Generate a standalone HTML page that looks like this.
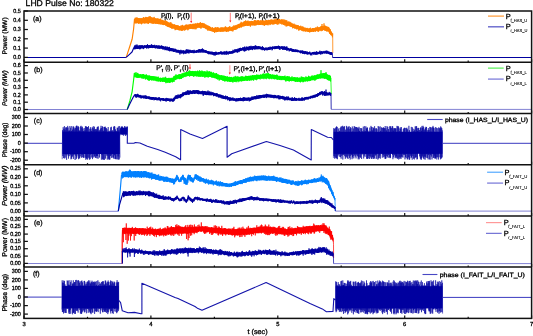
<!DOCTYPE html><html><head><meta charset="utf-8"><style>html,body{margin:0;padding:0;background:#fff;width:533px;height:336px;overflow:hidden}svg{display:block;will-change:transform}text{font-family:"Liberation Sans", sans-serif;stroke:#000;stroke-width:0.3px;paint-order:stroke;text-rendering:geometricPrecision}.s{stroke-width:0.1px}</style></head><body>
<svg width="533" height="336" viewBox="0 0 533 336">
<rect width="533" height="336" fill="#fff"/>
<path d="M24,57.5 126.2,57.5" fill="none" stroke="#0000a0" stroke-width="1.0" />
<path d="M134.5,17.6 134.7,17.8 135.1,17.9 135.3,18.4 135.6,18.6 135.9,17.8 136.2,17.8 136.6,18.2 137,17.9 137.2,18.1 137.6,18 138,18.3 138.5,18.1 138.7,18.6 139,18.5 139.4,18.2 139.8,18.4 140.3,18.6 140.7,19.1 141,18.5 141.3,18 141.7,18 142.2,18.1 142.6,18.6 143,18.5 143.2,17.8 143.6,17.7 143.9,17.9 144.3,17.9 144.5,18.1 145,17.6 145.3,17.4 145.6,17.4 145.8,17.5 146.3,17.3 146.6,17.2 147.1,17.4 147.3,17.2 147.6,18 147.8,17 148.3,17.4 148.6,17.5 149.1,16.9 149.6,17.4 150,17 150.2,16.8 150.6,17 151.1,17.1 151.4,17 151.8,17.3 152.3,17.6 152.7,17.5 153.1,18 153.4,18.3 153.7,17.5 154.1,18.2 154.5,17.9 154.7,18.1 155.2,18.6 155.5,17.9 155.8,18.1 156.3,18.2 156.8,19 157.1,18.2 157.4,18.9 157.7,18.6 158.1,19 158.5,18.6 158.8,19.1 159.1,18.9 159.6,19 160,19.6 160.3,19.8 160.6,19.2 160.8,19.5 161.3,19.7 161.5,20.2 162,19.7 162.5,19.8 162.8,19.8 163,19.9 163.3,20.1 163.8,21 164.1,20.7 164.3,21 164.6,21.1 165,20.4 165.3,21.4 165.8,21.5 166.2,21.1 166.7,21.2 167,21.3 167.2,21.5 167.5,21.6 167.7,21.7 168.1,22 168.3,22.1 168.8,22.4 169.3,23.1 169.6,22.7 169.9,23.2 170.1,23.5 170.5,22.9 170.9,23.2 171.4,23.5 171.8,23.5 172.2,23.7 172.5,23.6 172.8,23.7 173.1,24 173.5,24.7 173.8,24 174.2,24.8 174.6,24.9 174.9,25.1 175.4,25.3 175.8,24.7 176.1,25.5 176.5,25.4 176.7,25.5 177.1,25.1 177.3,25.3 177.6,26.2 177.9,25.9 178.3,25.5 178.6,25.7 178.8,25.8 179.2,25.9 179.5,26 179.8,26.9 180.1,27 180.4,26.9 180.8,26.2 181,26.1 181.5,26.6 181.7,26 182,25.8 182.4,26.1 182.7,26 182.9,25.6 183.3,25.6 183.5,26 184,25.3 184.3,26.1 184.7,25.9 185.1,25 185.4,25.3 185.6,24.9 185.9,25.3 186.2,24.8 186.5,24.7 187,24.6 187.5,24.4 187.7,24.4 188,25.1 188.3,24.5 188.7,24.2 188.9,24.5 189.2,24.1 189.5,24.6 189.7,24.4 190.1,23.8 190.5,24.5 190.8,23.8 191.2,24.3 191.6,24.1 192.1,24.6 192.4,23.9 192.8,23.8 193.1,23.8 193.3,24 193.7,24 194,24.3 194.2,24.3 194.5,24.7 194.7,24 195,24.3 195.3,23.8 195.5,24.3 196,23.6 196.3,24.4 196.7,24.4 196.9,23.5 197.4,24.3 197.7,24.1 197.9,23.3 198.2,23.1 198.5,23 198.8,23.6 199.1,23.1 199.5,22.9 199.8,23.4 200,22.7 200.3,23.5 200.6,23.1 201,22.8 201.4,23.1 201.6,22.9 202.1,22.8 202.4,22.7 202.8,23.3 203.1,22.9 203.4,23.5 203.6,23.3 204.1,24.3 204.3,23.7 204.7,23.8 205.1,24.6 205.3,24.1 205.6,24.2 205.9,25.1 206.2,25.5 206.5,25.1 206.7,25.4 207.2,25.1 207.4,25.5 207.8,25.6 208.2,25.6 208.6,25.9 208.8,26.3 209.1,26.2 209.4,26.3 209.7,26.5 210.1,26.6 210.5,26.8 211,27.2 211.3,27.9 211.6,27 212,27.8 212.5,27.2 212.8,28.1 213.2,27.6 213.5,28.3 213.9,28.5 214.1,28.5 214.3,27.8 214.7,27.8 215,28.5 215.3,27.9 215.6,27.8 216,28.1 216.3,27.7 216.6,27.8 217,28.1 217.3,28 217.6,28.3 217.9,27.6 218.2,27.8 218.4,27.6 218.8,27.6 219.2,27.6 219.6,28.2 220.1,28.4 220.4,28.3 220.7,27.5 221,27.5 221.5,27.5 221.8,27.4 222.2,28.2 222.7,27.6 223,27.6 223.4,28.3 223.7,27.3 224.1,27.8 224.4,27.2 224.7,28.2 225,27.2 225.3,27.4 225.8,27.2 226,27.2 226.3,27.4 226.6,27.3 227,27 227.4,27.6 227.7,27.4 228,27.1 228.4,27.7 228.8,26.9 229.2,27.1 229.5,27.2 229.9,26.8 230.1,27.6 230.6,27.4 230.9,26.9 231.1,26.7 231.6,27.4 231.8,26.8 232.2,26.9 232.5,26.4 232.7,27.2 233,26.2 233.5,26.4 234,26.4 234.4,26 234.7,25.8 235.2,25.2 235.7,25 235.9,25.2 236.3,25 236.8,25.3 237.2,25.2 237.5,24.1 237.9,24.6 238.2,23.8 238.5,23.9 238.7,24.1 239,23.7 239.4,23.4 239.9,23.6 240.1,23 240.4,22.9 240.9,22.9 241.3,22.7 241.7,23.2 242,22.4 242.4,22.7 242.8,22 243.2,21.7 243.4,21.7 243.7,22.3 244.1,21.9 244.5,21.3 244.9,21.6 245.2,21.3 245.6,21.1 245.9,21.7 246.1,21.1 246.4,21 246.8,21.9 247.1,21.6 247.4,21.4 247.7,21 248.1,21.3 248.5,21.4 248.9,21.2 249.3,21.1 249.8,21.5 250.2,21.2 250.6,21.1 251,21 251.3,21 251.8,21.2 252.1,21.7 252.5,21.3 252.8,21 253.2,21.1 253.6,21.5 254,21.1 254.5,20.5 254.8,20.6 255.2,20.5 255.6,20.7 256,20.4 256.5,20.7 256.8,21.2 257.2,20.9 257.5,20.2 257.8,20.2 258.1,20.1 258.5,20.1 258.9,20.4 259.2,20.7 259.6,20.6 260.1,19.9 260.5,20 260.8,20.6 261,20.6 261.5,20.7 262,20.8 262.4,20.7 262.8,20.3 263.1,20.2 263.3,20.5 263.8,21 264.1,21 264.5,20.4 264.9,20.8 265.3,21.3 265.7,20.3 266.1,21 266.4,20.8 266.7,20.4 267,20.2 267.3,21 267.7,20.1 268.1,20.5 268.5,20.1 268.8,19.8 269.2,20.4 269.6,20.1 270,19.7 270.3,19.6 270.5,20.4 270.8,20.1 271.1,19.6 271.4,20.3 271.8,19.3 272.2,19.5 272.5,20.1 272.8,19.3 273.1,19.2 273.5,20.1 274,19.2 274.3,19.2 274.7,19.9 274.9,19.6 275.4,20 275.6,19.5 275.8,19.6 276.3,19 276.6,19.5 277.1,19.4 277.4,19.6 277.8,19 278.3,19.6 278.7,19.6 279,19.7 279.4,19.6 279.7,18.9 280.1,19.6 280.5,19.7 280.8,19.7 281.3,19.2 281.7,19.9 282,19.9 282.2,20.1 282.6,20.3 282.8,20.5 283.2,20.2 283.5,20.4 283.8,20.3 284.1,20.2 284.4,20.2 284.8,20.3 285.2,20.7 285.5,20.8 285.9,21.7 286.2,20.9 286.4,21.7 286.9,21.1 287.2,22.1 287.6,22.2 287.9,21.5 288.4,21.6 288.7,22.5 288.9,22.3 289.4,22 289.9,22.2 290.3,22.4 290.5,22.4 290.8,22.5 291,23.5 291.5,23.6 291.8,23.8 292.2,23.2 292.6,23.3 292.8,23.6 293.3,23.7 293.5,23.7 293.9,24.6 294.4,24.7 294.6,24.1 294.9,25.1 295.4,24.4 295.6,24.5 295.8,24.6 296,24.9 296.4,24.8 296.6,25.4 296.9,25 297.2,25.1 297.6,25.6 297.9,25.5 298.1,25.5 298.5,25.6 298.9,25.8 299.3,26 299.7,26.3 300.1,26.7 300.5,26.8 300.9,27.2 301.3,26.8 301.5,26.6 301.7,27.3 302,26.7 302.3,27 302.6,27.3 302.8,27.1 303.1,26.9 303.5,27.3 303.8,27.9 304.1,27.4 304.6,27.4 304.9,28.3 305.3,28.1 305.7,28.4 306,27.7 306.3,27.9 306.5,28.3 306.9,28.6 307.1,27.9 307.4,28.8 307.7,28.2 308,28.5 308.4,28.4 308.7,28.2 308.9,28.4 309.2,28.6 309.6,28.8 310,28.8 310.3,28.5 310.7,28.7 311,28.4 311.4,29.2 311.8,28.2 312.1,28.3 312.5,28.1 312.9,28.1 313.3,28.6 313.7,28.4 314,28.3 314.3,27.7 314.7,28.6 315,28.4 315.3,27.8 315.6,27.8 315.9,28.2 316.2,27.5 316.6,27.4 316.9,28 317.2,28.1 317.4,27.5 317.8,28.1 318.2,27.2 318.6,27.9 318.9,27 319.3,27.5 319.6,27.1 319.9,27.3 320.2,27.2 320.5,26.9 321,26.5 321.3,26.5 321.5,26.5 322,26 322.4,26.4 322.7,26.2 323,26.1 323.4,26.7 323.7,25.6 323.9,25.5 324.4,26.3 324.6,25.8 324.9,25.8 325.4,26 325.7,26.8 326.2,26.5 326.4,26.9 326.9,26.4 327.3,27.4 327.7,26.6 328.1,27.5 328.4,27.2 328.7,27.6 329,28.1 329.4,28.7 329.7,29.1 330,30 330.3,29.9 330.7,30.6 331.2,32 331.6,31.8 331.9,32.2 332.3,32.8 332.5,33.2 332.7,33.8 332.7,36.7 332.5,36.6 332.3,36.3 331.9,35.5 331.6,35.9 331.2,35.5 330.7,34.9 330.3,34.3 330,34.2 329.7,33.4 329.4,33.4 329,32.9 328.7,32.3 328.4,31.3 328.1,31.9 327.7,31.6 327.3,31.5 326.9,31 326.4,31.1 326.2,31.1 325.7,30.7 325.4,30.7 324.9,30.7 324.6,30.1 324.4,30.5 323.9,30.1 323.7,29.9 323.4,30.2 323,30.5 322.7,30.2 322.4,30.7 322,30.6 321.5,30.7 321.3,30.8 321,30.9 320.5,30.3 320.2,30.8 319.9,31 319.6,30.1 319.3,30.3 318.9,31.1 318.6,30.8 318.2,31.2 317.8,31.2 317.4,30.6 317.2,31.5 316.9,30.6 316.6,30.7 316.2,31.6 315.9,31.4 315.6,31.5 315.3,31.2 315,31.4 314.7,31.4 314.3,31.2 314,31 313.7,31.3 313.3,31.2 312.9,31.8 312.5,31.1 312.1,31.9 311.8,31.3 311.4,32.1 311,31.9 310.7,32.2 310.3,32.2 310,31.9 309.6,32.2 309.2,31.4 308.9,32 308.7,32 308.4,31.9 308,31.9 307.7,31 307.4,31.4 307.1,31.3 306.9,30.9 306.5,30.8 306.3,31.6 306,31.3 305.7,31.4 305.3,31.4 304.9,30.7 304.6,31.2 304.1,31 303.8,31 303.5,30.5 303.1,30.6 302.8,30.9 302.6,30.9 302.3,30.4 302,30.8 301.7,30.7 301.5,30.6 301.3,30.4 300.9,29.7 300.5,30.4 300.1,29.7 299.7,30.1 299.3,30 298.9,30 298.5,29 298.1,29 297.9,29.1 297.6,29.5 297.2,29 296.9,28.9 296.6,28.6 296.4,28.7 296,28.9 295.8,28.8 295.6,27.8 295.4,27.9 294.9,27.5 294.6,28.4 294.4,27.9 293.9,28.1 293.5,28 293.3,27.9 292.8,27.7 292.6,27.6 292.2,26.8 291.8,26.7 291.5,27.2 291,27 290.8,26.5 290.5,26.8 290.3,26.7 289.9,26.3 289.4,26 288.9,26 288.7,25.7 288.4,26.2 287.9,25.3 287.6,25.7 287.2,26 286.9,25.6 286.4,25.6 286.2,25.8 285.9,25.7 285.5,24.7 285.2,25.2 284.8,25.4 284.4,25 284.1,25.2 283.8,25.1 283.5,24.8 283.2,24.9 282.8,24 282.6,24.1 282.2,23.9 282,24.3 281.7,23.5 281.3,23.9 280.8,23.6 280.5,23.6 280.1,23.8 279.7,23.6 279.4,23.2 279,23.7 278.7,23.5 278.3,23.8 277.8,24 277.4,23.1 277.1,23.6 276.6,24 276.3,23.9 275.8,24.1 275.6,23.5 275.4,23.6 274.9,24 274.7,23.7 274.3,24.2 274,23.7 273.5,24.3 273.1,24.3 272.8,23.9 272.5,23.4 272.2,24.4 271.8,23.8 271.4,24.5 271.1,24.4 270.8,24.3 270.5,24.2 270.3,24.6 270,24.3 269.6,24.3 269.2,24 268.8,24.1 268.5,24.9 268.1,25 267.7,25 267.3,24.7 267,24.9 266.7,24.5 266.4,25.2 266.1,25.2 265.7,24.9 265.3,25.2 264.9,25 264.5,25 264.1,25.3 263.8,25.2 263.3,25 263.1,25.1 262.8,25.2 262.4,25 262,25.2 261.5,24.7 261,25.1 260.8,25 260.5,25 260.1,25 259.6,25 259.2,25.1 258.9,24.7 258.5,25.1 258.1,25.2 257.8,25.1 257.5,24.6 257.2,25.1 256.8,25.2 256.5,25.2 256,25.4 255.6,25.4 255.2,25.5 254.8,25.4 254.5,25.5 254,25.6 253.6,25.7 253.2,25.1 252.8,25.5 252.5,24.9 252.1,25.9 251.8,25.3 251.3,25.5 251,25.8 250.6,25.4 250.2,26 249.8,25.4 249.3,25.6 248.9,25.8 248.5,25.9 248.1,25.7 247.7,25.9 247.4,26.1 247.1,25.6 246.8,26.1 246.4,25.1 246.1,25.8 245.9,26.1 245.6,26.1 245.2,26.1 244.9,26.1 244.5,26.3 244.1,25.9 243.7,26.5 243.4,25.9 243.2,26 242.8,26.8 242.4,26.6 242,27.2 241.7,27.3 241.3,27.4 240.9,27.4 240.4,27.3 240.1,27.3 239.9,27.8 239.4,28 239,27.6 238.7,28.3 238.5,28.6 238.2,28.1 237.9,28.4 237.5,28.3 237.2,29.1 236.8,29.3 236.3,29.3 235.9,29.1 235.7,29.7 235.2,29.8 234.7,30 234.4,29.8 234,29.8 233.5,30.1 233,30.6 232.7,30.3 232.5,30.9 232.2,30.1 231.8,30.5 231.6,30.6 231.1,31.1 230.9,31.1 230.6,30.7 230.1,30.6 229.9,31.2 229.5,31.1 229.2,30.5 228.8,31.4 228.4,31.4 228,30.6 227.7,31.2 227.4,31.3 227,31.5 226.6,31.5 226.3,31.2 226,31.6 225.8,31.2 225.3,31.4 225,31.7 224.7,31.4 224.4,31.1 224.1,31.6 223.7,30.8 223.4,31.4 223,31.5 222.7,31.4 222.2,31.8 221.8,31.9 221.5,31.7 221,31.7 220.7,31.2 220.4,32 220.1,31.2 219.6,32 219.2,31.3 218.8,31.8 218.4,31.6 218.2,31.8 217.9,32.1 217.6,31.9 217.3,31.9 217,32 216.6,32 216.3,31.9 216,31.7 215.6,31.7 215.3,32 215,31.6 214.7,31.6 214.3,31.3 214.1,31.9 213.9,32 213.5,31.9 213.2,31.9 212.8,31.8 212.5,31.7 212,31.4 211.6,31.5 211.3,31.3 211,31.2 210.5,31.1 210.1,31.1 209.7,30.8 209.4,30.2 209.1,30.2 208.8,30.1 208.6,30.4 208.2,29.9 207.8,30 207.4,29 207.2,29.8 206.7,28.8 206.5,28.5 206.2,29.1 205.9,28.8 205.6,29 205.3,28.6 205.1,28.3 204.7,28.2 204.3,27.9 204.1,28.2 203.6,28 203.4,27.9 203.1,27.3 202.8,27.4 202.4,27.2 202.1,27.6 201.6,26.9 201.4,26.9 201,27.8 200.6,27.7 200.3,27.7 200,27 199.8,27.3 199.5,27.1 199.1,27.9 198.8,27.4 198.5,27.2 198.2,28.1 197.9,28.1 197.7,27.8 197.4,27.5 196.9,27.7 196.7,28.5 196.3,28.6 196,28.6 195.5,28.7 195.3,28.2 195,28.6 194.7,28.4 194.5,28.9 194.2,28.8 194,28.9 193.7,28.9 193.3,28.1 193.1,28.7 192.8,28.8 192.4,28.7 192.1,28.7 191.6,29.1 191.2,28.7 190.8,28.9 190.5,28.2 190.1,29 189.7,28.5 189.5,28.5 189.2,29.2 188.9,28.7 188.7,28.6 188.3,29.4 188,29.1 187.7,29.6 187.5,29.7 187,29 186.5,29.9 186.2,29.7 185.9,29.1 185.6,29.9 185.4,30.1 185.1,29.7 184.7,29.5 184.3,29.6 184,30.2 183.5,30.5 183.3,30.5 182.9,29.6 182.7,29.9 182.4,30 182,30.7 181.7,30.6 181.5,30.6 181,30.1 180.8,30.1 180.4,31 180.1,30.9 179.8,31 179.5,30.2 179.2,30.6 178.8,30.3 178.6,30.3 178.3,30.5 177.9,29.8 177.6,30.1 177.3,29.7 177.1,29.6 176.7,29.8 176.5,29.7 176.1,29.5 175.8,29.7 175.4,29.2 174.9,28.8 174.6,29.3 174.2,28.4 173.8,28.6 173.5,28.8 173.1,28.3 172.8,28.7 172.5,28.6 172.2,28.5 171.8,28.4 171.4,28.2 170.9,28 170.5,27.9 170.1,27.1 169.9,27.7 169.6,27.6 169.3,27 168.8,26.8 168.3,26.8 168.1,26 167.7,26.2 167.5,26.5 167.2,25.9 167,26.4 166.7,26 166.2,25.7 165.8,25.8 165.3,25.2 165,25 164.6,25.1 164.3,24.7 164.1,25.2 163.8,25.2 163.3,25.1 163,25.1 162.8,24.5 162.5,24.7 162,23.9 161.5,24.7 161.3,24.2 160.8,24 160.6,24.5 160.3,23.8 160,23.5 159.6,24.1 159.1,24 158.8,23.4 158.5,23.6 158.1,24.2 157.7,24 157.4,24.1 157.1,23.9 156.8,23.8 156.3,23.7 155.8,23.9 155.5,23.8 155.2,23.2 154.7,23.5 154.5,23.8 154.1,22.8 153.7,22.9 153.4,23.2 153.1,22.7 152.7,23.6 152.3,22.7 151.8,23.1 151.4,23.1 151.1,23.4 150.6,22.5 150.2,23.3 150,23.2 149.6,22.7 149.1,22.7 148.6,23.1 148.3,23.3 147.8,23.1 147.6,23.1 147.3,22.7 147.1,23.4 146.6,22.7 146.3,23.4 145.8,23.5 145.6,23.5 145.3,23.5 145,23.5 144.5,22.8 144.3,23.1 143.9,22.7 143.6,23.6 143.2,23.6 143,22.7 142.6,23.6 142.2,23.4 141.7,23.6 141.3,23.7 141,23.8 140.7,23.1 140.3,23.8 139.8,23.1 139.4,23.3 139,23.1 138.7,23.7 138.5,22.7 138,23.3 137.6,23 137.2,23.4 137,23.5 136.6,23.1 136.2,23.4 135.9,22.7 135.6,23.1 135.3,23.4 135.1,23.3 134.7,23.3 134.5,22.9Z" fill="#ff8000"/>
<path d="M126.2,57.4 129.2,48.3 132.1,39.3 133.6,29 134.5,19" fill="none" stroke="#ff8000" stroke-width="1.15" stroke-linejoin="round"/>
<path d="M134.5,19 134.5,22.9 134.8,19 135,23.5 135.4,18.2 135.6,22.3 135.9,17.5 136.2,23.3 136.4,18.5 136.8,21.4 137,17.3 137.4,23 137.7,19.4 138.1,23.1 138.3,18.1 138.6,23.7 138.9,18.3 139.2,23.7 139.5,18.3 139.8,22.3 140.1,19.6 140.3,21.9 140.6,18.1 140.9,23.7 141.1,19.8 141.5,24.3 141.8,19.6 142,23.6 142.3,20.2 142.6,21.7 142.9,17.8 143.2,22.7 143.5,17.1 143.8,23.2 144.2,18.9 144.5,23.5 144.7,17.7 145,21.9 145.2,17.7 145.5,21 145.8,16.9 146,21.4 146.4,17.4 146.7,22.6 147.1,17.2 147.3,23.7 147.6,18.7 147.8,22.9 148.1,17 148.5,23.9 148.9,16.5 149.2,23.1 149.4,19.4 149.7,20.6 150,16.7 149.8,20 150,16 150.2,20 150.3,21.1 150.5,18.3 150.9,23.2 151.3,18.8 151.5,21.3 151.8,18.3 152.2,24 152.5,19.3 152.9,21 153.2,17.5 153.5,23.6 153.7,18.3 153.9,23.7 154.2,16.9 154.5,21.9 154.8,19.2 155.1,23.3 155.4,19.9 155.7,23.5 156,18.5 156.2,23.5 156.6,20.4 157,21.6 157.3,18.3 157.6,23.7 158,19.3 158.3,23.7 158.5,18.7 158.8,24.2 159.1,19.7 159.4,23.2 159.6,18.9 159.9,24.3 160.2,18.9 160.4,23.6 160.7,18.6 161,24.6 161.2,19.9 161.5,23.3 161.8,21.8 162,23 162.2,21.8 162.6,24.8 162.8,20 163,24 163.3,21.3 163.6,24 164,22.1 164.2,23.8 164.5,21.6 164.8,24.9 165.2,20 165.4,24.7 165.6,22.7 165.9,25.7 166.2,20.9 166.5,24.5 166.8,21.6 167,26.3 167.4,22.8 167.7,26.8 168,22.6 168.3,27 168.7,23.4 169,27.2 169.3,24.2 169.5,27.1 169.9,22.5 170.1,27.1 170.4,22.4 170.7,28 171.1,22.5 171.3,27.9 171.6,24.2 172,28.9 172.3,25.4 172.6,27.5 172.9,25.3 173.3,27.6 173.6,25.4 174,28.7 174.2,24.2 174.5,27.1 174.8,24.6 175.1,30.2 175.3,25.2 175.6,29.9 175.9,26.1 176.3,29.4 176.6,25 176.9,27.9 177.2,25.8 177.5,29.5 177.7,25.2 178,29.1 178.3,25.7 178.6,29.5 179,27.9 179.2,29.2 179.5,26 179.8,29.2 180.1,26.3 180.5,29.8 180.8,25.6 181,29.8 181.3,26.9 181.6,30.8 181.9,25.2 182.3,30.9 182.5,24.9 182.8,29.7 183.1,26.7 183.4,29.1 183.7,26.8 184,28.9 184.3,25.5 184.7,30.7 185,26.6 185.4,30 185.6,24.8 185.9,29.1 186.3,24.6 186.6,27.8 186.8,26.2 187.2,29 187.5,26.1 187.8,30.3 188,25.5 188.3,29.5 188.6,26.3 189,29.2 189.2,24.7 189.5,27.7 189.7,26.3 190,29 190.4,24.1 190.8,28.8 191.1,25.8 191.4,28 191.7,25.8 192.1,28.6 192.4,24 192.8,29.1 193.2,23.8 193.4,29.1 193.8,23.9 194.2,27.5 194.5,23.8 194.9,29.3 195.1,23.8 195.5,28.4 195.8,23.3 196,29.3 196.3,23.6 196.6,26.5 196.9,25.6 197.2,28.1 197.5,22.9 197.7,27.3 198,24.5 198.3,27.2 198.6,24.9 198.9,27.6 199.3,23.4 199.6,27.8 199.8,23.8 200.1,26.7 200.3,22 200.7,28.4 200.9,23.9 201.2,28.4 201.6,23.5 202,27.5 202.3,23.2 202.6,26.9 202.9,23.1 203.2,27.7 203.5,24.9 203.8,27.3 204.1,23.4 204.4,27.6 204.7,23.9 205.1,28.1 205.4,25.9 205.7,28.5 206,24.5 206.3,29.3 206.6,25.5 206.9,29.1 207.2,25.7 207.5,30.5 207.8,26.2 208.1,29.8 208.3,25.8 208.5,30.3 208.8,26.3 209.2,30.6 209.5,26.5 209.9,30.1 210.1,27.2 210.4,30.9 210.8,28.3 211,30.5 211.3,28.8 211.6,30.4 211.8,28.4 212.1,30.9 212.4,27.2 212.7,31.1 213,28 213.3,31.2 213.7,28.6 213.9,32 214.2,29 214.5,32.8 214.7,27.8 215,32.3 215.4,27.2 215.6,31.4 216,27.5 216.3,32.2 216.6,28 216.8,30.6 217.1,27.4 217.5,30.7 217.7,27.2 218,31.5 218.3,28 218.6,30.3 218.8,27.9 219.1,31.2 219.3,29 219.7,30.6 220,29.3 220.3,32 220.7,27.5 220.9,31 221.3,28.3 221.6,30.8 221.8,27.6 222.1,30.1 222.3,27.4 222.7,31.3 222.9,29.1 223.2,31.8 223.4,28.8 223.6,30.9 223.9,27.4 224.2,30.2 224.6,29.2 224.8,31.2 225,26.8 225.4,31.1 225.6,26.4 226,29.8 226.3,27.5 226.6,32 226.9,28 227.1,31.4 227.5,28.6 227.9,31.4 228.3,27.3 228.6,31.4 228.9,27.1 229.1,29.9 229.4,26.4 229.7,30.4 229.9,26.3 230.2,30.4 230.4,27.8 230.7,29.4 231,28.3 231.3,31.1 231.5,27.3 231.7,30.5 232,27.3 232.3,30.5 232.5,26.6 232.8,31.5 233.1,27.5 233.5,30.3 233.7,25.5 234,30 234.2,26.5 234.5,28.7 234.8,25.6 235.2,29.9 235.5,26.6 235.8,28.9 236.1,26.7 236.3,29.4 236.7,25.7 237,29.1 237.2,24.7 237.6,27.4 237.9,25.5 238.2,27.6 238.6,25.4 238.8,27.1 239,25.5 239.4,28.1 239.7,25 240.1,26.3 240.4,24.5 240.8,27.3 241.1,21.8 241.4,27.2 241.7,22.5 241.9,26.5 242.3,23.5 242.6,25.4 243,23.5 243.2,25.6 243.5,22.7 243.8,26.5 244,21.5 244.3,25.3 244.6,21.4 245,25 245.2,21.3 245.5,24.9 245.7,20.3 246,25.8 246.2,21.2 246.6,24.2 246.9,23.1 247.2,25.9 247.5,20.9 247.9,25.4 248.1,20.6 248.5,25.3 248.9,22.9 249.1,25 249.5,21.5 249.8,25.6 250.1,23 250.4,26.7 250.7,21.9 251.1,24.1 251.4,20.9 251.7,23.8 251.9,21.8 252.1,25.3 252.4,21.1 252.7,24.9 253.1,21.9 253.4,25.2 253.8,21.9 254,24.7 254.3,20.1 254.7,25.4 255,20.2 255.2,23.3 255.5,20.8 255.7,25.1 255.9,20.7 256.2,23.2 256.5,22.3 256.8,24.2 257.1,20.4 257.4,24.3 257.7,20.5 258.1,24.3 258.4,20.4 258.7,23.4 258.9,22.1 259.2,25 259.5,21.2 259.9,24.9 260.2,22.1 260.5,23.5 260.9,21.5 261.2,23.5 261.5,21.9 261.8,23.9 262,19.8 262.3,23.4 262.6,20.7 262.9,23.5 263.2,20.4 263.6,24.5 263.9,21.8 264.3,26 264.6,21.5 264.8,24.4 265.1,20.6 265.3,24.2 265.7,20.8 265.9,23.6 266.1,20 266.3,24.6 266.7,20.2 266.9,25 267.2,20.5 267.4,23.5 267.8,21.6 268,25.4 268.3,19.9 268.6,23.9 268.9,20.8 269.3,22.5 269.7,20.1 269.9,25.1 270.2,20.9 270.5,24.4 270.8,19.7 271.1,23.9 271.4,19.6 271.7,23.1 272.1,21.4 272.4,24.5 272.6,21.1 272.9,24 273.2,20.4 273.4,24.3 273.7,21.1 274,24.4 274.4,19.9 274.7,22.6 275.1,18.7 275.4,23.9 275.6,21 276,21.9 276.3,19.6 276.7,24.2 277,18.3 277.4,24.7 277.7,19 278,22.1 278.3,19.1 278.7,24.4 278.9,19.1 279.2,22.7 279.5,18.9 279.7,23.1 280.1,20.2 280.4,22.6 280.6,21 280.9,23.8 281.1,19.7 281.5,23.2 281.7,19.4 282,24.7 282.4,19.8 282.8,23.6 283,19.2 283.3,22.7 283.5,21.6 283.8,25 284.2,19.5 284.5,23.6 284.8,21.4 285.1,25.5 285.3,19.9 285.5,23.9 285.8,20.8 286.1,26.5 286.4,20.3 286.7,26.2 287,20.6 287.4,26.1 287.6,22.6 287.9,25.5 288.2,22.7 288.6,24.9 288.9,21.3 289.3,26 289.6,23.9 289.9,26.4 290.2,21.9 290.5,25.8 290.9,24.1 291.2,26.9 291.5,22.8 291.9,25.6 292.2,24.5 292.6,28.3 292.9,24.3 293.2,26 293.5,24.6 293.9,27.6 294.2,23.7 294.4,28.6 294.8,26 295.1,27.5 295.4,25.6 295.7,28.8 295.9,24.8 296.3,28.1 296.6,25.9 296.8,29.5 297,25.1 297.4,28.3 297.8,25.1 298,28.6 298.4,25.6 298.7,30.6 298.9,27.3 299.2,30.3 299.6,26.2 299.9,29.4 300.2,26.3 300.4,29.5 300.7,25.7 300.9,28.8 301.3,26.6 301.5,30.3 301.7,26.8 302,30.3 302.3,26.9 302.5,30.5 302.8,26.3 303.2,31.4 303.4,27.6 303.7,31 303.9,27.3 304.1,31.2 304.4,28.9 304.6,31.1 305,28.8 305.3,31.3 305.6,27.7 306,31.7 306.4,28.2 306.6,31.1 306.8,28.7 307.1,30 307.3,27.9 307.6,31.8 308,28.7 308.3,31.1 308.5,29.4 308.8,30.7 309.2,28.5 309.5,32.4 309.7,28.3 310.1,31.5 310.4,27.7 310.6,31.7 311,28.9 311.3,32 311.6,30 311.8,30.4 312.1,28.5 312.3,31.6 312.7,28 312.9,31.4 313.3,28 313.5,32 313.8,28.6 314,31.6 314.3,28.3 314.7,30.8 315.1,27.9 315.4,31.7 315.6,27.5 315.9,29.9 316.2,28.1 316.5,30.6 316.7,27.5 317.1,30.1 317.4,26.5 317.8,31.3 318,27.3 318.3,31.9 318.6,27.6 319,31.2 319.3,27.9 319.6,29.3 319.8,27.2 320.1,30.5 320.4,26.7 320.7,29.8 320.9,26.5 321.2,31.2 321.5,26.2 321.9,29.8 321.9,28.4 322,24 322.1,28.4 322.2,26.6 322.5,30.6 322.7,26.3 323.1,28.9 323.4,26.9 323.7,29 323.9,27.2 323.9,27.9 324,23.4 324.1,27.9 324.3,28.7 324.5,25.7 324.9,30.7 325.1,25.6 325.4,29.5 325.6,26.1 326,31 326.3,26.6 326.6,31.4 326.8,26.4 327.1,31.2 327.5,27 327.7,29.7 327.9,26.8 328.2,30.7 328.6,27 328.8,31.4 329.2,27.8 329.5,33.4 329.8,29.3 330,33.9 330.4,29.4 330.6,34.5 330.9,31.8 331.2,35.2 331.4,31.6 331.8,34.8 332.2,33.9 332.4,37.3 332.7,33.5 332.8,53" fill="none" stroke="#ff8000" stroke-width="0.8" stroke-linejoin="round"/>
<path d="M134.5,46.1 134.8,45.6 135.1,45.6 135.3,45.4 135.6,45.3 135.9,45.9 136.3,46.2 136.5,45.7 136.7,46.1 137.1,45.4 137.5,45.5 137.8,46.2 138.1,45.3 138.3,45.6 138.6,45.9 138.9,45.4 139.1,45.8 139.6,46.2 139.9,45.8 140.1,46.2 140.6,45.3 140.9,45.3 141.2,45.8 141.5,45.9 141.9,45.8 142.3,45.3 142.8,45.3 143.1,45.2 143.5,45.5 144,45.9 144.4,45.6 144.7,45.2 145,45.2 145.3,45.8 145.5,45.6 145.9,45.8 146.3,45.6 146.7,45.1 146.9,45 147.2,44.9 147.5,45.1 148,45.3 148.3,45.4 148.8,44.9 149.2,45.1 149.7,44.9 150,45.3 150.4,45.2 150.8,44.9 151.3,45 151.7,44.9 152.2,45.1 152.7,45 153.1,45.3 153.5,45.9 153.8,45 154.2,45.8 154.7,45 155.1,46 155.6,45.1 156,45.5 156.3,45.4 156.6,45.2 157,45.2 157.2,46 157.6,45.7 158,45.9 158.3,45.4 158.5,45.7 158.8,46.2 159.2,45.3 159.6,45.4 159.8,45.3 160.2,45.6 160.7,46.3 160.9,45.5 161.2,46.5 161.5,45.7 161.8,46.4 162,46.3 162.4,46 162.7,46.3 163.2,46.1 163.6,46.5 164.1,46.4 164.3,46.9 164.6,46.6 165.1,46.7 165.5,46.6 165.8,46.7 166.2,47.5 166.5,47.4 166.9,46.9 167.3,47 167.6,47.5 168,48 168.5,47.3 169,47.4 169.4,48.4 169.6,47.5 170,47.6 170.4,48.6 170.9,47.9 171.1,48.8 171.4,47.9 171.8,48.3 172,48.7 172.4,48.5 172.7,48.9 173.1,48.3 173.5,49 173.8,49.1 174.2,49.1 174.7,49.5 175,48.8 175.4,49.5 175.8,49.6 176.2,49.8 176.5,49.2 176.9,49.9 177.4,49.7 177.6,49.6 177.9,49.9 178.1,50.2 178.5,49.9 178.8,50.8 179.3,50.5 179.7,51 180.2,50.4 180.4,50.4 180.8,50.4 181.1,51 181.4,51.1 181.7,50.6 182.1,51.2 182.3,50.3 182.7,50.3 183,50.3 183.3,50.6 183.7,50.5 184,51.1 184.4,50.3 184.9,51.1 185.3,50.3 185.5,50.4 185.8,50.7 186.1,50.2 186.6,50.4 186.9,50.1 187.2,50.1 187.5,50.5 188,50.3 188.4,50.3 188.9,50.8 189.1,49.9 189.3,50.3 189.8,50.3 190,50 190.3,49.8 190.8,50.6 191.1,50.6 191.5,50.8 191.8,50.2 192.1,51 192.5,50.1 192.9,51.1 193.3,50.2 193.6,51 193.9,50.3 194.3,50.6 194.7,50.7 194.9,50.4 195.2,50.4 195.5,50.4 195.8,50.9 196.1,50.5 196.4,50.2 196.8,50.1 197.2,49.9 197.5,50.4 197.8,49.8 198.2,50.1 198.5,49.7 198.9,49.6 199.3,49.5 199.5,49.6 199.7,50.4 200,49.4 200.4,49.3 200.8,50 201.1,49.1 201.5,49.1 201.9,48.9 202.2,49.4 202.6,49.6 202.9,49.2 203.3,49.8 203.7,50.4 203.9,50 204.3,50.4 204.5,50.2 204.8,50.6 205.1,50.5 205.4,50.4 205.8,50.4 206.1,50.5 206.4,50.6 206.7,50.5 207,51 207.4,51.5 207.7,50.9 208.1,51.4 208.4,51.1 208.9,51.2 209.3,51.7 209.7,51.4 209.9,51.7 210.4,51.6 210.6,52.1 211,51.9 211.4,52.4 211.7,52.7 212,52.6 212.3,52.6 212.6,51.9 213,52 213.3,52 213.5,52.5 213.9,52 214.3,52.1 214.8,52.1 215.1,52.1 215.5,52.3 215.8,52.2 216.3,53 216.7,52.3 216.9,52.6 217.4,52.9 217.7,52.3 218.1,52.1 218.4,52.5 218.8,52.1 219.1,51.9 219.4,51.9 219.7,51.8 220.1,52.5 220.5,51.9 220.9,51.8 221.2,52.2 221.5,52.4 221.9,51.8 222.1,52.1 222.4,52.3 222.9,52.2 223.2,52.1 223.5,51.6 223.9,51.6 224.1,51.6 224.4,51.6 224.8,51.6 225.2,52.1 225.5,52.2 225.9,51.6 226.3,51.4 226.5,52.3 226.8,51.4 227.2,52.1 227.6,51.6 227.9,51.4 228.2,51.3 228.4,51.3 228.9,52 229.2,51.3 229.7,51.2 230.1,51.5 230.4,51.3 230.7,52 231.1,51.1 231.5,51.1 231.8,51.3 232.2,51.7 232.5,51.3 232.8,50.7 233.1,51.2 233.5,51 233.8,50.5 234.2,50.3 234.6,50.6 235,49.8 235.3,50.3 235.8,50 236,49.6 236.3,50 236.5,49.5 236.9,49.2 237.3,49.7 237.5,49.1 237.8,48.8 238.1,49 238.4,48.8 238.7,48.9 239.1,48.2 239.3,48.1 239.6,48.2 240.1,47.8 240.3,47.8 240.7,47.8 241.1,48.6 241.4,48.6 241.8,48.3 242.1,47.8 242.4,47.9 242.8,47.9 243,48.3 243.2,48 243.6,47.6 244,47.9 244.4,47.6 244.8,47.4 245.1,47.4 245.5,47.8 246,47.7 246.2,47.3 246.5,47.1 246.8,47 247.1,47.6 247.5,46.9 247.8,46.8 248.3,46.7 248.6,47.5 249,46.6 249.4,46.8 249.7,46.5 250.1,46.5 250.4,46.4 250.6,46.4 250.9,46.5 251.2,46.3 251.4,46.5 251.9,46.3 252.2,46.3 252.5,46.3 252.8,46.6 253.2,46.3 253.6,46.7 253.9,46.2 254.4,47 254.8,46.1 255.2,46.4 255.6,46.1 255.9,46.5 256.3,46.2 256.7,46 257,46.1 257.4,46.1 257.8,46.8 258.2,46.2 258.5,46.5 258.9,46.2 259.3,46.3 259.7,46.7 260,46.4 260.2,46.9 260.7,47.2 261,46.5 261.3,47.3 261.5,46.7 261.7,47.2 262,46.8 262.4,47.6 262.8,47.4 263.2,47.7 263.6,47.2 264,47.8 264.4,47.9 264.7,47.5 265,48.2 265.4,48.1 265.7,47.6 266.1,47.6 266.5,47.5 266.8,48.5 267.3,47.4 267.5,47.6 267.9,48.2 268.3,47.6 268.6,47.3 269,47.5 269.2,47.1 269.5,47.8 270,47.3 270.2,47 270.4,47 270.7,47.4 271.1,47.2 271.6,46.7 272,47.5 272.4,46.9 272.7,46.9 273.1,46.8 273.5,46.4 273.8,47.3 274.2,46.6 274.6,46.3 274.9,46.2 275.3,46.3 275.7,46.4 276.1,46.6 276.4,46.1 276.8,46.2 277.3,45.9 277.7,46.4 278.1,45.7 278.4,45.8 278.7,46.4 279,46.5 279.5,45.9 279.9,45.9 280.3,46.6 280.6,46.8 281,46.7 281.3,46.3 281.8,46.1 282.2,46.7 282.5,46.2 282.8,46.2 283.1,46.2 283.5,46.7 283.8,47 284.2,46.4 284.6,47 285,46.5 285.3,46.5 285.6,47 285.9,47.6 286.3,46.9 286.5,47.5 286.8,47.3 287.3,47.4 287.7,48.2 288,47.5 288.3,48.4 288.6,47.7 289,48 289.2,48.6 289.7,48.7 290,48.8 290.2,48.3 290.6,49.1 291,48.4 291.3,48.7 291.6,48.7 292.1,48.9 292.4,48.9 292.9,48.8 293.1,49.4 293.4,49.1 293.8,49 294.2,49.9 294.5,49.4 294.7,49.4 295.2,49.3 295.4,49.3 295.8,49.5 296.1,49.6 296.4,49.9 296.8,49.7 297.2,49.8 297.7,49.8 298.1,50.3 298.5,50.6 298.8,50 299,50.2 299.3,50.7 299.8,50.2 300,50.2 300.4,50.7 300.8,50.4 301.2,50.5 301.5,50.6 301.9,51.1 302.3,50.6 302.7,51.5 303,51.2 303.2,51.7 303.5,50.9 304,51.7 304.2,51.1 304.5,51.1 304.7,51.3 305.1,51.7 305.6,51.6 305.9,52.1 306.1,52.1 306.5,51.7 306.8,51.9 307.2,52.5 307.6,51.7 307.9,51.7 308.1,52.5 308.4,52 308.7,52.8 309.2,52 309.6,52.8 310.1,52.1 310.3,52.6 310.7,52.6 311.2,52.7 311.6,52.3 311.9,52.7 312.3,52.9 312.5,52.5 312.7,52.1 313.2,51.9 313.4,51.9 313.9,51.9 314.3,51.9 314.7,52 315.2,52.7 315.6,52.2 316,52 316.2,51.9 316.5,52.1 317,51.9 317.2,51.8 317.5,51.6 317.8,52.1 318.3,52.1 318.6,52.1 318.9,52.1 319.2,51.5 319.6,52 320,51.8 320.3,51.9 320.6,51.5 320.9,51.4 321.3,51.2 321.7,51.4 322,51.2 322.5,51.3 322.7,51.8 323,51.7 323.3,51.6 323.7,51.3 324.1,50.9 324.6,51.5 324.9,51.7 325.1,51 325.6,50.8 325.9,50.8 326.4,51.3 326.8,51 327.1,51.4 327.4,51.1 327.6,51.5 328,51.6 328.4,51.4 328.9,51.5 329.1,51.7 329.5,51.8 329.9,52.7 330.4,52.4 330.7,52.8 331.1,52.4 331.4,52.5 331.6,52.2 331.9,52.7 332.2,52.1 332.5,52.6 332.5,52.3 332.5,54.7 332.5,54.5 332.2,54.9 331.9,54.7 331.6,54.9 331.4,54.6 331.1,54.9 330.7,54.7 330.4,54.6 329.9,54.5 329.5,53.9 329.1,53.8 328.9,54.3 328.4,54 328,54 327.6,53.1 327.4,53.6 327.1,53.4 326.8,53.4 326.4,53.5 325.9,53.3 325.6,53.5 325.1,53.5 324.9,53.2 324.6,53.2 324.1,53.7 323.7,52.8 323.3,53.1 323,53.6 322.7,53.8 322.5,53.8 322,53.2 321.7,53.6 321.3,54 320.9,53.9 320.6,53.9 320.3,53.8 320,53.7 319.6,54 319.2,53.7 318.9,53.3 318.6,54.3 318.3,54.3 317.8,53.9 317.5,53.6 317.2,54.3 317,53.5 316.5,54.2 316.2,54.4 316,53.9 315.6,54.3 315.2,53.9 314.7,54.6 314.3,54.5 313.9,53.9 313.4,53.7 313.2,53.8 312.7,54.4 312.5,54.4 312.3,53.8 311.9,54.3 311.6,54.8 311.2,54.6 310.7,54.9 310.3,54.8 310.1,54 309.6,54.2 309.2,54.4 308.7,54.5 308.4,53.7 308.1,54.5 307.9,53.9 307.6,54.4 307.2,54.3 306.8,54.3 306.5,53.5 306.1,54.2 305.9,53.7 305.6,53.8 305.1,53.9 304.7,53.8 304.5,53.8 304.2,53.8 304,53.7 303.5,53.5 303.2,53.6 303,53.2 302.7,52.6 302.3,53.4 301.9,53.3 301.5,52.8 301.2,53.1 300.8,52.9 300.4,52.9 300,52.9 299.8,52.4 299.3,52.6 299,52.2 298.8,52 298.5,51.7 298.1,52.5 297.7,52.5 297.2,51.7 296.8,52.3 296.4,52 296.1,52 295.8,51.5 295.4,51.5 295.2,51.9 294.7,52 294.5,51.5 294.2,51.2 293.8,51.4 293.4,51.5 293.1,50.9 292.9,51.6 292.4,51.4 292.1,51.3 291.6,51.4 291.3,50.4 291,51.3 290.6,50.3 290.2,51 290,50.6 289.7,50.8 289.2,50.8 289,49.9 288.6,49.9 288.3,49.8 288,50.4 287.7,50.1 287.3,50.4 286.8,50.1 286.5,50.2 286.3,50.1 285.9,49.8 285.6,49.7 285.3,49.8 285,49.7 284.6,49.5 284.2,49.6 283.8,49.4 283.5,49.6 283.1,49.5 282.8,49.4 282.5,48.8 282.2,48.8 281.8,48.8 281.3,49.2 281,48.9 280.6,49 280.3,48.1 279.9,48.4 279.5,48.9 279,48.8 278.7,48.6 278.4,48.3 278.1,48.6 277.7,48.6 277.3,48.6 276.8,48.3 276.4,48.8 276.1,48.1 275.7,48.9 275.3,49 274.9,48.7 274.6,48.4 274.2,48.7 273.8,48.9 273.5,49.1 273.1,48.6 272.7,49.3 272.4,49.3 272,48.9 271.6,48.8 271.1,48.9 270.7,49.1 270.4,49.5 270.2,49.4 270,49.5 269.5,49.4 269.2,49.9 269,49 268.6,49.6 268.3,50 267.9,50 267.5,50.2 267.3,49.3 266.8,50.1 266.5,50.1 266.1,49.9 265.7,50.3 265.4,50.1 265,49.8 264.7,50.2 264.4,49.9 264,49.7 263.6,50 263.2,50 262.8,49.3 262.4,49.9 262,48.9 261.7,49.5 261.5,49.7 261.3,49.6 261,49.5 260.7,49.6 260.2,49.6 260,49.5 259.7,49.5 259.3,48.8 258.9,48.8 258.5,48.5 258.2,48.6 257.8,48.4 257.4,49 257,48.9 256.7,48.5 256.3,49 255.9,49.4 255.6,49.1 255.2,49.5 254.8,48.5 254.4,49.5 253.9,48.6 253.6,49.4 253.2,49.6 252.8,49.6 252.5,49.3 252.2,49.4 251.9,49.2 251.4,49.4 251.2,49.2 250.9,49.7 250.6,49.5 250.4,49.7 250.1,49.8 249.7,49.8 249.4,49.4 249,49.8 248.6,50 248.3,49.9 247.8,50 247.5,50.3 247.1,50.2 246.8,49.5 246.5,49.6 246.2,50.4 246,50.5 245.5,50.7 245.1,50.5 244.8,50.4 244.4,50.8 244,50.6 243.6,50.5 243.2,50.3 243,50.1 242.8,50.3 242.4,50.9 242.1,50.3 241.8,50.4 241.4,50.9 241.1,51 240.7,51.2 240.3,50.7 240.1,51.1 239.6,51.2 239.3,51.2 239.1,51.4 238.7,51.6 238.4,51.2 238.1,51.7 237.8,51.4 237.5,51.7 237.3,52 236.9,52 236.5,52.3 236.3,52.3 236,52.2 235.8,51.7 235.3,52.3 235,52.2 234.6,52.6 234.2,53.1 233.8,53.1 233.5,53.3 233.1,53.4 232.8,52.7 232.5,53.2 232.2,53.6 231.8,53.8 231.5,52.9 231.1,53.4 230.7,53.8 230.4,53.3 230.1,53.2 229.7,54 229.2,53.1 228.9,53 228.4,54 228.2,53.7 227.9,54.1 227.6,53.4 227.2,54 226.8,53.5 226.5,53.7 226.3,53.8 225.9,53.3 225.5,53.9 225.2,54 224.8,53.9 224.4,54.1 224.1,54.1 223.9,54 223.5,54.4 223.2,54 222.9,54.4 222.4,54.2 222.1,54.3 221.9,54.3 221.5,54.4 221.2,54.2 220.9,53.6 220.5,54.2 220.1,54.6 219.7,54.4 219.4,54.1 219.1,54.5 218.8,54.6 218.4,54.5 218.1,54.1 217.7,54.1 217.4,54.8 216.9,54.7 216.7,54.7 216.3,54.8 215.8,54.7 215.5,54.9 215.1,54.8 214.8,54.5 214.3,54.8 213.9,54.8 213.5,54.6 213.3,54.6 213,54.3 212.6,54.6 212.3,54.4 212,53.8 211.7,54.5 211.4,54.3 211,53.9 210.6,54.1 210.4,54.2 209.9,53.8 209.7,54.1 209.3,53.7 208.9,53.9 208.4,53.7 208.1,53.7 207.7,53.2 207.4,53.3 207,52.9 206.7,53.1 206.4,53.1 206.1,52.9 205.8,52.9 205.4,52.1 205.1,52.2 204.8,51.9 204.5,52.8 204.3,52.2 203.9,51.9 203.7,52.4 203.3,52.3 202.9,52 202.6,51.6 202.2,51.8 201.9,51.9 201.5,51.3 201.1,51.8 200.8,52.3 200.4,52.3 200,52.3 199.7,52.3 199.5,52.5 199.3,51.7 198.9,52.1 198.5,52.1 198.2,52.7 197.8,52 197.5,52.6 197.2,52.8 196.8,52.7 196.4,53 196.1,53 195.8,52.9 195.5,52.5 195.2,53.2 194.9,52.6 194.7,53.2 194.3,52.8 193.9,52.8 193.6,53.1 193.3,52.6 192.9,52.1 192.5,52.9 192.1,53 191.8,52.5 191.5,52.7 191.1,53 190.8,52.9 190.3,52.7 190,52 189.8,52.4 189.3,52.5 189.1,52.7 188.9,53 188.4,53 188,52.4 187.5,53.1 187.2,52.8 186.9,53.3 186.6,52.4 186.1,52.4 185.8,53.1 185.5,53.4 185.3,53.4 184.9,53.5 184.4,53.3 184,52.9 183.7,52.8 183.3,52.7 183,52.8 182.7,52.8 182.3,53.6 182.1,53.6 181.7,53.2 181.4,52.9 181.1,53.7 180.8,53.3 180.4,52.8 180.2,53.2 179.7,53.5 179.3,52.9 178.8,52.5 178.5,52.9 178.1,53.2 177.9,52.5 177.6,52.9 177.4,52 176.9,52.4 176.5,51.7 176.2,52.3 175.8,52.3 175.4,51.3 175,51.3 174.7,51.7 174.2,51.8 173.8,51.7 173.5,51.1 173.1,51.5 172.7,50.8 172.4,51.4 172,51.1 171.8,50.9 171.4,51.2 171.1,50.8 170.9,51.1 170.4,51 170,51 169.6,50.4 169.4,50.9 169,50 168.5,50.1 168,50.5 167.6,49.6 167.3,50.3 166.9,50.2 166.5,50.1 166.2,49.8 165.8,49.9 165.5,49.8 165.1,49 164.6,49.6 164.3,49.6 164.1,49.6 163.6,49.4 163.2,48.7 162.7,48.8 162.4,49 162,49 161.8,48.8 161.5,48.5 161.2,48.8 160.9,48.9 160.7,48.6 160.2,48.5 159.8,48.6 159.6,48.6 159.2,48.6 158.8,48.5 158.5,48.6 158.3,48.6 158,47.7 157.6,48 157.2,48.5 157,48.3 156.6,48 156.3,48.3 156,48.4 155.6,48 155.1,48.1 154.7,48.1 154.2,48.2 153.8,47.5 153.5,47.3 153.1,48 152.7,48.2 152.2,47.7 151.7,47.4 151.3,48.1 150.8,47.9 150.4,47.9 150,48.1 149.7,48 149.2,48 148.8,47.8 148.3,48.1 148,47.4 147.5,47.6 147.2,47.7 146.9,47.6 146.7,48.2 146.3,47.7 145.9,48 145.5,47.9 145.3,47.6 145,47.7 144.7,47.7 144.4,47.8 144,47.8 143.5,47.7 143.1,48.5 142.8,48.4 142.3,47.8 141.9,48.2 141.5,47.9 141.2,48.5 140.9,47.9 140.6,48.6 140.1,48.7 139.9,48.2 139.6,48.4 139.1,48 138.9,47.9 138.6,48.7 138.3,48.2 138.1,48.9 137.8,48.9 137.5,49 137.1,49 136.7,49 136.5,49 136.3,48.7 135.9,49 135.6,49.1 135.3,49 135.1,48.6 134.8,49 134.5,49.1Z" fill="#0000a0"/>
<path d="M126.2,57.4 129.5,54.3 132,52 133.5,48.5 134.5,46.5" fill="none" stroke="#0000a0" stroke-width="1.15" stroke-linejoin="round"/>
<path d="M134.5,46.5 134.5,49.3 134.7,45.5 135.1,48.4 135.4,47 135.6,49.2 135.9,44.8 136.2,47.7 136.4,45.5 136.8,48.2 137,44.5 137.2,48.2 137.5,45.8 137.7,48.8 138.1,45.9 138.4,48.8 138.7,45.9 139,47.8 139.3,45.3 139.5,49.2 139.9,45.4 140.2,49.2 140.6,45.7 140.9,48.8 141.2,45.3 141.5,48 141.9,45.2 142.2,47.3 142.6,45.8 142.9,48.5 143.1,46.4 143.4,49.1 143.8,46.2 144,48.4 144.4,45.4 144.6,47.3 145,45.4 145.3,47.4 145.5,45.9 145.9,47.4 146.2,45.2 146.5,48.5 146.9,45 147.2,47.6 147.5,44.2 147.7,48.2 148,46 148.4,48.4 148.8,45 149.1,48.1 149.5,45.8 149.8,47.9 150.1,45.6 150.5,47.6 150.8,46.1 151.1,47.5 151.4,44.2 151.7,47.7 151.9,45.2 152.3,47.9 152.6,44.9 152.9,48 153.2,45 153.6,47.7 153.8,45.7 154.2,46.9 154.6,44.8 154.8,48 155.2,46.5 155.4,48.4 155.7,45.7 156,47.8 156.2,46.1 156.6,48 156.8,45.2 157.2,48.4 157.5,46.4 157.8,48.5 158.2,45.2 158.5,48.3 158.7,46.4 159.1,48.4 159.3,46.7 159.7,48.7 160,46.8 160.2,48.4 160.5,46.8 160.7,47.5 161.1,45.9 161.4,47.6 161.7,45.3 162.1,49 162.4,46 162.7,49.3 162.9,46.8 163.2,49.4 163.5,46.6 163.9,48.2 164.2,46.8 164.5,48.9 164.8,47 165,50.2 165.4,46.6 165.6,49.8 166,46.6 166.3,50 166.7,48 166.9,50.3 167.2,46.6 167.5,49.7 167.7,47.1 167.9,50.3 168.3,47.5 168.6,50.6 169,47.6 169.2,50.8 169.5,46.9 169.8,51.4 170.2,48.1 170.5,50.4 170.8,48.2 171.1,49.7 171.4,48.1 171.7,51.2 172.1,48.4 172.4,50.7 172.7,48.5 172.9,51.4 173.2,49.1 173.6,51.8 173.8,48.5 174.2,51.8 174.5,50 174.8,51.4 175.1,48.7 175.4,51 175.6,49.2 176,52.4 176.2,49.7 176.5,51.1 176.9,50.3 177.1,52.8 177.5,50.3 177.7,51.7 177.9,50 178.2,51.7 178.5,49.9 178.8,52.4 179.1,50.1 179.3,52.4 179.6,50.5 179.9,54.5 180.2,51.4 180.5,52.3 180.8,49.8 181.1,53.5 181.5,50.4 181.7,52.2 182.1,50.9 182.3,53.3 182.7,51.6 183,52.7 183.3,50.2 183.6,54.2 183.9,51 184.3,52.4 184.5,50.9 184.8,53.4 185.1,51.5 185.3,53.7 185.7,50.6 186,52.6 186.3,49.3 186.7,53.5 187,49.6 187.2,53 187.5,50 187.7,52.9 188,49.3 188.3,53.3 188.7,50.3 189.1,53.4 189.4,49.9 189.7,52.2 190,49.8 190.4,51.8 190.6,50.8 190.9,52.8 191.2,51 191.6,52.8 191.9,50.2 192.2,52.1 192.4,50.3 192.7,52.6 193.1,50.3 193.3,53.2 193.6,51.3 193.8,53 194.1,49.8 194.4,53.1 194.7,50.9 195,52 195.2,50.9 195.6,52.2 196,50.8 196.4,52.1 196.7,50.4 197,52.7 197.3,50.3 197.7,51.5 198,49.9 198.3,51.5 198.6,49.6 198.9,53 199.1,49.6 199.4,52 199.7,49 200,52.2 200.3,50.2 200.7,52.5 200.9,49.5 201.3,51.8 201.7,49.7 202.1,52.9 202.4,48.4 202.7,51.5 203,49.6 203.4,52.3 203.7,49.3 204.1,52.6 204.4,50.5 204.6,51.7 205,50.3 205.3,52.8 205.6,50.1 206,52.6 206.2,50.7 206.4,53.1 206.8,50.9 207.1,52.3 207.3,51.7 207.6,53.6 207.9,51.2 208.1,53 208.4,52 208.8,54.3 209.1,51.4 209.5,54.1 209.8,52.5 210.1,53.9 210.4,51.7 210.8,54.4 211,52.4 211.4,54.3 211.7,51.6 211.9,53.3 212.3,51.8 212.6,54.6 212.9,52.1 213.2,54.7 213.5,52.6 213.9,55.4 214.2,52.4 214.5,54.8 214.8,52.7 215.1,55.7 215.4,52.2 215.6,54 215.9,51.6 216.2,54 216.5,52.1 216.7,54.8 217,52.5 217.4,54.2 217.7,52.9 218,54.2 218.4,52 218.6,54.3 218.8,52.3 219.2,53.7 219.5,52 219.8,54.1 220.1,52.2 220.4,53.6 220.8,51.2 221,53.5 221.2,52.1 221.5,54.2 221.8,51.5 222.1,54.5 222.4,52.8 222.8,54 223,52 223.3,54.4 223.6,52.2 223.9,53.2 224.1,51.6 224.4,53.7 224.6,51.9 224.9,55 225.2,51.6 225.6,53.2 226,51.5 226.3,54.9 226.7,50.9 227.1,53.5 227.3,51.9 227.5,54 227.8,52 228.1,54.8 228.4,52.4 228.7,53.3 229.1,51.7 229.4,53.8 229.7,51.6 230,53.2 230.2,51.6 230.4,53.7 230.7,51.9 230.9,53.4 231.3,51.1 231.6,53.4 231.9,51.1 232.1,53.5 232.4,51.3 232.7,53.3 233,49.8 233.3,52.7 233.7,50.5 234,52.5 234.3,51.1 234.6,51.9 234.9,49.1 235.2,52.3 235.6,49.6 235.9,52 236.2,49.5 236.5,51.1 236.9,49.3 237.1,52.5 237.5,49.8 237.7,52.6 238.1,48.6 238.4,51.4 238.7,48.9 239.1,52.1 239.4,48 239.8,50.9 240.2,47.9 240.4,50.5 240.7,48.8 241,50.1 241.4,48.3 241.7,50.3 242,48 242.3,50 242.7,47.3 242.9,49.6 243.2,48.8 243.5,50.6 243.9,47.7 243.8,49.2 244,47 244.2,49.2 244.2,51.4 244.6,46.6 244.8,51.4 245,47.5 245.4,50.3 245.7,47.8 246,51 246.3,46.5 246.6,49.1 246.9,47.2 247.1,49.5 247.5,47.1 247.8,49.3 248.1,46.6 248.3,50 248.6,48 248.8,50.6 249.2,46.7 249.5,49.5 249.8,46.1 250.2,49.4 250.4,47.4 250.7,49.4 251,45.8 251.3,48.3 251.6,47.7 251.8,49.6 252.2,47 252.5,50.1 252.8,46.3 253.1,48.4 253.4,46.4 253.6,48.8 253.9,46.2 254.2,48.4 254.4,46.4 254.7,49.6 255,45.7 255.4,49.1 255.7,45.3 256,49.1 256.3,47.4 256.5,48.7 256.8,46 257,49.4 257.3,46.8 257.7,48.5 257.9,47.3 258.2,49.3 258.5,46.2 258.7,48.7 259.1,46.2 259.4,48.6 259.7,47.1 260,48.5 260.4,46.6 260.7,48.3 261.1,47.4 261.5,49.3 261.8,47.5 262.2,50.2 262.4,46.1 262.7,49.9 263,47.3 263.3,48.8 263.6,47.5 263.9,50.1 264.3,48.1 264.6,50.6 265,48.4 265.3,49.4 265.7,47.6 266,49.6 266.2,48.6 266.5,50.2 266.9,47.7 267.2,50.2 267.4,47.9 267.7,50.1 267.9,48.3 268.1,49.9 268.4,47.4 268.6,49.9 268.9,47.6 269.1,49.4 269.4,47.7 269.8,49.8 270.1,46.6 270.4,49.4 270.7,47.7 270.9,49.1 271.2,47.3 271.5,48.6 271.7,47.7 272,50.3 272.3,46.6 272.5,49.6 272.8,46.6 273,48.6 273.4,47.4 273.8,48.2 274.1,46.4 274.4,49.1 274.6,47.1 275,49.1 275.3,46.8 275.6,48.7 275.9,46.1 276.3,48.9 276.6,46.7 276.9,48.4 277.1,46.3 277.4,48.6 277.7,46.9 278,47.9 278.4,45.7 278.7,48.8 279,46.6 279.4,49.6 279.7,46.1 280.1,49.7 280.3,46.9 280.6,47.9 281,47.3 281.4,48.4 281.7,46.6 281.9,48.2 282.3,47 282.6,49.8 283,46.3 283.2,49.3 283.4,47.3 283.8,49.4 284,46.8 284.3,49.7 284.6,46.4 284.9,48.3 285.1,47.4 285.4,49.9 285.8,47.3 286,50 286.4,46.7 286.7,50.6 286.9,46.5 287.3,50.1 287.6,48 288,50.4 288.3,48 288.6,49.6 288.9,49.1 289.2,51.4 289.5,48.9 289.7,50.6 290.1,48.5 290.4,50.6 290.6,48.5 290.9,50.2 291.1,48.7 291.5,50.1 291.7,48.6 292,51.5 292.3,49.4 292.5,51.7 292.8,49.7 293,50.7 293.3,49.1 293.5,51.8 293.8,50.1 294,51.8 294.3,49.7 294.5,51.5 294.9,49.8 295.2,52.1 295.5,49.8 295.8,51.4 296.1,49.9 296.3,51.8 296.7,49.7 297,51.9 297.3,50.4 297.6,51.7 297.8,49.9 298.1,52.2 298.5,50.7 298.8,51.6 299.1,51.2 299.5,52 299.7,51.1 300,52.6 300.4,51.4 300.6,53.3 300.9,50.5 301.1,52.5 301.4,51.2 301.6,52.3 302,50.8 302.3,53.4 302.6,50.5 302.9,54 303.1,52 303.5,52.8 303.7,50.9 304,53.7 304.3,51.9 304.7,54.2 305.1,51.2 305.4,53.1 305.6,51.3 305.9,53.3 306.2,51.5 306.5,54.2 306.7,51.9 307.1,53.6 307.3,51.6 307.6,54.5 308,52 308.3,53.5 308.7,52.7 308.9,54.2 309.1,52.2 309.4,54 309.7,51.6 310,54 310.3,53.3 310.6,55.3 310.9,53.1 311.2,54.3 311.5,53.3 311.8,55.4 312.1,52.7 312.4,53.9 312.8,52 313,54.1 313.2,52.2 313.6,54.6 314,51.9 314.3,54.4 314.6,51.9 314.9,53.5 315.3,52.1 315.5,54.7 315.9,51.8 316.2,54.6 316.5,51.3 316.8,54.6 317,52.2 317.3,54.4 317.6,52.8 317.9,54.2 318.2,51.9 318.5,54 318.7,52 319.1,53.5 319.4,51.6 319.7,54.1 319.9,50.7 320.2,53 320.5,52.3 320.8,54.7 321.1,51.2 321.4,53.4 321.6,51.7 321.9,53 322.2,51.5 322.5,54.1 322.8,52.1 323.1,53.3 323.5,51.7 323.8,53.2 324.1,50.9 324.4,53.3 324.8,52.1 325.2,52.4 325.5,50.9 325.8,52.7 326.1,51.5 326.3,53.7 326.7,50.5 326.9,53.2 327.2,51.7 327.4,53.1 327.7,50.9 328,53.8 328.3,52.3 328.6,53.8 329,51.6 329.2,54 329.6,52.8 329.9,54.5 330.2,52 330.4,54.6 330.8,52.1 331.1,54.7 331.3,52.2 331.7,54.9 332.1,53.3 332.3,54.5 332.7,57.5" fill="none" stroke="#0000a0" stroke-width="0.8" stroke-linejoin="round"/>
<path d="M332.5,57.5 531.6,57.5" fill="none" stroke="#0000a0" stroke-width="1.0" />
<path d="M24,109.5 127.2,109.5" fill="none" stroke="#8282d4" stroke-width="1.0" />
<path d="M331.2,109.4 531.6,109.4" fill="none" stroke="#8282d4" stroke-width="1.0" />
<path d="M134.4,72.7 134.6,72.3 135.1,73.3 135.3,72.5 135.7,73.2 136,73.6 136.4,73.4 136.8,73.8 137.2,73.7 137.4,73.1 137.9,74.2 138.3,73.4 138.7,73.5 139,74.4 139.4,73.9 139.8,74.4 140.1,74 140.5,74.1 140.9,74.6 141.1,74.3 141.4,74.4 141.7,74.7 142,74.2 142.2,74.5 142.6,74.3 143,74.8 143.4,74.9 143.8,74.6 144.1,75.2 144.5,74.9 144.7,75 145,75.3 145.4,75 145.8,75 146.1,75 146.4,75.2 146.8,75.1 147.1,75.1 147.4,75.2 147.7,75.7 148.1,75.3 148.5,76.2 148.9,75.8 149.4,75.7 149.7,76 149.9,76.5 150.2,75.8 150.7,75.8 151,76.2 151.3,75.8 151.5,76 152,76.1 152.2,76.8 152.5,76.8 152.9,76.5 153.3,76.3 153.7,76.6 154,77.2 154.3,76.5 154.6,77.3 155.1,76.6 155.5,77 156,76.9 156.2,76.8 156.7,77.6 157,77.2 157.4,77.5 157.7,77.6 158.1,77.5 158.4,77.2 158.7,78 159,77.3 159.2,78 159.7,78.2 160.1,77.5 160.5,77.8 160.9,77.5 161.2,77.8 161.7,78 162.1,78 162.5,78 162.8,77.5 163.3,77.9 163.8,78.5 164.2,77.6 164.5,77.7 164.7,78.2 165.1,78.1 165.4,77.6 165.9,77.8 166.1,77.7 166.4,77.7 166.8,78.2 167.1,78.4 167.5,78 167.7,78.1 168.2,78.1 168.6,78.1 168.8,77.8 169,77.8 169.5,77.9 169.9,78.2 170.1,78.3 170.3,77.7 170.7,77.8 171,78.4 171.4,77.9 171.8,77.7 172.1,77.9 172.4,77.6 172.7,77.4 173,77.9 173.3,77.5 173.6,76.9 174.1,77.1 174.4,76.4 174.6,76.1 174.9,75.8 175.3,76.1 175.6,75.7 176.1,75.2 176.3,75.6 176.5,75.1 176.8,75.6 177.2,75 177.6,74.8 178,74.7 178.3,75.4 178.7,75 179,74.6 179.2,74.5 179.6,74.7 179.9,74.4 180.2,74.3 180.5,75 180.7,74.1 181.1,74.7 181.5,74.6 181.8,74.3 182.1,73.5 182.6,73.4 183,73.1 183.3,73.2 183.6,73.7 184,72.8 184.3,72.9 184.8,72.9 185.2,72.7 185.5,72.1 185.7,72.2 186.1,71.9 186.5,72.6 186.7,72.2 187.2,71.9 187.4,71.9 187.7,71.4 187.9,71.5 188.2,71.7 188.7,71.5 188.9,71.3 189.3,70.9 189.8,70.8 190.3,70.9 190.7,70.6 191,71 191.5,71 191.9,71.3 192.3,70.8 192.6,70.9 192.9,71.2 193.4,71.1 193.7,71 193.9,71.4 194.2,71.5 194.6,71 194.8,71 195.1,70.8 195.6,70.9 195.9,71.4 196.3,71.2 196.6,70.9 196.8,71.9 197.2,70.9 197.5,71.6 197.7,71.8 198,72 198.4,71.3 198.7,71.1 199.1,71.1 199.5,71.6 199.8,71.7 200.2,72 200.7,71.7 201.1,71.8 201.5,71.4 201.8,71.2 202.2,71.8 202.6,71.3 202.8,71.3 203.1,72 203.6,71.4 204,71.4 204.5,72.1 204.9,71.5 205.3,71.9 205.5,72.3 205.9,71.4 206.3,71.4 206.6,72 206.9,71.9 207.2,71.5 207.6,71.5 208,71.6 208.3,72.3 208.8,71.8 209.1,72.3 209.3,72.3 209.7,71.7 210.1,71.6 210.5,71.9 210.7,71.9 211,71.9 211.4,72.1 211.9,72.6 212.2,72.2 212.6,72.9 213,72.5 213.3,72.4 213.5,72.7 213.8,72.9 214.3,72.7 214.6,73.5 215,72.9 215.3,73.5 215.5,73.7 215.9,73.2 216.3,73.5 216.5,73.6 216.9,74.5 217.3,74.1 217.8,74.5 218.2,75 218.6,74.5 219.1,75.3 219.5,75.5 219.9,75.5 220.2,75.6 220.6,75.3 221.1,75.4 221.3,75.9 221.7,75.3 221.9,75.5 222.4,75.4 222.8,75.7 223.1,76.3 223.4,75.9 223.8,76.6 224.1,75.8 224.3,75.8 224.7,75.8 225.2,76.2 225.6,76.1 226,76.5 226.3,76.2 226.6,76.6 226.9,76.7 227.3,76.8 227.8,77.1 228.2,76.9 228.5,76.6 228.9,77.3 229.4,76.6 229.6,76.7 230.1,76.7 230.4,77.2 230.9,77.1 231.3,76.7 231.6,77 232.1,76.7 232.5,77.7 232.8,76.9 233.2,77.6 233.5,76.8 233.8,76.9 234.2,77.6 234.5,77.2 234.9,77.2 235.3,76.8 235.6,77 235.9,76.8 236.4,76.8 236.7,77.6 237,76.7 237.4,76.9 237.7,76.7 238,76.6 238.4,77.1 238.6,76.6 239,77.3 239.3,77.1 239.7,77.1 240.1,76.8 240.6,76.8 240.8,77.3 241.3,76.9 241.7,76.4 242,76.4 242.4,76.3 242.8,76.8 243.1,76.2 243.5,76.6 244,77 244.3,76.5 244.7,76.5 245.2,76.2 245.6,76 246,76 246.2,76.1 246.5,76 246.9,76 247.3,75.9 247.7,76.5 248,75.8 248.3,76.3 248.7,75.7 249,76.3 249.3,75.7 249.6,75.8 249.9,75.8 250.3,75.6 250.7,75.5 251.1,75.6 251.4,76.2 251.8,76.2 252.1,75.4 252.4,75.6 252.6,75.3 253.1,75.2 253.4,75.7 253.7,75.7 254,75.2 254.4,75.4 254.6,75.2 254.9,75.4 255.3,75 255.8,75.6 256.1,75.1 256.6,75.1 256.9,75 257.3,74.7 257.6,75 257.9,74.7 258.1,75 258.5,74.6 258.9,74.7 259.3,75 259.6,74.5 259.9,74.9 260.1,74.5 260.5,74.3 261,74.3 261.4,75.1 261.9,74.5 262.3,74.2 262.8,74.6 263,74.5 263.5,74.1 263.8,73.9 264.2,73.8 264.5,74.6 264.8,73.8 265.2,74 265.5,73.6 265.8,73.5 266.1,73.4 266.4,73.4 266.7,73.4 267.2,74.2 267.5,73.6 267.8,73.6 268.3,73.5 268.7,73.9 269.2,74.1 269.7,73.9 270.1,74.3 270.5,74 270.9,74.1 271.2,75 271.5,74.4 271.9,74.3 272.2,74.3 272.5,74.3 272.8,74.5 273.2,74.7 273.6,74.5 274.1,74.6 274.4,74.8 274.8,74.8 275.1,74.8 275.5,74.9 275.9,74.9 276.2,74.9 276.6,75.1 277,75.5 277.3,75.3 277.6,75.6 278,75.6 278.3,76.2 278.7,75.4 279,75.5 279.4,75.9 279.6,75.5 280,75.9 280.2,75.9 280.6,75.8 281,75.9 281.3,76.4 281.8,75.8 282.2,75.9 282.6,75.9 282.9,76 283.4,76.8 283.8,76.2 284.1,76.1 284.5,76.4 284.8,76.3 285.2,76.4 285.5,77.2 286,76.6 286.4,77.3 286.7,77 287,76.5 287.5,76.8 287.9,76.9 288.2,76.8 288.5,77.5 288.9,76.8 289.4,76.9 289.8,76.9 290.2,77.2 290.5,77.5 290.8,77.6 291.2,77 291.6,77.5 291.9,77.6 292.3,77.7 292.5,77.1 292.9,77.5 293.3,77.4 293.6,77.8 294.1,77.4 294.5,78.1 294.8,77.2 295.2,77.2 295.6,77.8 296,77.3 296.4,77.5 296.8,77.4 297.1,78.1 297.5,77.6 298,77.5 298.2,77.9 298.5,77.6 298.8,78.4 299.1,77.5 299.5,77.5 299.7,77.6 300.2,77.6 300.4,78.1 300.9,77.5 301.3,77.5 301.7,77.6 302,77.3 302.4,77.5 302.7,77.2 303.1,77.3 303.4,77.7 303.7,77.3 304.1,78 304.6,77 304.8,77 305,77.6 305.4,77.5 305.8,77 306.1,76.8 306.5,77 306.9,77.6 307.4,77.3 307.6,77.1 308.1,77.2 308.4,76.5 308.6,76.7 309,76.5 309.4,76.4 309.9,76.4 310.3,76.4 310.6,76.3 310.8,76.8 311,76.1 311.4,76 311.7,75.9 311.9,75.9 312.2,75.9 312.6,76.6 313,75.7 313.5,76 313.8,75.9 314.1,75.3 314.6,75.4 314.8,75.2 315.1,75.4 315.5,75.6 315.9,75.1 316.1,74.9 316.4,75.7 316.8,75 317.1,74.7 317.4,74.6 317.8,74.6 318.3,74.8 318.7,75 318.9,75 319.2,74.4 319.6,73.9 320,74 320.3,74 320.6,73.9 321.1,73.9 321.3,73.7 321.8,74.2 322,73.5 322.3,73.6 322.5,73.9 323,74.1 323.4,74 323.8,73.3 324.2,73.4 324.6,73.2 324.9,73.7 325.3,73.2 325.5,73.1 325.8,73 326.1,73.1 326.4,73.3 326.8,73.7 327.2,74.1 327.4,74.1 327.7,74.8 328.1,74.5 328.4,74.9 328.8,74.9 329.2,75.4 329.4,75.9 329.8,75.7 330.2,76.2 330.5,76 330.9,76 331,76.3 331,81.7 330.9,81.5 330.5,81 330.2,81.6 329.8,80.5 329.4,80.8 329.2,80.9 328.8,80.7 328.4,80.5 328.1,80 327.7,80.1 327.4,79.9 327.2,79.8 326.8,78.9 326.4,79.2 326.1,78.9 325.8,78.3 325.5,79 325.3,78 324.9,78 324.6,78.7 324.2,78.8 323.8,78.6 323.4,78.5 323,78.5 322.5,78.2 322.3,78.2 322,77.4 321.8,77.9 321.3,77.3 321.1,78.2 320.6,77.4 320.3,77.5 320,78 319.6,77.9 319.2,78.7 318.9,78.2 318.7,78.2 318.3,79 317.8,79 317.4,79.2 317.1,79 316.8,78.6 316.4,79.1 316.1,79.2 315.9,79.3 315.5,79.2 315.1,79.8 314.8,78.9 314.6,79.5 314.1,80 313.8,79.8 313.5,80.1 313,80 312.6,80.2 312.2,80.1 311.9,80.2 311.7,80.2 311.4,80.4 311,80.7 310.8,80.8 310.6,80.5 310.3,80.5 309.9,80.8 309.4,81 309,81.1 308.6,81.1 308.4,80.5 308.1,80.3 307.6,81 307.4,80.9 306.9,80.5 306.5,80.7 306.1,81.4 305.8,81.4 305.4,81.5 305,81.3 304.8,81.1 304.6,80.9 304.1,80.8 303.7,81.7 303.4,81 303.1,81.6 302.7,81.8 302.4,81.4 302,81.6 301.7,81.9 301.3,81.4 300.9,81.7 300.4,82 300.2,82.1 299.7,81.6 299.5,81.8 299.1,82 298.8,81.5 298.5,81 298.2,81.9 298,81.8 297.5,81.9 297.1,81.7 296.8,81.5 296.4,81.7 296,81.4 295.6,81.2 295.2,81.5 294.8,81.1 294.5,81.2 294.1,81.5 293.6,81 293.3,81.3 292.9,80.6 292.5,80.9 292.3,81.1 291.9,81.4 291.6,81.5 291.2,80.6 290.8,81 290.5,80.8 290.2,81.1 289.8,80.8 289.4,81.1 288.9,81 288.5,80.6 288.2,80.7 287.9,81.1 287.5,80.5 287,80.2 286.7,80.9 286.4,80.3 286,80.4 285.5,79.9 285.2,80.5 284.8,79.9 284.5,79.9 284.1,79.9 283.8,80.3 283.4,79.8 282.9,80.2 282.6,79.6 282.2,80.3 281.8,80.3 281.3,80.1 281,80.2 280.6,80.2 280.2,79.3 280,79.7 279.6,79.8 279.4,79.5 279,79.7 278.7,79.8 278.3,79.2 278,78.8 277.6,79.6 277.3,78.9 277,79.5 276.6,79.5 276.2,79.3 275.9,79.6 275.5,78.7 275.1,79.1 274.8,79.4 274.4,78.9 274.1,78.5 273.6,79.3 273.2,79.1 272.8,78.5 272.5,78.5 272.2,79.1 271.9,79 271.5,78.3 271.2,78.7 270.9,78.8 270.5,78.8 270.1,78.7 269.7,78.3 269.2,77.8 268.7,78.3 268.3,78.4 267.8,78.2 267.5,77.9 267.2,77.5 266.7,77.7 266.4,78.2 266.1,78.2 265.8,77.7 265.5,78.5 265.2,78.5 264.8,78.5 264.5,77.7 264.2,78.6 263.8,77.9 263.5,78.7 263,78.4 262.8,77.9 262.3,77.9 261.9,77.9 261.4,78.9 261,78.7 260.5,78.3 260.1,78.7 259.9,78.9 259.6,79 259.3,78.8 258.9,79 258.5,79.2 258.1,78.8 257.9,78.4 257.6,79.4 257.3,78.9 256.9,79.2 256.6,78.7 256.1,79.1 255.8,79.4 255.3,79 254.9,79 254.6,79.8 254.4,79.6 254,79.7 253.7,79.2 253.4,79.7 253.1,79.8 252.6,79.6 252.4,80.2 252.1,80.2 251.8,80.3 251.4,80.3 251.1,80.2 250.7,79.6 250.3,80.5 249.9,80.6 249.6,80.6 249.3,80.2 249,80.5 248.7,80.1 248.3,80.7 248,80.4 247.7,80 247.3,80.7 246.9,80 246.5,80.9 246.2,80.4 246,80.4 245.6,80.9 245.2,80.2 244.7,81 244.3,81 244,80.7 243.5,81.2 243.1,80.8 242.8,80.7 242.4,81.2 242,81 241.7,80.6 241.3,81.3 240.8,81.4 240.6,81.1 240.1,81.3 239.7,81.3 239.3,81.3 239,81.4 238.6,80.8 238.4,81.6 238,81 237.7,81.6 237.4,81.1 237,81.3 236.7,81.6 236.4,80.9 235.9,81.7 235.6,81 235.3,81.2 234.9,81.7 234.5,81.5 234.2,81.8 233.8,81.8 233.5,81.4 233.2,81.9 232.8,81.8 232.5,81.8 232.1,81.1 231.6,81.8 231.3,81.5 230.9,81.4 230.4,81.8 230.1,82.1 229.6,81.5 229.4,81.6 228.9,81.8 228.5,81.6 228.2,81.2 227.8,81.6 227.3,81.5 226.9,81.5 226.6,81.1 226.3,80.8 226,80.6 225.6,81 225.2,81 224.7,80.7 224.3,80.4 224.1,80.9 223.8,80.8 223.4,80.7 223.1,80.7 222.8,80.7 222.4,80.6 221.9,80.1 221.7,80.3 221.3,80 221.1,80.1 220.6,79.3 220.2,79.7 219.9,79.8 219.5,79.5 219.1,79.5 218.6,79.3 218.2,79.3 217.8,79.3 217.3,79.1 216.9,78.6 216.5,78.6 216.3,78.1 215.9,78.3 215.5,78.4 215.3,78.3 215,78.3 214.6,78.3 214.3,78.2 213.8,78.1 213.5,78 213.3,77.7 213,77.7 212.6,77.6 212.2,77.2 211.9,77.5 211.4,77.6 211,77 210.7,77 210.5,76.8 210.1,77.2 209.7,76.8 209.3,76.9 209.1,77.1 208.8,76.9 208.3,77.2 208,76.9 207.6,77 207.2,76.9 206.9,77 206.6,77 206.3,77.1 205.9,77.1 205.5,77 205.3,76.2 204.9,76.8 204.5,76.5 204,76.7 203.6,75.9 203.1,76.2 202.8,76.5 202.6,76.9 202.2,76.5 201.8,76.5 201.5,76.8 201.1,76.6 200.7,76.6 200.2,76.4 199.8,76.6 199.5,75.8 199.1,76.1 198.7,76 198.4,75.9 198,76.6 197.7,76.5 197.5,76 197.2,76.4 196.8,76.3 196.6,75.7 196.3,76.4 195.9,76.2 195.6,76.4 195.1,75.7 194.8,76.3 194.6,76.3 194.2,76.3 193.9,75.9 193.7,75.9 193.4,75.8 192.9,76.2 192.6,76.2 192.3,75.7 191.9,75.3 191.5,75.1 191,76 190.7,75.6 190.3,76 189.8,75.8 189.3,75.5 188.9,76.3 188.7,76 188.2,76.1 187.9,75.7 187.7,75.7 187.4,76.7 187.2,76.1 186.7,76.4 186.5,76.8 186.1,76.8 185.7,76.1 185.5,76.9 185.2,76.7 184.8,76.8 184.3,76.6 184,76.9 183.6,77.8 183.3,76.9 183,77.8 182.6,77.2 182.1,78.3 181.8,78.2 181.5,77.8 181.1,78.6 180.7,78.3 180.5,78.7 180.2,78.7 179.9,79 179.6,79.1 179.2,79.1 179,78.7 178.7,78.3 178.3,78.9 178,78.6 177.6,79 177.2,78.7 176.8,79.3 176.5,78.8 176.3,79.5 176.1,79.4 175.6,79.9 175.3,79.6 174.9,80 174.6,80 174.4,80.1 174.1,81.1 173.6,81.6 173.3,81.5 173,82.3 172.7,82.1 172.4,82.4 172.1,81.6 171.8,81.8 171.4,82.4 171,81.9 170.7,82.7 170.3,82 170.1,82.9 169.9,82.9 169.5,82.7 169,82.5 168.8,82.7 168.6,82.1 168.2,82.7 167.7,82.5 167.5,81.8 167.1,82.3 166.8,82 166.4,82.4 166.1,82.1 165.9,82 165.4,82.3 165.1,81.6 164.7,82 164.5,81.6 164.2,82.1 163.8,82.1 163.3,81.5 162.8,82.1 162.5,81.8 162.1,81.9 161.7,81.8 161.2,81 160.9,81.7 160.5,81.8 160.1,81.8 159.7,81.2 159.2,81.7 159,81.3 158.7,81 158.4,81.1 158.1,80.9 157.7,81.2 157.4,80.8 157,80.8 156.7,81.2 156.2,81.2 156,81 155.5,80.4 155.1,80.3 154.6,80.7 154.3,80.6 154,80.7 153.7,80.6 153.3,80.7 152.9,80.6 152.5,80 152.2,79.7 152,80 151.5,79.8 151.3,80.2 151,79.5 150.7,80.2 150.2,79.2 149.9,80 149.7,79.7 149.4,79.7 148.9,79.9 148.5,79.7 148.1,79.4 147.7,79.4 147.4,79.4 147.1,79.6 146.8,78.6 146.4,79.5 146.1,78.5 145.8,79.3 145.4,79 145,79.1 144.7,78.7 144.5,78.6 144.1,78.2 143.8,78.4 143.4,78.1 143,78.7 142.6,77.9 142.2,78.7 142,78.7 141.7,78.2 141.4,78.6 141.1,78.5 140.9,77.8 140.5,77.5 140.1,78.4 139.8,77.6 139.4,78.1 139,77.8 138.7,77.8 138.3,78.1 137.9,77.6 137.4,77 137.2,77.7 136.8,77.4 136.4,77.5 136,77.6 135.7,77.3 135.3,77.1 135.1,76.5 134.6,76.5 134.4,77Z" fill="#00ff00"/>
<path d="M127.2,109.6 129.9,100.7 132.1,91.8 133.6,80 134.4,73" fill="none" stroke="#00ff00" stroke-width="1.15" stroke-linejoin="round"/>
<path d="M134.4,73 134.4,76.5 134.7,73.5 135,77.4 135.3,74.4 135.7,75.7 136,72.1 136.4,77.2 136.6,74.6 136.9,77.6 137.2,73.3 137.5,77.7 137.7,72.9 138,78 138.4,75.1 138.8,76.4 139.1,74.5 139.5,77.3 139.7,75.5 140,76.8 140.3,74.8 140.5,76.9 140.9,74.4 141.3,76.9 141.6,75.2 141.9,78 142.3,74.3 142.5,77.3 142.9,74.6 143.2,78.9 143.5,74 143.8,77.1 144.1,74.6 144.4,77.4 144.6,76 144.9,77.5 145.1,74.8 145.4,79.5 145.7,75.2 146,78 146.3,74.3 146.7,78.8 146.9,75.3 147.2,79.3 147.4,76.6 147.6,79.7 148,76.6 148.4,80.6 148.7,75.5 149,80.1 149.4,75.5 149.6,80.7 149.9,77 150.3,80 150.6,76.1 150.9,79.3 151.3,76.1 151.6,80.5 151.8,77.3 152.2,79 152.5,76 152.8,80.3 153,76.7 153.3,79.6 153.5,76.3 153.9,79.6 154.2,77.7 154.5,80.1 154.8,76.1 155,80.1 155.3,78.2 155.5,80.1 155.8,76.8 156,81.1 156.3,76.7 156.7,80.8 157,77.6 157.3,81.3 157.6,76.9 158,81.2 158.3,76.7 158.6,81.5 159,78 159.3,80.3 159.6,77.9 160,80.8 160.3,79 160.5,81.7 160.7,79.3 161.1,81.3 161.3,79.1 161.6,80.7 162,78.1 162.4,81.5 162.7,77.8 163,81.7 163.3,77.5 163.6,80.9 163.9,78.2 164.2,81.3 164.5,77.6 164.7,82 165,78.8 165.4,82.1 165.6,76.8 165.9,83.2 166.2,79.1 166.4,82.4 166.7,78.6 167,82.5 167.2,78.3 167.5,82.5 167.8,79 168.1,82.5 168.4,78.4 168.7,80.6 169,77.9 169.3,82.6 169.6,79 169.9,82.8 170.2,79.4 170.5,80.9 170.8,78.5 171.2,81.2 171.5,77.9 171.8,80.6 172.1,79.5 172.4,82.3 172.7,77.9 172.9,81.9 173.1,78 173.4,79.9 173.7,76.3 174.1,81.9 174.4,75.8 174.7,79.4 174.9,77.4 175.2,79.8 175.5,75.4 175.7,80.1 176,74.3 176.3,77.5 176.7,76.1 176.9,79.3 177.3,75.1 177.6,77.5 178,75.5 178.2,78 178.5,74.5 178.7,78.6 179,74.8 179.3,79.2 179.5,74.1 179.9,78 180.2,74.9 180.4,79 180.7,74.2 180.9,77.9 181.2,75.2 181.5,79 181.8,73.5 182.2,77.6 182.5,73.6 182.9,77.8 183.3,73.7 183.7,76 184,72.7 184.4,76.6 184.8,72.7 185,77.1 185.4,74.2 185.7,75.4 186.1,72.4 186.4,74.9 186.7,71.9 187.1,75.7 187.5,72.1 187.8,75.9 188.2,73.1 188.4,75.1 188.8,71.2 189.1,74.5 189.3,70.3 189.6,76.6 189.9,71.2 190.2,75.7 190.5,72 190.7,75.7 191.1,72.7 191.4,76 191.6,72.1 192,76 192.2,71 192.5,76 192.9,71.9 193.1,75.8 193.3,72 193.7,76.9 193.9,71.4 194.2,75.9 194.6,71.6 195,74.3 195.3,72.5 195.6,75 195.8,71.3 196.1,76 196.5,72.5 196.8,76.5 197.1,71.2 197.4,74.5 197.7,70.6 198,74.2 198.3,71.7 198.5,76.6 198.7,72.6 199.1,76.6 199.5,70.3 199.8,76.6 200.2,71.3 200.4,76.7 200.7,70.9 200.9,75.7 201.2,73.6 201.5,75.6 201.9,70.5 202.1,76.6 202.5,71.4 202.8,76.6 203.2,71.3 203.4,76.7 203.8,72.1 204.1,74.9 204.4,71.5 204.7,77.6 205,71.1 205.3,75.7 205.5,72.5 205.8,77.3 206.2,73.2 206.4,76.4 206.7,74 207,76.1 206.8,74.3 207,70.5 207.2,74.3 207.2,72.2 207.6,75 207.9,71.8 208.1,77.6 208.4,71.5 208.7,76.4 209,72 209.2,76.1 209.5,71.2 209.8,75.1 210.2,73 210.5,75.7 210.9,71.8 211.2,76.5 211.4,71.9 211.8,77.4 212,74.4 212.4,77.5 212.7,73.4 213,76.8 213.4,72.4 213.7,75.7 213.9,74.9 214.2,76.9 214.6,74.9 215,77.9 215.2,74.2 215.6,77.3 216,73.3 216.3,78.8 216.6,73 216.9,78.9 217.2,74.9 217.4,79.4 217.7,74.6 217.9,79.2 218.3,74.7 218.5,79.1 218.9,74.8 219.2,80.6 219.6,75.2 219.9,79.8 220.2,76.4 220.6,78.1 220.9,75.3 221.3,79.8 221.6,75.3 221.8,79.7 222.1,75.7 222.4,79.7 222.6,76.2 222.9,80.5 223.2,75.7 223.5,78.7 223.8,75.7 224.1,80.8 224.4,76.2 224.7,81.5 225,76.8 225.3,79.7 225.6,76.2 225.9,81.3 226.3,78.4 226.6,80.7 226.9,76.8 227.2,80.4 227.5,76.4 227.8,81.6 228.2,77.6 228.5,80.2 228.9,77.6 229.2,80.6 229.6,77.8 229.8,82 230.1,79 230.5,81.6 230.8,77.1 231.1,82 231.3,77.5 231.6,80.7 232,78 232.3,81.9 232.5,78.9 232.9,82.6 233.1,78.1 233.4,79.9 233.7,77 233.9,80.9 234.2,76.5 234.5,81.7 234.7,78.6 235.1,79.8 235.4,75.9 235.7,81.8 236,78.7 236.2,82.2 236.5,76.7 236.8,79.4 237.2,76.7 237.5,80.7 237.8,76.4 238.1,82.2 238.5,77.9 238.7,79.8 239.1,76.8 239.4,81.3 239.7,78.1 240,81 240.4,77.5 240.7,79.3 241,76.4 241.3,81.4 241.5,76.7 241.9,81.2 242.2,76.3 242.5,80.7 242.7,77.3 242.9,80.3 243.3,77.3 243.7,80.5 243.9,77.1 244.2,80.1 244.5,77.3 244.8,80.5 245.1,77.9 245.5,80.1 245.8,75.7 246.1,79.8 246.4,77.1 246.8,80.8 247.1,76.6 247.4,80.9 247.7,76 248.1,79.9 248.4,76 248.6,78.6 248.9,75.8 249.2,80.6 249.5,77.8 249.8,80.6 250.1,77.4 250.5,80.1 250.8,77.5 251.1,80.1 251.3,75.8 251.7,80.3 252,75.5 252.2,78.8 252.6,75.2 252.8,80 253.2,75.7 253.6,80.7 253.8,75.3 254.2,77.8 254.5,75.7 254.8,79.4 255.1,75 255.5,79.7 255.8,76 256,78 256.2,76.4 256.5,80.2 256.8,74.4 257.2,79.4 257.4,75.2 257.6,78.6 258,76.4 258.3,78.2 258.6,75.4 258.9,77.5 259.2,76.1 259.5,78.9 259.8,75.7 260.2,79.4 260.4,76 260.7,77.5 261,74.9 261.4,78 261.6,75.6 261.9,78.7 262.3,74.2 262.6,78.6 262.9,73.7 263.3,77 263.6,73.5 263.9,79.2 264.2,75.9 264.5,77.5 264.8,74.3 265.1,78.5 265.5,74.4 265.8,78.4 266.1,73.5 266.3,79.2 266.5,75.1 266.8,77 267.2,73.5 267.5,78.3 267.9,73.5 268.2,76.7 268.4,73 268.7,78.6 269.1,73.8 269.3,79.2 269.6,74.8 269.9,76.6 270.2,74.1 270.6,78.1 270.9,74.9 271.3,77.5 271.5,75.8 271.8,79.2 272.1,75.7 272.4,77.1 272.6,74.9 273,77.5 273.3,75.4 273.6,78.4 273.9,76.1 274.1,79.1 274.5,75.7 274.8,79.2 275.1,75.2 275.3,78.2 275.5,75.6 275.9,77.9 276.3,75 276.5,78.3 276.8,74.5 277.1,79.5 277.4,75.3 277.6,79.8 278,77.2 278.4,79 278.7,77.2 279,79.8 279.2,77 279.6,80 279.8,76.4 280.1,79.5 280.5,77.3 280.7,79.1 281,76.2 281.2,79.2 281.5,77.1 281.8,80 282.1,76.9 282.4,79 282.6,76 283,78.6 283.4,77 283.6,79 283.9,76 284.2,79.2 284.4,76.3 284.6,79.3 285,75.6 285.3,80.8 285.6,77 285.9,81.6 286.2,76.5 286.5,80.4 286.8,76.6 287.2,80 287.5,76 287.7,81 288.1,76.7 288.4,81.2 288.7,76.6 288.9,80.7 289.2,76.3 289.4,81.5 289.8,77.1 290.1,79.4 290.3,78 290.7,81 290.9,77.8 291.3,80.1 291.5,77.9 291.8,79.5 292,76.3 292.2,80.7 292.6,78 292.9,80.1 293.2,77.6 293.5,80.7 293.9,77.1 294.2,80.8 294.5,77.3 294.8,81.2 295.2,77.9 295.4,81.9 295.6,77.7 296,81.5 296.2,77.7 296.6,80.1 296.9,77.9 297.2,81.8 297.5,77.4 297.8,80.8 298.2,78 298.4,81.4 298.7,77.8 299.1,81.4 299.4,79.1 299.8,81.7 300.1,77.9 300.4,82.4 300.6,79.1 300.9,81.3 301.2,76.6 301.6,81.1 301.9,76.7 302.3,81.2 302.6,77.4 303,82.3 303.3,77.1 303.5,82 303.8,78.4 304.2,81.5 304.5,77.8 304.8,81.3 305.2,78.1 305.6,81.2 305.9,76.4 306.3,81.2 306.7,77.3 307,79.7 307.3,77.9 307.7,81.6 307.9,76.9 308.3,81 308.5,75.8 308.8,80.3 309.1,76.5 309.5,81.1 309.7,78 309.9,79.2 310.2,77.6 310.5,80.9 310.8,77.9 311.1,79.7 311.4,77.8 311.8,79.1 312.1,75.3 312.4,78.4 312.6,76.9 313,80.3 313.2,76.8 313.5,78.8 313.8,75.7 314.1,79.4 314.4,75.6 314.7,80.6 314.9,76.5 315.3,80.3 315.6,76.5 315.8,78.5 316.1,75 316.4,79.5 316.7,74.8 317,79 317.3,74.6 317.7,78.2 318,74.6 318.2,78.9 318.5,75.8 318.7,77.5 319,74.1 319.2,78.5 319.6,75.9 320,76.9 320.2,73.7 320.4,78.6 320.8,73.8 320.9,75.8 321,70.2 321.1,75.8 321.1,78.2 321.4,73.5 321.8,78.3 322.1,74.5 322.3,77.1 322.6,73.4 322.8,78.1 323.1,73.4 323.5,77.6 323.8,73 324,78 324.3,73 324.6,78.8 324.9,74.7 325.2,77.2 325.4,73.8 325.7,78.8 325.9,76 326,72.1 326.1,76 326.1,75 326.4,77.8 326.7,74 327,79.3 327.3,76.4 327.6,79.5 327.9,75.7 328.2,80.2 328.5,76.3 328.8,79.3 329.1,74.9 329.5,79.4 329.8,75.2 330,79.3 330.3,76.7 330.6,81.3 330.8,77.8 331.3,94" fill="none" stroke="#00ff00" stroke-width="0.8" stroke-linejoin="round"/>
<path d="M134.8,94.1 135.1,94 135.4,94.8 135.7,94.1 136.1,94.2 136.5,94.4 137,94.3 137.3,94.3 137.5,95.1 137.8,94.5 138.1,94.7 138.5,94.8 138.9,94.7 139.2,95 139.4,95 139.9,95.4 140.3,95 140.7,95.4 141,95.3 141.3,95.8 141.7,95.1 142.1,95.6 142.4,95.6 142.8,95.3 143.2,95.9 143.5,95.7 144,95.6 144.5,96.4 144.9,96.1 145.2,95.8 145.6,96.4 146,96 146.3,96.2 146.8,96.3 147.1,96.2 147.6,96.3 148.1,96.5 148.5,97.1 148.9,96.6 149.3,96.8 149.5,96.9 149.8,96.7 150.1,97.5 150.4,96.7 150.8,97.7 151.1,96.8 151.5,97 152,96.9 152.4,97 152.7,97.1 153.1,97.1 153.5,97.1 153.8,97.2 154.2,97.7 154.7,97.6 155.1,97.5 155.3,97.5 155.8,97.6 156.1,97.9 156.3,98.2 156.6,97.4 157,97.7 157.4,98 157.7,98.1 158.2,97.6 158.4,97.8 158.8,98.3 159.2,97.7 159.6,97.8 159.9,98.1 160.4,98.4 160.9,98.2 161.2,98.5 161.6,97.9 162,98.2 162.2,98.2 162.5,98.7 163,98.5 163.2,98.1 163.5,98.1 163.9,98.9 164.2,98.9 164.6,99.1 164.9,98.4 165.1,98.3 165.4,98.6 165.9,98.4 166.3,98.5 166.6,99.2 166.9,98.3 167.2,98.6 167.5,99.1 168,98.4 168.3,98.9 168.6,99.3 169.1,98.3 169.4,98.6 169.6,98.4 170.1,98.5 170.5,98.4 170.9,99.3 171.4,98.8 171.6,98.6 171.9,99.2 172.2,98.5 172.4,98.7 172.7,98.6 173,98.7 173.3,98.5 173.5,98.4 173.8,98 174.2,97.4 174.6,97 174.9,96.9 175.1,96.5 175.5,96.8 176,96.4 176.3,95.9 176.5,95.7 176.8,95.7 177.3,95.3 177.5,95.2 177.9,95.3 178.3,95.5 178.6,95.5 179,94.7 179.2,95.3 179.6,95.1 179.8,95.4 180.1,95.2 180.5,94.2 180.8,94.9 181.1,94.1 181.6,93.5 181.9,93.9 182.2,93.1 182.6,93 183,92.7 183.3,93.1 183.5,92.5 183.9,92.8 184.2,92.4 184.5,92 184.9,92.3 185.2,92.1 185.6,91.5 186,92 186.3,91.4 186.6,91.2 187,91.2 187.5,91 187.7,91.1 187.9,91.8 188.3,90.9 188.8,90.9 189.1,91.4 189.5,90.8 189.9,90.5 190.3,90.5 190.8,91.2 191,91 191.4,90.9 191.7,90.8 192.1,90.5 192.4,90.2 192.7,90.4 193.2,90.1 193.6,90.6 194,90 194.4,90.2 194.7,90.4 195,89.9 195.2,89.9 195.5,90.2 195.8,91 196,90.2 196.3,90.1 196.8,90.3 197.1,90.1 197.5,90.3 197.9,90.4 198.2,90.8 198.7,90.5 199.1,90.6 199.4,90.8 199.8,90.8 200.1,91.4 200.4,90.9 200.7,91.5 201,91 201.3,90.9 201.5,91.2 201.7,91.3 202.1,91.3 202.4,90.8 202.7,90.9 203,90.9 203.5,90.9 203.7,91.7 204.1,91.1 204.3,91.2 204.7,91.8 205.1,91.4 205.4,91.4 205.8,91.6 206.1,91.5 206.5,92 207,91.4 207.3,91.6 207.7,91.5 207.9,91.5 208.3,91.9 208.7,92.3 208.9,92.5 209.3,92 209.7,91.8 210.2,91.9 210.5,92 211,92.5 211.3,92.6 211.5,92.5 211.8,92.1 212.1,92.1 212.4,92.2 212.8,92.4 213.1,92.8 213.3,92.3 213.6,92.5 214,92.6 214.4,93.1 214.9,93 215.2,93.2 215.6,93.8 216,93.4 216.3,94 216.8,93.5 217.3,93.6 217.7,93.7 218.1,94.6 218.5,94 218.9,94.5 219.3,94.3 219.7,94.5 220,94.4 220.2,95.3 220.7,94.9 221,94.9 221.4,95.5 221.6,95.4 221.9,95 222.2,95.6 222.6,95.6 223,96.3 223.3,95.4 223.8,96 224.1,96.2 224.4,96.3 224.9,96.2 225.1,96.4 225.4,96.2 225.9,96.6 226.1,96.2 226.4,96.3 226.6,96.7 226.9,96.5 227.2,96.6 227.5,97.5 227.7,96.9 228,96.7 228.3,97 228.7,97.8 229.2,97.7 229.4,97.1 229.6,97.4 230,98.1 230.4,98 230.8,97.6 231,98 231.3,98 231.7,98.1 232.1,97.8 232.4,98.5 232.7,98 233.1,98.3 233.4,98.1 233.6,98.5 234.1,98.2 234.4,98.4 234.7,98.3 235.1,99 235.6,98.9 236.1,98.8 236.5,98.4 236.8,98.5 237.1,98.2 237.5,98.8 237.8,99.1 238.1,98 238.5,98.7 239,98.2 239.3,97.9 239.8,97.9 240.1,98.4 240.6,97.8 240.9,98.1 241.4,98.2 241.8,98 242.1,97.8 242.4,98 242.9,98.2 243.1,98.4 243.4,98.5 243.9,98 244.2,97.6 244.5,97.7 244.8,97.6 245.1,98 245.5,97.6 245.9,98.3 246.3,97.7 246.5,97.7 247,97.5 247.2,97.4 247.5,97.9 248,98 248.4,97.7 248.7,97.4 248.9,97.4 249.4,98.2 249.7,97.7 250,97.4 250.3,98.1 250.5,97.3 251,97.3 251.3,97.2 251.5,97.3 251.8,96.9 252.3,97.7 252.7,97.1 253,96.8 253.2,96.6 253.5,96.5 253.7,96.8 254.1,96.4 254.5,96.4 254.9,96.7 255.3,96.1 255.6,96 255.9,96 256.1,96.5 256.4,96.6 256.7,96.2 257.1,95.7 257.4,95.6 257.8,95.9 258.1,95.5 258.6,95.8 259,95.2 259.5,95.1 259.8,95.1 260,95 260.3,95.4 260.7,95.1 260.9,95.1 261.1,95.5 261.5,95 261.8,95 262.1,95 262.5,94.7 262.8,94.9 263.1,94.8 263.4,94.6 263.9,94.5 264.2,94.6 264.7,94.4 265,95 265.3,95 265.7,94.4 266.1,94.2 266.6,94.2 266.9,95 267.4,94 267.7,94.3 268,93.9 268.3,94.6 268.6,94.6 268.9,94.8 269.2,94.5 269.4,94.6 269.7,94.3 270.1,94.6 270.4,94.5 270.7,94.4 271.2,95 271.5,94.9 271.7,95.2 272.2,95.2 272.6,95.4 273.1,95.5 273.3,95 273.6,94.7 274.1,95.2 274.5,94.9 274.9,95.4 275.3,95.1 275.7,95.6 276,95.8 276.4,96 276.9,95.4 277.2,95.2 277.5,95.8 277.9,95.6 278.2,95.5 278.5,95.8 278.9,95.5 279.3,95.7 279.8,96.2 280.1,96.5 280.4,96.1 280.8,95.8 281,95.9 281.3,95.9 281.7,96.6 282.1,96.5 282.5,96.2 282.9,96.3 283.2,96.4 283.6,96.6 284,96.5 284.3,97.2 284.6,97.1 284.8,97.3 285.1,96.7 285.4,96.8 285.8,97.1 286.2,97.4 286.5,97.2 287,97.2 287.4,97.1 287.7,97.1 288.1,98 288.5,97.3 288.7,97.8 289.1,98.2 289.5,98.4 290,97.9 290.4,97.6 290.6,98 290.9,98.2 291.4,98.4 291.7,97.7 291.9,98 292.4,98 292.7,98 293.2,98.6 293.6,97.9 294,98.5 294.3,98.7 294.5,98.8 294.7,98.3 295,98 295.5,98 295.7,98.1 296,98.4 296.2,98.1 296.5,98.5 296.7,98.1 297.2,99 297.4,98.8 297.7,98.3 298,98.6 298.2,98.6 298.5,98.6 299,98.4 299.5,99 299.8,98.4 300.2,98.3 300.5,98.2 300.8,98.8 301.1,98.4 301.6,98.1 302,98.4 302.4,98 302.7,98.4 303.1,98 303.3,97.7 303.6,97.7 303.8,98.3 304.1,97.5 304.6,97.6 305,97.3 305.3,97.4 305.7,97.2 306,97.8 306.3,97.9 306.6,96.9 307,97 307.5,97.1 307.8,96.7 308.2,96.7 308.4,97.3 308.9,96.6 309.1,96.4 309.5,96.7 309.9,96.6 310.2,96.2 310.6,96.3 310.9,95.9 311.1,96.1 311.5,95.7 311.9,95.7 312.3,95.4 312.6,95.3 312.8,95.3 313.1,95.3 313.6,94.9 313.9,95.4 314.2,95.3 314.6,95.1 314.9,95.3 315.4,94.8 315.7,94.7 316,94.8 316.2,94 316.5,94.2 316.8,94.5 317,94.4 317.5,94.4 318,93.8 318.3,93.2 318.8,93 319,92.7 319.4,92.6 319.8,92.7 320.1,91.8 320.4,92 320.8,91.2 321.2,92 321.7,91.7 322.1,91.3 322.5,91.4 323,92.3 323.5,91.6 323.9,91.6 324.1,91.6 324.4,91.8 324.7,91.7 325,92.5 325.3,92 325.7,92.1 326,92.1 326.4,92.1 326.8,92.1 327.2,93 327.4,92.4 327.7,92.3 328.2,92.9 328.5,93.1 328.9,92.3 329.1,92.3 329.4,92.7 329.8,92.4 330.2,92.6 330.5,92.5 330.9,92.6 331,92.9 331,95.5 330.9,95.7 330.5,95.1 330.2,95.7 329.8,95.6 329.4,95.1 329.1,95.4 328.9,95.1 328.5,95.5 328.2,95.4 327.7,94.8 327.4,95 327.2,95.2 326.8,95.7 326.4,95.6 326,95.7 325.7,95 325.3,94.8 325,95.4 324.7,95.3 324.4,94.6 324.1,94.9 323.9,94.7 323.5,94.6 323,94.1 322.5,94.1 322.1,94.3 321.7,93.6 321.2,93.8 320.8,93.9 320.4,93.9 320.1,95 319.8,94.5 319.4,95.4 319,95.6 318.8,96 318.3,96.3 318,95.9 317.5,96.8 317,96.3 316.8,96.1 316.5,96.9 316.2,97.1 316,97.3 315.7,97.2 315.4,97.3 314.9,97.4 314.6,97.5 314.2,97.1 313.9,97 313.6,97.4 313.1,98 312.8,97.9 312.6,97.6 312.3,98.3 311.9,97.9 311.5,98.1 311.1,98.6 310.9,98.2 310.6,98.7 310.2,98.6 309.9,98.7 309.5,98.8 309.1,98.5 308.9,98.4 308.4,99.2 308.2,98.9 307.8,99.4 307.5,99.4 307,98.7 306.6,98.7 306.3,99.3 306,99.6 305.7,99.8 305.3,99.9 305,99.9 304.6,99.8 304.1,100.1 303.8,100 303.6,99.4 303.3,100 303.1,99.9 302.7,100.2 302.4,100.3 302,100.1 301.6,100.6 301.1,99.7 300.8,100.6 300.5,100.5 300.2,100.3 299.8,100.6 299.5,100.5 299,100.9 298.5,100.4 298.2,100.9 298,100.8 297.7,100.5 297.4,100.1 297.2,100.8 296.7,100.8 296.5,100.7 296.2,100.2 296,100.7 295.7,100 295.5,100.8 295,100.4 294.7,100.8 294.5,100.5 294.3,100.3 294,100.6 293.6,100.8 293.2,100.8 292.7,100.6 292.4,100.7 291.9,100.8 291.7,100.8 291.4,100.8 290.9,100.7 290.6,100.4 290.4,100 290,100.2 289.5,100.5 289.1,100 288.7,99.7 288.5,100.5 288.1,99.9 287.7,99.6 287.4,99.9 287,99.8 286.5,100 286.2,99.2 285.8,100 285.4,99.3 285.1,99.1 284.8,99.2 284.6,99.3 284.3,99.8 284,99.7 283.6,99.3 283.2,99.5 282.9,99.3 282.5,99.4 282.1,99.2 281.7,98.4 281.3,99.1 281,98.6 280.8,98.7 280.4,98.8 280.1,98.9 279.8,98.7 279.3,98.8 278.9,98.5 278.5,97.8 278.2,98.5 277.9,98.5 277.5,97.7 277.2,98.2 276.9,98.5 276.4,98 276,98.4 275.7,98.2 275.3,97.5 274.9,98.2 274.5,98 274.1,98.2 273.6,97.3 273.3,97.1 273.1,98 272.6,97.1 272.2,97.4 271.7,97.7 271.5,97.4 271.2,96.8 270.7,97 270.4,96.9 270.1,96.8 269.7,97.5 269.4,97.5 269.2,97.3 268.9,97.3 268.6,96.8 268.3,97.1 268,97.3 267.7,97.2 267.4,96.5 266.9,96.7 266.6,97.4 266.1,97.2 265.7,97.6 265.3,97.3 265,97.5 264.7,97.5 264.2,97.3 263.9,97.5 263.4,97.8 263.1,98 262.8,97.4 262.5,97.3 262.1,98 261.8,98.1 261.5,97.9 261.1,97.9 260.9,98.2 260.7,97.4 260.3,98.2 260,98.4 259.8,98.4 259.5,98.5 259,98.2 258.6,98.5 258.1,98.8 257.8,98.9 257.4,98.3 257.1,98.7 256.7,99.1 256.4,98.9 256.1,98.6 255.9,98.6 255.6,99.3 255.3,99.4 254.9,99 254.5,99.3 254.1,99.3 253.7,99.8 253.5,99.1 253.2,99.7 253,99.6 252.7,100 252.3,100 251.8,100.2 251.5,100.2 251.3,100.3 251,100 250.5,100.3 250.3,100.4 250,100.6 249.7,100 249.4,100.1 248.9,100.7 248.7,100.3 248.4,100 248,100.1 247.5,100.2 247.2,100.7 247,100.5 246.5,100 246.3,100.8 245.9,100.4 245.5,100.2 245.1,100.9 244.8,100.9 244.5,100.8 244.2,100.6 243.9,100.4 243.4,100.8 243.1,101 242.9,100.1 242.4,101.1 242.1,101.1 241.8,100.4 241.4,101.1 240.9,101.1 240.6,101.2 240.1,100.6 239.8,100.6 239.3,100.7 239,100.9 238.5,101.2 238.1,101.1 237.8,100.4 237.5,100.3 237.1,100.9 236.8,101.2 236.5,101.2 236.1,101.2 235.6,101 235.1,101.2 234.7,100.9 234.4,100.2 234.1,100.8 233.6,100.7 233.4,100.9 233.1,100.9 232.7,100 232.4,100.9 232.1,100.8 231.7,99.9 231.3,100.7 231,100.7 230.8,100.7 230.4,100.5 230,100.5 229.6,100.5 229.4,100 229.2,99.6 228.7,99.9 228.3,99.2 228,100 227.7,99.8 227.5,99.2 227.2,99.3 226.9,99.7 226.6,99.2 226.4,98.6 226.1,99.3 225.9,99.4 225.4,99.1 225.1,99.2 224.9,98.4 224.4,99 224.1,98.5 223.8,98.8 223.3,98.2 223,98.6 222.6,98.5 222.2,98.2 221.9,98.1 221.6,98 221.4,97.3 221,97.4 220.7,97.7 220.2,97.7 220,97.2 219.7,97.7 219.3,97.5 218.9,97.5 218.5,96.8 218.1,96.9 217.7,96.5 217.3,96.7 216.8,96.8 216.3,96.3 216,95.9 215.6,96.2 215.2,95.8 214.9,95.9 214.4,95.4 214,95.7 213.6,95.8 213.3,95 213.1,95.1 212.8,95.1 212.4,95.5 212.1,94.9 211.8,95.5 211.5,95.5 211.3,94.9 211,95.2 210.5,94.8 210.2,95.4 209.7,95.2 209.3,94.5 208.9,94.5 208.7,95.3 208.3,94.8 207.9,95 207.7,95.2 207.3,95.1 207,94.7 206.5,95 206.1,95.1 205.8,95 205.4,94.9 205.1,94.5 204.7,94.6 204.3,94.9 204.1,94.8 203.7,94.3 203.5,94.7 203,94 202.7,93.9 202.4,94.1 202.1,94.5 201.7,94.4 201.5,94.4 201.3,94 201,93.6 200.7,94.5 200.4,94.5 200.1,93.7 199.8,94.3 199.4,94.1 199.1,94.3 198.7,94.3 198.2,94.2 197.9,93.4 197.5,93.9 197.1,94 196.8,93.6 196.3,93.3 196,93.8 195.8,93.4 195.5,93.9 195.2,93.6 195,93.9 194.7,93 194.4,94 194,93.8 193.6,93.2 193.2,94.1 192.7,93.3 192.4,94.1 192.1,94.2 191.7,94.1 191.4,94.1 191,94.2 190.8,94.3 190.3,93.8 189.9,93.8 189.5,93.7 189.1,94.5 188.8,94.2 188.3,93.8 187.9,94.1 187.7,93.9 187.5,93.9 187,94.7 186.6,94.9 186.3,94.2 186,94.6 185.6,94.9 185.2,95.1 184.9,95.3 184.5,94.7 184.2,94.6 183.9,95.6 183.5,95.1 183.3,95.2 183,96.2 182.6,95.6 182.2,96.6 181.9,96.1 181.6,97 181.1,97.2 180.8,97.2 180.5,97.5 180.1,97.6 179.8,97.8 179.6,96.9 179.2,98 179,97.9 178.6,97.8 178.3,98.2 177.9,98.1 177.5,98.2 177.3,97.9 176.8,98.3 176.5,98.5 176.3,98.7 176,99 175.5,99 175.1,99.4 174.9,99.5 174.6,100.2 174.2,100.7 173.8,100.8 173.5,101.3 173.3,101.5 173,101.1 172.7,101.6 172.4,101.4 172.2,101.3 171.9,101 171.6,101.4 171.4,101 170.9,100.6 170.5,100.8 170.1,101 169.6,101.2 169.4,100.2 169.1,100.9 168.6,100.9 168.3,100.7 168,101.1 167.5,100.8 167.2,101 166.9,100.4 166.6,100.8 166.3,100.8 165.9,100.9 165.4,100.9 165.1,100.8 164.9,100.5 164.6,100.8 164.2,100.7 163.9,100.7 163.5,100.8 163.2,100.5 163,100.4 162.5,100.7 162.2,100.3 162,100 161.6,99.9 161.2,100.2 160.9,100.1 160.4,100.1 159.9,100.5 159.6,100.3 159.2,100.4 158.8,99.8 158.4,99.5 158.2,100.2 157.7,100.3 157.4,99.4 157,100.1 156.6,100.2 156.3,99.3 156.1,99.4 155.8,99.9 155.3,100 155.1,100.1 154.7,99.9 154.2,99.1 153.8,99.2 153.5,99.4 153.1,99.2 152.7,99.3 152.4,99.7 152,99.6 151.5,99.3 151.1,99.6 150.8,99.5 150.4,99.5 150.1,99.5 149.8,99.4 149.5,99.4 149.3,98.8 148.9,99.3 148.5,98.7 148.1,99.2 147.6,98.2 147.1,98.7 146.8,98.8 146.3,98.6 146,98.4 145.6,98.6 145.2,98.7 144.9,98 144.5,97.7 144,97.5 143.5,98.3 143.2,98.3 142.8,97.5 142.4,97.7 142.1,98.1 141.7,98 141.3,97.4 141,97 140.7,97.2 140.3,97.5 139.9,96.8 139.4,96.8 139.2,97.7 138.9,97.7 138.5,97.2 138.1,97.3 137.8,97.3 137.5,96.7 137.3,97.5 137,96.8 136.5,97.4 136.1,97.3 135.7,97.3 135.4,97.4 135.1,97.1 134.8,97.3Z" fill="#0000a0"/>
<path d="M127.2,109.6 129.5,104.5 132,99.6 134,95.8 134.8,95" fill="none" stroke="#0000a0" stroke-width="1.15" stroke-linejoin="round"/>
<path d="M134.8,95 134.8,96.1 135.1,94 135.4,96.5 135.8,94.4 136.1,97.5 136.5,95.6 136.7,97.4 136.9,94.6 137.2,96.4 137.6,93.8 137.9,96.5 138.3,94.5 138.6,97.1 138.9,95 139.2,96.7 139.5,95 139.9,97.8 140.1,94.9 140.4,97.6 140.7,95.6 141.1,98.6 141.5,96 141.8,98 142.2,96.3 142.5,97.4 142.8,96.5 143.2,98.3 143.5,96.6 143.9,98.3 144.1,95.2 144.4,98.2 144.7,96.8 145,98.4 145.2,96.8 145.6,98.1 145.8,95.1 146.1,98.7 146.4,96.1 146.7,98.9 147,96.8 147.3,97.9 147.7,97.1 148,98.7 148.4,96.5 148.7,98.8 149,96.6 149.4,98.6 149.6,96.7 149.9,99.3 150.2,96.9 150.4,98.6 150.6,97.2 150.9,99.3 151.2,97.9 151.5,99.5 151.8,97.5 152.1,99.7 152.4,98.2 152.7,99.7 153,97.2 153.4,99.1 153.7,97.7 154,100.3 154.3,97.7 154.6,100 154.8,97.6 155.1,99.9 155.4,97.4 155.8,99.1 156.1,98.5 156.4,99.9 156.7,97.4 157.1,100.4 157.3,98 157.5,99.8 157.9,98.1 158.1,99.2 158.3,97.6 158.7,100.2 159,97.3 159.3,100.2 159.6,97.6 160,100.1 160.4,99.1 160.6,101.3 160.9,98.1 161.3,99.4 161.6,98.6 161.9,100.3 162.2,98.2 162.5,99.9 162.8,98.1 163,100.5 163.3,98.1 163.6,100.9 163.9,98.4 164.3,100.3 164.6,99 164.9,100.8 165.2,98.4 165.5,100.9 165.8,99 166.1,101.7 166.4,97.9 166.7,100 166.9,99.4 167.2,100.5 167.5,98.3 167.9,100.8 168.2,98.3 168.4,100.8 168.8,98.8 169.1,100.3 169.5,99.5 169.9,101.7 170.1,99.4 170.5,101.1 170.7,98.8 170.9,101.3 171.2,98.7 171.4,100.8 171.8,98.8 172.1,101 172.5,99 172.8,101.7 173,99.9 173.2,101.4 173.5,98.4 173.8,101.1 174,97.6 174.3,100.3 174.7,97.8 175,98.9 175.2,95.9 175.5,99.1 175.9,95.4 176.1,98.8 176.4,95.5 176.6,97.6 177,95.2 177.3,98.8 177.5,96.2 177.8,97.8 178.1,94.4 178.4,98.2 178.8,95.6 179,97.1 179.4,95.1 179.8,97.8 180,94.4 180.3,98.3 180.6,94.3 180.9,97.6 181.3,94 181.6,96.5 181.9,94 182.2,96.5 182.5,92.6 182.9,96.2 183.2,93.2 183.4,95.9 183.8,92.2 184.1,95.1 184.4,92.6 184.7,94.3 184.9,93.1 185.3,94.4 185.5,92.9 185.8,95.1 186.1,91.3 186.4,94.8 186.8,92.5 187.1,94.7 187.4,90.3 187.7,94.1 188,90.9 188.3,95 188.6,90.5 188.9,93 189.3,90.7 189.5,94.5 189.8,91.4 190.2,93.3 190.5,90.5 190.9,92.9 191.1,91.8 191.5,92.7 191.7,91.9 191.9,93.7 192.2,90.9 192.4,93.8 192.8,91 193.2,92.5 193.6,90.2 194,93.8 194.3,91.4 194.6,93.9 195,90.2 195.2,93.3 195.6,91.6 195.9,92.8 196.2,90.3 196.6,93.3 196.9,90.2 197.2,93 197.5,90.5 197.7,94 197.9,91.8 198.2,94.1 198.5,90.4 198.9,92.7 199.3,91.5 199.6,93.9 199.9,92.2 200.3,94 200.7,91.7 201.1,93.8 201.3,92 201.6,93.3 201.9,91.3 202.3,93.7 202.6,90.8 203,95.5 203.2,91.6 203.5,95.5 203.8,91.5 204.1,93.6 204.4,91 204.8,93.6 205.1,91.7 205.3,94.9 205.7,91.5 205.9,94.4 206.2,91.6 206.5,95.1 206.8,92.4 207,94.8 207.4,92.1 207.6,94.9 208,91.9 207.8,93.4 208,90.5 208.2,93.4 208.3,95 208.6,91.9 208.9,95.2 209.3,91.3 209.5,94.2 209.7,93.3 210,95.2 210.3,93.1 210.7,95.1 210.9,91.6 211.2,94.7 211.5,93.5 211.8,95.1 212.1,92.4 212.4,94.5 212.7,93.2 212.9,94.4 213.2,92.8 213.6,96.2 213.9,93 214.1,95.9 214.4,93.2 214.8,94.7 215.1,93.5 215.5,95.4 215.8,93.6 216,96.3 216.4,93.3 216.7,96.4 216.9,93.2 217.2,95.6 217.5,93.9 217.7,95.9 218,94.3 218.4,97.5 218.7,94.8 219,96.6 219.3,95 219.7,96.9 220,94.5 220.2,97.4 220.5,94.8 220.7,96.9 221,95.8 221.3,98.4 221.5,94.9 221.8,97.1 222,95.5 222.4,98.5 222.7,95.7 222.9,97.9 223.2,95.6 223.5,98.8 223.8,96.5 224.1,98.9 224.4,96.7 224.7,98.6 225,96.1 225.3,99.2 225.6,95.6 225.9,99.1 226.2,97.1 226.5,98.3 226.8,96.4 227.1,98.8 227.4,96.1 227.8,100.4 228.1,97.1 228.5,98.7 228.7,97.2 229.1,99.6 229.3,98.2 229.5,101.1 229.8,97.3 230.1,100.2 230.5,97.7 230.8,100.4 231.1,97.7 231.3,100.3 231.7,98 232,99.8 232.3,98 232.6,100.2 232.9,97.4 233.2,99.9 233.5,98.8 233.9,99.9 234.1,99 234.5,100.6 234.7,98.3 235.1,100.1 235.4,98.9 235.6,101.3 235.9,98.5 236.2,100.8 236.6,98.6 236.9,101.4 237.1,98.2 237.4,101.1 237.7,99.3 238,100.6 238.3,98 238.6,100.3 238.8,98 239,101.1 239.4,98.6 239.7,99.9 239.9,98.7 240.3,100.6 240.5,97.7 240.9,100.6 241.2,98 241.5,101 241.8,99 242.2,101.1 242.5,97.8 242.8,100.5 243,98.9 243.3,101.3 243.5,97.2 243.8,99.6 244,97.5 244.4,100.9 244.6,97.7 244.9,99.5 245.2,97.7 245.6,100.3 245.9,98.8 246.2,100.8 246.5,97.9 246.9,100.5 247.3,98.3 247.5,100.5 247.8,97.7 248.1,100.6 248.4,97.6 248.8,100.2 249.1,98.6 249.3,101.4 249.6,97.7 249.9,100.9 250.1,98.4 250.4,100.7 250.8,98 251,100.3 251.3,97.8 251.6,99.6 252,96.4 252.3,98.9 252.5,96.9 252.9,99.9 253.2,97.5 253.5,98.9 253.8,96.6 254.2,99 254.5,96.6 254.7,99.2 255,96 255.2,98.9 255.6,96.9 256,99.3 256.3,96.6 256.6,98.7 256.9,95.1 257.1,98.4 257.5,96.7 257.9,98.9 258.1,96.3 258.4,98.2 258.7,95.3 259,98.5 259.3,96.2 259.6,98.1 259.9,95.2 260.2,97.4 260.5,95 260.8,98.3 261,95.8 261.3,97 261.6,95.6 261.8,98 262.1,95 262.3,97.2 262.7,94.9 263.1,96.8 263.5,95.1 263.8,97.8 264.1,95.5 264.4,97.9 264.6,95.8 264.9,96.6 265.3,94.3 265.7,96.9 265.9,95.3 266.3,98.1 266.6,93.8 266.9,97.8 267.2,94.8 267.5,96.9 267.7,94.2 267.9,97 268.2,94.8 268.6,97.4 268.9,94.8 269.2,96.5 269.6,95.4 269.9,97.4 270.3,95 270.5,97.4 270.8,94.9 271.1,97.9 271.3,95.2 271.5,96.6 271.8,94.7 272.2,98 272.5,95 272.8,97.1 273,95.5 273.3,97.6 273.5,96.2 273.8,98.3 274,95.4 274.4,98 274.7,94.9 275,97 275.2,95.1 275.5,97.9 275.9,95.2 276.2,98.1 276.4,96.3 276.7,97.1 277,96.6 277.4,98.2 277.8,95.5 278.2,97.7 278.5,95.4 278.8,99.3 279.1,96.3 279.4,98.9 279.6,95.7 279.9,99.4 280.1,95.8 280.5,97.6 280.7,96.6 281,98.9 281.3,96.6 281.6,98.2 282,96 282.3,98.9 282.6,95.9 282.9,98.3 283.1,96.5 283.4,98.7 283.8,96.8 284.1,99.8 284.5,96.7 284.9,100.6 285.1,97.4 285.4,99.8 285.7,97.5 286,99.2 286.2,97.3 286.5,99.2 286.8,96.3 287.1,100.3 287.4,98.2 287.7,100.1 288,96.7 288.3,100 288.5,96.7 288.9,99.4 289.2,97.7 289.5,100.1 289.9,98.3 290.2,99.8 290.4,99 290.7,99.9 291,97.9 291.3,100.5 291.5,99 291.9,101 292.2,97.1 292.5,100.7 292.8,98.8 293,100.8 293.3,99.2 293.6,100.3 293.8,98.1 294.2,100.3 294.5,97.2 294.8,100.6 295.2,98.1 295.6,100.6 295.8,97.9 296.2,100.6 296.5,98.1 296.8,100.7 297.1,98.7 297.3,100 297.6,99 298,99.7 298.2,98.4 298.6,99.8 299,97.8 299.4,100.3 299.7,98.6 299.9,100.6 300.3,98.8 300.6,100.2 300.8,99.3 301,100.7 301.4,98.2 301.7,100.5 302,97.2 302.2,100.9 302.5,97.8 302.9,100.3 303.2,98.5 303.5,99.7 303.8,98.4 304.1,100.9 304.4,97.5 304.6,99.3 305,98.3 305.3,98.8 305.6,97.2 305.8,98.7 306.2,97 306.5,99.4 306.8,96.9 307.1,99.3 307.3,97 307.7,98.9 308,97.7 308.2,99.5 308.6,96.9 308.8,98 309.1,96.9 309.5,97.9 309.8,96.9 310.1,98.5 310.3,96.7 310.7,98.4 311,95.8 311.4,97.6 311.6,96.3 311.9,97.9 312.2,96.6 312.6,98.2 312.9,96.5 313.2,96.9 313.4,95.6 313.8,97.9 314.1,94.9 314.4,96.5 314.6,95.7 314.9,97.6 315.2,94.5 315.4,96.1 315.8,95.6 316.1,95.9 316.4,94 316.7,96.5 317,94 317.4,96.8 317.7,93.2 318,95.9 318.4,93.1 318.7,95.5 318.9,93.3 319.2,95 319.5,92.3 319.7,94 320,91.9 320.3,95.1 320.6,92.3 320.8,93.1 321.1,92.5 321.4,94.2 321.7,91.2 322.1,94.5 322.4,91.4 322.6,95.5 322.9,92.3 323.2,93.9 323.5,92.2 323.8,94.7 324,92.2 324.3,95.8 324.6,91 324.9,95.8 325.2,91.9 325.5,95.6 325.8,92 325.9,93.8 326,89.6 326.1,93.8 326.1,94.4 326.3,92.1 326.6,94.9 326.8,92.4 327.1,95.4 327.5,93.7 327.8,95.3 328.2,93.8 328.4,95.1 328.6,93.7 329,94.5 329.2,91.9 329.5,94.7 329.7,93.8 330.1,94.4 330.3,93.3 330.6,95.8 331,93.5 331.2,109.3" fill="none" stroke="#0000a0" stroke-width="0.8" stroke-linejoin="round"/>
<path d="M24,143.3 62.2,143.3" fill="none" stroke="#3a3ac0" stroke-width="1.0" />
<rect x="62.5" y="131.6" width="57.2" height="22.4" fill="#0000a0"/>
<path d="M62.2,159.2 62.6,130.2 62.9,156 63.2,127.2 63.5,158.1 63.9,128.9 64.2,154.3 64.4,126.1 64.7,158.5 65,129.8 65.2,157.6 65.6,127.5 66,155.2 66.4,127.2 66.6,159.8 66.9,127.8 67.3,150.7 67.7,125.9 67.9,155.4 68.1,127.5 68.5,158.6 68.9,130.6 69.2,156.2 69.4,130.6 69.6,151.5 69.9,126 70.3,155.3 70.6,127.7 71,159.3 71.4,131 71.6,158.7 71.8,126 72.1,157 72.5,129.6 72.7,155.8 73.1,127.3 73.4,158.9 73.6,126.3 74,155 74.2,127.6 74.5,153.3 74.8,129.4 75.1,160 75.5,127.8 75.7,155.6 76.1,126.2 76.3,159.1 76.6,125.7 76.8,157.7 77.1,125.8 77.4,149.3 77.8,127.4 78,155.5 78.3,126.2 78.6,159.2 78.8,127.1 79.1,158.4 79.4,130.5 79.7,158.3 80,130.8 80.3,156.4 80.6,126.5 80.9,148.9 81.1,125.8 81.5,157.7 81.7,127.5 82.1,154.8 82.4,126.7 82.7,157.2 82.9,128.7 83.3,157.6 83.5,131.2 83.8,157.9 84.2,128 84.6,152.8 84.9,130.4 85.1,157.5 85.4,126.4 85.8,159.8 86,126 86.3,158.2 86.6,126.9 86.8,158.9 87.2,127 87.4,159.6 87.7,127.3 88.1,157.4 88.5,126.1 88.9,158.3 89.1,132.4 89.4,159.7 89.8,128.8 90.2,159.2 90.4,127.2 90.6,154.5 91,128.8 91.3,157.5 91.6,130.9 91.9,152.9 92.2,127.3 92.5,159.1 92.9,127.8 93.1,157.6 93.3,126.2 93.5,154.2 93.8,129.4 94.1,156.7 94.5,126.7 94.7,156.3 95,129.7 95.3,157.9 95.6,129.1 96,157.8 96.3,128.9 96.5,155.9 96.7,130.4 97,158.4 97.2,127.2 97.4,156 97.7,126.8 98.1,158.7 98.3,126.4 98.8,153.1 99.1,130.6 99.5,157.5 99.9,129.9 100.3,153 100.4,128.5 100.8,153.9 101,125.8 101.4,159.7 101.6,128 102,154.9 102.3,126.1 102.5,159.2 102.8,127.1 103.1,159.8 103.4,130.8 103.7,159.5 104.1,126.9 104.4,159.9 104.6,127 105,154 105.2,126.6 105.5,158.6 105.7,127.7 106.1,151.1 106.4,128.1 106.7,155.6 107,129.3 107.3,159.6 107.6,133.4 107.8,155.7 108.2,127 108.4,158.7 108.8,132.3 109,159.7 109.1,131.2 109.3,159.4 109.6,132.1 109.9,159.5 110.1,130.6 110.5,156.1 110.7,127.4 111.1,155.2 111.4,126.8 111.6,157.9 111.9,131.2 112.2,153.1 112.6,130.2 112.8,157.5 113.2,135.7 113.4,157.7 113.7,126.8 114,159 114.3,126 114.5,155.3 114.8,126.6 115.2,158.6 115.5,129.4 115.7,159.1 116,130.9 116.2,159.3 116.5,131.5 116.9,151.3 117.2,127.6 117.4,159.4 117.7,128 118.1,156.4 118.4,126.4 118.6,159.6 118.9,130.3 119.2,159.4 119.6,126.1 120,157.6" fill="none" stroke="#0000a0" stroke-width="0.55"/>
<rect x="120.3" y="127.6" width="6.9" height="6.6" fill="#0000a0"/>
<path d="M120,135.5 120.3,128.8 120.6,133.8 120.8,128.4 121.1,134.9 121.4,126.6 121.7,134 121.9,126.6 122.3,135.1 122.5,126.6 122.9,134.6 123.2,128.1 123.6,135.7 124,129.1 124.3,134.1 124.6,126 124.9,134.8 125.2,130 125.5,135.9 125.8,126.6 126,131.8 126.2,128 126.4,135.2 126.8,126.8 127.2,131.9" fill="none" stroke="#0000a0" stroke-width="0.55"/>
<path d="M127.4,126.5 127.3,143.3 133.9,143.3 135.4,142.5 139.9,143 147.3,146.2 157.7,149.5 165.2,152.2 175.7,156.7 180.6,159.8 180.7,129.5 190,133.9 202.5,138.5 227.1,126.2 227.1,157.3 231.7,153.7 266.4,141.5 280,145.5 293.4,150 311.2,160 311.3,129.6 327.6,137.3 331.3,137.5 333.4,140" fill="none" stroke="#1414aa" stroke-width="1.1" stroke-linejoin="round"/>
<rect x="333.7" y="131.8" width="108.7" height="22" fill="#0000a0"/>
<path d="M333.4,157.9 333.8,128.1 334,156 334.4,128.9 334.6,158.6 334.9,136.7 335.1,156.7 335.3,128.2 335.7,158.2 336,127.1 336.4,157.9 336.6,126.3 336.8,158.6 337.2,127 337.4,159.2 337.7,132.6 338.1,155.5 338.4,128.5 338.6,154.3 339,132.2 339.3,156.8 339.6,130.8 339.9,154 340.1,128 340.5,157.1 340.9,126.8 341.1,158.7 341.4,126.4 341.8,155.9 342,136.5 342.3,154.8 342.6,125.8 342.8,159.5 343.2,126.7 343.6,154.8 344,127 344.1,154.5 344.3,126 344.7,156.2 345.1,136.4 345.3,158.8 345.6,129.6 346,157.4 346.4,125.9 346.7,156.6 347.1,126.7 347.3,158.1 347.8,128.4 348,159 348.4,126.7 348.8,155.7 349.2,126.3 349.5,157.9 349.9,129.1 350.2,159.5 350.5,127.2 350.7,155.8 351.1,128.1 351.5,154.8 351.7,131.8 352.1,159.2 352.3,126.5 352.5,157.4 352.8,131.5 353.1,156.2 353.4,128.5 353.8,158.4 354.2,126.1 354.6,155.4 354.9,126.7 355.3,156.6 355.6,127.1 356,158.4 356.5,127 356.8,155.3 357.1,127.6 357.6,156.3 357.8,127.6 358.2,159.3 358.4,128.6 358.6,157.6 359,126.8 359.2,159.3 359.5,130.9 359.9,157.2 360.2,128 360.5,157.7 360.7,136.2 360.9,150.7 361.2,128.3 361.6,159 361.8,128.3 362.1,154.6 362.3,131.2 362.5,151.2 362.7,134 363.1,153.5 363.3,126.6 363.7,158.5 364,130.4 364.2,155.6 364.7,126.1 365,156.9 365.3,131 365.6,154.1 365.9,126.4 366.2,154.2 366.4,128.5 366.6,158.7 367,127.7 367.2,158.6 367.5,127.6 367.7,159 367.9,130.5 368.3,158.3 368.5,133.5 368.8,155.7 369.1,131.3 369.5,158.9 369.8,127.6 370.1,156.2 370.5,131.4 370.7,157.5 371,125.9 371.3,158.9 371.6,127 372,158.9 372.3,130.4 372.6,157.3 372.9,127.1 373.1,157.2 373.4,128.1 373.6,159 374,128.5 374.2,157.9 374.6,126.2 374.9,158.8 375,135.8 375.3,155.5 375.7,128.4 376,155.2 376.4,128.2 376.6,158.8 377,129.3 377.3,153.4 377.5,135.6 377.9,159.6 378.2,126 378.6,158.5 379,126.9 379.3,157.9 379.6,136.3 379.8,155.6 380.1,126.3 380.3,158.7 380.6,130.9 381,149.3 381.3,127.4 381.6,153.6 382,127.6 382.3,157.7 382.7,128 383.1,155.1 383.5,127.3 383.7,157.3 383.9,128.1 384.3,156.5 384.6,128.2 385,158.8 385.2,126 385.6,158.9 385.9,128.3 386,158.3 386.4,130.4 386.7,155.8 387,126.1 387.4,156.7 387.8,126.9 388.1,157.9 388.5,129.1 388.7,155 389,134.7 389.4,157.5 389.8,126.3 390.1,158.2 390.3,126.1 390.5,157.7 390.8,127.4 391.3,153 391.6,128.1 391.9,154 392.2,126 392.5,154.8 392.7,126.5 392.9,159.2 393.3,130.6 393.6,157.3 393.8,128.4 394,152.2 394.2,128.1 394.6,155.3 394.9,128.4 395.2,158.2 395.4,128.4 395.8,157.3 396,128.4 396.2,156.1 396.4,135.6 396.7,157.9 397,125.9 397.3,159 397.7,126.4 398,157.9 398.4,126.3 398.7,159.5 399,127.7 399.3,157.3 399.6,131.2 399.9,159 400.2,128.9 400.4,157.6 400.8,127.4 401.1,158.8 401.3,127.1 401.5,156.6 401.8,133 402.2,157.2 402.6,131.9 403,157.6 403.3,129.1 403.7,154.8 404,128 404.4,154.8 404.7,127.7 405,159.4 405.2,128 405.6,157.1 405.8,134 406.2,158.1 406.4,128.3 406.6,153.8 406.9,127.7 407.3,159.5 407.5,129.3 407.8,158.9 408.1,134.7 408.5,157.4 408.9,125.8 409.2,159.8 409.4,130.2 409.7,159.5 410.2,134.2 410.6,155.7 410.8,132.1 411.1,157.8 411.3,126.9 411.5,157.3 411.9,134.8 412.2,159.7 412.4,127.3 412.8,155.9 413.2,128.8 413.5,158.7 413.9,131 414.3,159.5 414.6,129.6 415,158.1 415.2,126.4 415.5,157.3 416,126.3 416.3,157.3 416.6,126.2 417,159.5 417.2,128.2 417.4,159 417.6,131.1 417.9,149 418.2,127.8 418.4,149.7 418.8,128 419.1,151.5 419.4,130 419.7,156.4 420,131.9 420.3,158.5 420.5,127.6 420.9,159.4 421.1,127.5 421.3,159.7 421.6,130.8 421.8,158 422,125.9 422.3,155.7 422.5,127.8 422.8,156.8 423.1,125.8 423.4,158.4 423.7,127.1 424,159.2 424.2,130.2 424.5,156.6 424.9,129.2 425.1,159.7 425.4,127.9 425.6,156.8 425.9,126.8 426.2,157.9 426.5,127 426.8,154.3 427.2,131.7 427.5,157.9 427.9,130 428.1,159.4 428.3,128.1 428.7,155.1 429.1,130 429.4,159.3 429.8,126.9 430.2,159.7 430.5,127.2 430.7,155.1 431,131.6 431.3,156.6 431.7,127.6 432,159.4 432.3,127.2 432.7,154.1 433,125.9 433.3,158 433.5,127.5 433.9,157.7 434.1,128.2 434.3,155.6 434.5,131.8 434.8,158.4 435,135.1 435.3,158.8 435.4,127.1 435.7,158 435.9,135.1 436.2,157.2 436.5,127.7 436.8,159.5 437.2,131.8 437.5,157.3 437.7,128.2 438,154.4 438.3,132.1 438.6,159.5 438.8,127.3 439.1,157.3 439.3,128.2 439.8,149.1 440.1,128.3 440.5,159.3 440.7,126.4 440.9,157.6 441.2,127.4 441.5,158.5 441.8,128.2 442.2,157.4 442.5,130.3" fill="none" stroke="#0000a0" stroke-width="0.55"/>
<path d="M442.7,143.3 531.6,143.3" fill="none" stroke="#3a3ac0" stroke-width="1.0" />
<path d="M24,211.3 118.2,211.3" fill="none" stroke="#8282d4" stroke-width="1.0" />
<path d="M335.2,211.1 531.6,211.1" fill="none" stroke="#8282d4" stroke-width="1.0" />
<path d="M121.8,172.5 122.3,171.7 122.7,171.7 123.1,171.6 123.4,172.1 123.7,171.5 124.2,171.9 124.6,171.4 124.8,171.6 125.1,171.4 125.6,171.3 125.9,172.1 126.3,171.7 126.7,171.3 127,171.8 127.3,171.4 127.6,171.5 128.1,171.1 128.4,171.1 128.7,171.2 129.1,171.8 129.5,171.2 129.8,171.3 130,171.7 130.5,170.8 130.9,170.9 131.3,171.3 131.7,170.9 131.9,171.8 132.4,170.8 132.7,171.4 133.2,171.2 133.6,170.9 134,171.1 134.3,171 134.6,171.7 134.9,171.1 135.2,171.1 135.5,170.9 136,170.9 136.3,171.7 136.6,171.2 136.9,171.5 137.1,170.9 137.5,171.3 137.7,170.9 138.2,171 138.5,170.9 139,170.9 139.2,171 139.6,171.1 139.9,171.7 140.3,171.6 140.7,170.9 141,171 141.5,171 141.8,171 142.2,171.5 142.5,171.8 142.8,171.1 143,171.9 143.4,172 143.8,171.9 144.2,171.1 144.6,171.1 144.9,171.8 145.4,171.9 145.6,171.9 146.1,171.3 146.4,172.2 146.8,172.3 147,171.7 147.2,171.7 147.4,172.1 147.6,172.5 148.1,172.7 148.3,172.1 148.7,172.2 149,172.5 149.4,172.4 149.7,172.6 150.2,173.5 150.5,173.3 150.8,172.7 151.1,173.2 151.3,173.1 151.6,173.1 152,173.1 152.4,173.6 152.7,174.1 152.9,174.4 153.3,173.6 153.5,173.7 154,173.8 154.3,173.9 154.7,174 155,174.2 155.3,174.3 155.8,174.5 156,174.8 156.4,174.8 156.8,174.7 157.3,174.7 157.6,174.9 158.1,175.1 158.6,175.1 158.8,176.1 159.1,176.2 159.5,175.5 159.9,176.4 160.4,175.6 160.6,175.6 161,176.4 161.4,175.8 161.6,176.4 161.9,176.4 162.2,176.9 162.4,176.3 162.8,176.5 163.2,177 163.6,176.3 164,177 164.4,176.4 164.9,177.1 165.1,176.5 165.6,177.2 165.8,176.7 166.3,176.9 166.6,176.9 167,177 167.2,177.1 167.6,177.2 167.9,177.3 168.3,177.4 168.7,178.1 169,178.4 169.4,177.7 169.9,177.9 170.2,178 170.6,178 171,178.2 171.5,178.9 171.9,178.6 172.2,179.4 172.6,178.6 172.8,179 173.1,179.1 173.4,179.5 173.8,179.1 174.1,179.3 174.3,178.8 174.7,178.2 175.1,178.3 175.5,177 175.8,176.6 176.1,176.7 176.5,175.5 176.7,175 177,174.9 177.3,174.9 177.6,175.7 177.8,176.3 178.1,177.2 178.4,177.2 178.6,178.1 178.9,178.5 179.3,179.9 179.7,180.5 180.2,179 180.6,178.3 180.9,178.1 181.3,177.6 181.6,177 182,176.8 182.4,175.4 182.7,175 183,175.1 183.3,175.5 183.7,176.1 183.9,176.4 184.1,177 184.6,177.5 184.9,178.3 185.2,178.2 185.5,178.2 186,178.6 186.3,179.4 186.7,179.6 186.9,179.4 187.3,178.3 187.7,176.9 188.2,174.9 188.5,174.4 188.7,174.1 189.1,174.7 189.6,175.2 189.8,175 190.1,175.8 190.4,175.7 190.7,176.2 191,176.3 191.2,177.1 191.7,177.2 192.1,178.3 192.4,178.9 192.6,178.4 192.9,178.8 193.2,179 193.5,178.8 193.9,177.4 194.3,177.4 194.5,175.9 194.8,175.4 195.2,174.8 195.6,174.6 196,175.2 196.3,174.7 196.6,174.9 197,175.1 197.3,175.7 197.8,175.9 198,175.7 198.3,175.8 198.5,176.1 198.9,176.4 199.2,177.3 199.6,176.6 200,176.9 200.4,177.6 200.8,177.2 201.2,177.4 201.5,177.5 201.9,177.9 202.3,178 202.8,178.2 203,178.1 203.2,178.3 203.7,178.3 204.1,178.4 204.5,178.8 204.9,179.1 205.3,179.3 205.6,179.1 205.9,179.6 206.3,179.3 206.6,179.5 206.9,180.5 207.3,180.1 207.5,179.6 207.8,179.8 208.1,180.3 208.5,180.5 208.9,180.8 209.3,180.5 209.6,180.8 209.9,180.1 210.2,180.1 210.5,180.3 210.8,180.5 211.2,180.6 211.5,180.5 212,181.1 212.2,180.9 212.6,180.7 213,181 213.5,180.7 213.7,181.2 213.9,181 214.2,181.7 214.5,181 214.8,181.7 215.1,181.6 215.3,181.8 215.7,181.5 216.1,181.9 216.3,181.2 216.5,181.3 216.9,181.6 217.3,182.2 217.7,181.6 218.1,181.5 218.5,182.5 218.9,182.4 219.1,181.8 219.6,181.9 219.9,182.5 220.2,182.3 220.6,182.7 221.1,182.2 221.4,182.4 221.7,182.2 222,182.3 222.3,182.3 222.8,182.4 223,182.8 223.5,183 223.8,183 224.1,183.2 224.3,182.7 224.6,183.1 225.1,183.3 225.4,183.4 225.8,183.1 226.2,183 226.6,183.2 226.8,183.3 227.2,184.1 227.4,183.8 227.7,183.6 228.1,183.4 228.4,183.5 228.8,183.7 229.3,183.6 229.7,183.5 230.2,184 230.4,184 230.7,183.5 231.1,183.4 231.5,183.7 231.9,183.3 232.1,182.8 232.3,182.8 232.6,182.9 233,182.5 233.2,182.4 233.7,182.4 234.1,182.3 234.4,182.8 234.8,182.1 235.1,181.8 235.4,182.3 235.6,182 236,181.6 236.5,181.5 236.9,181.8 237.4,181.1 237.7,181 237.9,181.1 238.3,181 238.7,180.6 239.1,180.5 239.4,180.5 239.8,180.4 240.3,180.6 240.7,180.3 241.1,180 241.4,179.9 241.8,180.1 242.2,180.5 242.4,179.4 242.9,179.4 243.2,179.2 243.6,179.4 244,179.2 244.5,179.1 244.7,178.8 245.2,179.5 245.5,178.5 245.8,178.4 246.2,178.9 246.6,178.4 246.9,178.8 247.3,178.1 247.6,177.8 247.9,177.8 248.3,177.6 248.6,177.9 249,178 249.5,177.3 249.7,177.3 250.1,178 250.4,177.8 250.9,177.1 251.3,177.5 251.7,177.1 252.1,176.8 252.5,176.9 253,176.7 253.2,176.6 253.6,177 254,177.1 254.3,176.5 254.7,176.5 255.1,176.3 255.5,176.3 255.8,176.7 256,176.2 256.3,176.2 256.8,176.9 257.1,176.4 257.6,176.2 258,176.1 258.3,175.9 258.6,175.8 259,175.7 259.4,176.1 259.7,176.2 260.1,176.3 260.4,176 260.8,175.7 261.1,175.9 261.6,176 261.9,175.9 262.2,175.9 262.7,175.8 263.1,176.4 263.4,175.7 263.9,175.7 264.2,175.7 264.6,176.2 264.9,175.8 265.3,176.3 265.5,175.8 266,176.5 266.4,176 266.7,176.2 267,175.9 267.3,176 267.8,176.9 268.1,176.3 268.3,176.8 268.7,175.9 269,176 269.3,176.3 269.7,176 270.2,176.8 270.5,176 270.7,176 271.2,176.8 271.4,176.6 271.8,176.1 272.1,176.2 272.5,176.2 272.8,176.9 273.2,176.7 273.6,177.2 274,176.8 274.4,176.8 274.9,177.4 275.3,176.8 275.8,176.9 276.1,176.9 276.4,177.2 276.8,177 277.1,177.4 277.5,177.5 278,177.6 278.2,177.4 278.6,177.7 279.1,178.2 279.4,178.5 279.6,178.2 279.9,178.1 280.3,177.9 280.7,177.9 281.1,178.5 281.5,178.2 281.9,178.4 282.3,178.7 282.7,178.5 283.1,178.9 283.4,179 283.7,178.5 284,178.8 284.5,178.7 284.7,178.9 285.2,178.9 285.6,178.9 286,179.1 286.4,179.1 286.7,179.4 287.1,179.7 287.5,180.2 287.9,180 288.1,179.8 288.4,179.6 288.7,180.3 289.2,180 289.6,180.2 289.9,180.4 290.3,180.8 290.6,180.1 290.9,180.4 291.4,180.9 291.6,180.4 292,181.1 292.3,180.9 292.6,180.8 292.8,180.6 293.3,180.7 293.5,180.7 294,180.8 294.4,181.7 294.8,181.8 295.3,181.1 295.6,181.6 296,181.7 296.2,181.3 296.6,182 297,182 297.2,181.9 297.6,181.4 298,181.2 298.3,181.2 298.8,181.2 299.1,181.3 299.3,181.2 299.7,181 300,181.5 300.3,181.9 300.7,181.7 300.9,181.8 301.2,180.8 301.5,180.7 301.9,181.5 302.2,181.1 302.5,180.6 303,180.7 303.2,180.9 303.6,181.4 303.9,180.4 304.4,181.1 304.7,180.8 305.2,180.4 305.6,180.6 306,180.8 306.4,180.6 306.7,180 306.9,180.6 307.3,180.8 307.8,179.8 308.2,180.6 308.6,180 308.9,180.1 309.3,180.5 309.7,179.7 310,179.5 310.3,179.5 310.7,180.1 311.1,180.1 311.4,179.6 311.6,179.5 311.9,179.2 312.3,179.1 312.6,179.2 313,179.6 313.4,179.1 313.7,179.1 313.9,179 314.4,178.9 314.9,178.8 315.1,178.9 315.6,178.7 315.9,179.4 316.2,178.5 316.6,179.2 317,179.1 317.3,179.2 317.5,179.3 317.8,178.3 318.1,178.4 318.5,178.8 318.8,178.3 319.2,178.7 319.5,178.3 319.8,178 320.2,177.3 320.6,176.6 321,176.1 321.4,176.5 321.9,175.9 322.1,176.1 322.4,176.2 322.9,177.2 323.3,176.4 323.6,176.7 323.9,176.7 324.2,177.2 324.6,176.9 324.8,177.4 325.2,177.4 325.6,178.2 325.8,178.2 326.3,177.9 326.5,178 326.9,178.3 327.4,179.2 327.7,179.5 328,180.4 328.4,180.8 328.7,182.5 329.1,182.5 329.3,183.5 329.8,184.7 330.1,185.1 330.4,185.9 330.7,186.7 331.2,188.4 331.6,189.1 332.1,190.3 332.4,191 332.8,192 333,192.5 333.4,194.3 333.9,195 334.3,196.5 334.7,196.9 335.1,198.2 335.2,198.3 335.2,201.2 335.1,201 334.7,199.7 334.3,199 333.9,198.8 333.4,197.1 333,197 332.8,195.9 332.4,195.4 332.1,194.7 331.6,193.9 331.2,192.6 330.7,191.5 330.4,191.4 330.1,190.6 329.8,190.2 329.3,189.1 329.1,188.1 328.7,187.6 328.4,187 328,185.9 327.7,185.7 327.4,184.8 326.9,184.2 326.5,183.7 326.3,184.2 325.8,184 325.6,183.6 325.2,183.5 324.8,182.6 324.6,183.2 324.2,183 323.9,181.9 323.6,182.5 323.3,182 322.9,181.5 322.4,181.4 322.1,181.5 321.9,181.4 321.4,180.5 321,181 320.6,180.4 320.2,181.4 319.8,180.7 319.5,180.8 319.2,181.7 318.8,181.9 318.5,181.8 318.1,181.5 317.8,182 317.5,181.6 317.3,181.9 317,181.9 316.6,182.1 316.2,182 315.9,181.6 315.6,182.1 315.1,182.4 314.9,182.5 314.4,182.3 313.9,182.3 313.7,182.6 313.4,182.8 313,182.1 312.6,182.8 312.3,183 311.9,182.7 311.6,183.1 311.4,182.7 311.1,182.8 310.7,182.6 310.3,183.2 310,182.7 309.7,183.4 309.3,182.6 308.9,183 308.6,182.7 308.2,183.6 307.8,183.2 307.3,183.3 306.9,183.8 306.7,183.5 306.4,183.5 306,183.9 305.6,184.1 305.2,184 304.7,183.9 304.4,184.2 303.9,184.3 303.6,184.3 303.2,183.9 303,184.5 302.5,184.4 302.2,184.6 301.9,183.8 301.5,184.5 301.2,184.8 300.9,184.6 300.7,183.9 300.3,184.6 300,185 299.7,184.6 299.3,184.7 299.1,184.8 298.8,184.5 298.3,185.3 298,185.2 297.6,185.4 297.2,185.4 297,185.4 296.6,184.9 296.2,185.2 296,185.1 295.6,185.2 295.3,185 294.8,185 294.4,184.8 294,184.2 293.5,184 293.3,184.2 292.8,184.7 292.6,183.9 292.3,184.3 292,184.5 291.6,184.5 291.4,183.5 290.9,184.3 290.6,184.2 290.3,184.2 289.9,184.1 289.6,183.2 289.2,183.8 288.7,183.6 288.4,183.8 288.1,183.7 287.9,183.7 287.5,183.5 287.1,183.5 286.7,182.8 286.4,183.5 286,182.9 285.6,183.3 285.2,182.9 284.7,183.1 284.5,182.9 284,182.4 283.7,182.3 283.4,182.7 283.1,182.5 282.7,182.7 282.3,182.5 281.9,181.8 281.5,182.5 281.1,182.4 280.7,182.2 280.3,181.6 279.9,182.2 279.6,181.7 279.4,182 279.1,181.8 278.6,181.2 278.2,181.7 278,181.7 277.5,181.3 277.1,181.3 276.8,181.6 276.4,181.5 276.1,180.7 275.8,180.9 275.3,181.3 274.9,180.4 274.4,181 274,180.9 273.6,180.4 273.2,180.9 272.8,180.2 272.5,180.6 272.1,180.6 271.8,179.8 271.4,180.7 271.2,180.7 270.7,180.8 270.5,180 270.2,180.7 269.7,180.6 269.3,180.7 269,180.6 268.7,179.8 268.3,180.6 268.1,180.4 267.8,180.5 267.3,180.7 267,180.5 266.7,180.3 266.4,180.3 266,180.5 265.5,180.3 265.3,180.6 264.9,180 264.6,180.6 264.2,179.8 263.9,180.4 263.4,180.3 263.1,180.6 262.7,180.6 262.2,179.9 261.9,179.8 261.6,180.1 261.1,179.6 260.8,180.1 260.4,180.2 260.1,180.5 259.7,180.5 259.4,180.4 259,180.6 258.6,180.4 258.3,180.6 258,180.6 257.6,180.2 257.1,180.8 256.8,180 256.3,180.9 256,180.4 255.8,180.6 255.5,180.8 255.1,180.3 254.7,180.1 254.3,181 254,181.1 253.6,180.6 253.2,181.1 253,180.5 252.5,180.9 252.1,181 251.7,181.2 251.3,181.4 250.9,180.9 250.4,181.4 250.1,181.5 249.7,181 249.5,181.3 249,181.7 248.6,181.8 248.3,181.9 247.9,181.1 247.6,182.1 247.3,181.5 246.9,182.2 246.6,182.4 246.2,182.4 245.8,182.5 245.5,182.5 245.2,182.6 244.7,183 244.5,183 244,182.3 243.6,182.5 243.2,182.7 242.9,183.5 242.4,183.3 242.2,183.4 241.8,183.6 241.4,183.9 241.1,183.2 240.7,184.1 240.3,184.2 239.8,184.1 239.4,183.9 239.1,183.8 238.7,184.1 238.3,184.7 237.9,184.9 237.7,184.9 237.4,185 236.9,185.2 236.5,185.1 236,185 235.6,185.6 235.4,185.6 235.1,185.4 234.8,185.8 234.4,185.3 234.1,185.3 233.7,186.1 233.2,186.2 233,186.3 232.6,186.1 232.3,185.9 232.1,186.5 231.9,186.5 231.5,186.6 231.1,186.7 230.7,186.1 230.4,186.6 230.2,187.1 229.7,186.8 229.3,186.7 228.8,186.6 228.4,186.6 228.1,187.2 227.7,186.6 227.4,187.1 227.2,186.3 226.8,186.8 226.6,186.8 226.2,186.7 225.8,186.3 225.4,186.5 225.1,186.1 224.6,185.6 224.3,186.5 224.1,186.1 223.8,186.4 223.5,185.7 223,186.2 222.8,186 222.3,185.4 222,186.1 221.7,186.1 221.4,185.6 221.1,185.5 220.6,185.3 220.2,185.8 219.9,185.7 219.6,185.2 219.1,185.5 218.9,185.5 218.5,185.2 218.1,185.4 217.7,185.4 217.3,185 216.9,185.2 216.5,185.2 216.3,184.4 216.1,184.9 215.7,184.2 215.3,185 215.1,184.2 214.8,184.7 214.5,184.7 214.2,184.4 213.9,184 213.7,184.4 213.5,184.7 213,183.8 212.6,184.2 212.2,184.5 212,184.2 211.5,184.3 211.2,184.3 210.8,184.3 210.5,184.1 210.2,184.1 209.9,183.7 209.6,183.4 209.3,183.9 208.9,183.3 208.5,183.3 208.1,183.4 207.8,183.6 207.5,183.7 207.3,183.5 206.9,183.2 206.6,183.5 206.3,182.9 205.9,183.2 205.6,183.1 205.3,182.9 204.9,182.8 204.5,182.6 204.1,182.3 203.7,182.4 203.2,181.6 203,182 202.8,181.7 202.3,181.5 201.9,181.7 201.5,181.6 201.2,181 200.8,181.2 200.4,181.2 200,181.1 199.6,180.3 199.2,180.6 198.9,180.5 198.5,179.9 198.3,179.5 198,179.3 197.8,179.6 197.3,178.9 197,178.6 196.6,179.3 196.3,179.2 196,178.5 195.6,178.9 195.2,178.3 194.8,179 194.5,180.3 194.3,180.8 193.9,181.4 193.5,182.2 193.2,182.7 192.9,182 192.6,181.9 192.4,182.2 192.1,181.7 191.7,181.9 191.2,181.4 191,181.4 190.7,181.2 190.4,181.1 190.1,180.9 189.8,180.6 189.6,179.9 189.1,179.5 188.7,179.7 188.5,179.7 188.2,180.8 187.7,182.3 187.3,184.1 186.9,185.2 186.7,184.5 186.3,184.4 186,184.5 185.5,184.3 185.2,183.9 184.9,183.8 184.6,183.6 184.1,183.1 183.9,182.4 183.7,181 183.3,180.7 183,179.8 182.7,179.3 182.4,179.3 182,180.1 181.6,180.6 181.3,180.9 180.9,181.4 180.6,181.6 180.2,181.8 179.7,181.8 179.3,182.6 178.9,181.9 178.6,181.8 178.4,181.5 178.1,180.9 177.8,180.7 177.6,179.8 177.3,179.4 177,180 176.7,179.7 176.5,180.8 176.1,181.3 175.8,181.7 175.5,181.9 175.1,182.5 174.7,183.1 174.3,183.6 174.1,183.3 173.8,183.2 173.4,183.3 173.1,183.6 172.8,182.5 172.6,182.7 172.2,182.9 171.9,182.8 171.5,182.1 171,182.7 170.6,182 170.2,182.1 169.9,181.5 169.4,182.2 169,181.7 168.7,181.5 168.3,181.7 167.9,181.8 167.6,181.2 167.2,181.9 167,181.8 166.6,181.2 166.3,181.4 165.8,181 165.6,181.4 165.1,181.4 164.9,181.4 164.4,180.8 164,180.9 163.6,181.2 163.2,181 162.8,180.8 162.4,180.5 162.2,180.6 161.9,180.5 161.6,180.4 161.4,180.8 161,180.1 160.6,180.2 160.4,180.5 159.9,179.7 159.5,179.5 159.1,180.2 158.8,179.6 158.6,179.3 158.1,179.4 157.6,179.7 157.3,179.9 156.8,179.8 156.4,179.8 156,179.7 155.8,178.7 155.3,178.8 155,179.3 154.7,179.1 154.3,179.3 154,179.1 153.5,178.5 153.3,179.2 152.9,178.5 152.7,178.7 152.4,179 152,178.9 151.6,178 151.3,178.4 151.1,177.8 150.8,178.4 150.5,177.8 150.2,178.1 149.7,178.4 149.4,177.9 149,178.3 148.7,177.4 148.3,177.9 148.1,178.1 147.6,177.8 147.4,178 147.2,177.6 147,177.1 146.8,177.1 146.4,177.7 146.1,177.8 145.6,177.1 145.4,177 144.9,177.4 144.6,177.4 144.2,176.6 143.8,176.7 143.4,177.5 143,177.4 142.8,177.5 142.5,177.5 142.2,177 141.8,176.9 141.5,177.2 141,177.4 140.7,177.5 140.3,177.5 139.9,177.5 139.6,177 139.2,177.5 139,177.2 138.5,176.6 138.2,177.4 137.7,177.2 137.5,176.5 137.1,177.4 136.9,177.4 136.6,176.7 136.3,177.1 136,177.3 135.5,177.2 135.2,177.4 134.9,177.4 134.6,177.3 134.3,177.3 134,176.8 133.6,177.3 133.2,177.2 132.7,177.3 132.4,176.5 131.9,176.7 131.7,177.3 131.3,176.7 130.9,176.7 130.5,177.3 130,176.9 129.8,176.8 129.5,177.3 129.1,177.3 128.7,176.5 128.4,176.7 128.1,177.3 127.6,176.9 127.3,177.4 127,177.1 126.7,177.3 126.3,177.2 125.9,176.9 125.6,177.4 125.1,177.1 124.8,176.7 124.6,177.3 124.2,176.9 123.7,177.3 123.4,177.5 123.1,177.4 122.7,177.5 122.3,177.6 121.8,176.8Z" fill="#0080ff"/>
<path d="M118.3,211.2 119,204 120.6,186 121.5,175" fill="none" stroke="#0080ff" stroke-width="1.15" stroke-linejoin="round"/>
<path d="M121.5,175 121.8,175.3 122,172.6 122.4,178.4 122.8,171.8 123,175.4 123.3,172.8 123.6,177.5 123.9,173.8 124.2,176.2 124.5,172.8 124.7,175.6 125,173.3 125.2,174.7 125.6,172.3 125.8,175.5 126.1,171 126.4,175.8 126.8,172.7 127.2,175.2 127.5,171.8 127.9,174.7 128.1,172 128.4,177.6 128.7,173.5 129,177.1 129.2,170.5 129.5,176.1 129.8,170.8 129.7,174.1 129.8,169.6 130,174.1 130,176.5 130.3,170.1 130.6,176.6 130.9,172.4 131.2,177.9 131.5,171.6 131.9,176.4 132.2,171.9 132.5,175.8 132.8,172.6 133.1,175.8 133.5,173.7 133.8,177.3 134.1,173.5 134.4,176 134.7,171.2 135,175.9 135.4,172.8 135.7,177.5 136,171.5 136.3,174.9 136.7,171.6 137,177.3 137.3,171.5 137.7,175.7 138,172.4 138.3,177.1 138.6,171.8 138.9,176.8 139.3,173.4 139.6,177.5 139.8,173.4 140.1,176.8 140.5,173.6 140.9,176.8 141.2,171.1 141.5,178 141.7,172.7 142,177 142.4,172.6 142.8,176.5 143,171.6 143.4,177.3 143.6,171.2 143.9,177.1 144.1,171 144.4,177.2 144.7,171.1 145,176.5 145.4,171.2 145.7,176 146,171.4 146.3,177.7 146.6,171.8 146.9,176.9 147.2,172.4 147.4,175.6 147.7,173.7 148.1,175.9 148.4,172.2 148.8,177.5 149,173.5 149.2,178.3 149.5,173.1 149.7,178 150,172.6 150.3,178.2 150.5,174.6 150.9,177.3 151.3,173.2 151.6,179.6 151.9,172.4 152.1,177.1 152.4,175.6 152.7,178.9 153,174.4 153.3,177.2 153.6,174.2 153.9,178.9 154.3,174.1 154.6,177.3 154.9,173.9 155.2,177.1 155.4,174.8 155.8,180 156.1,175 156.4,179.3 156.7,175 157,178.7 157.3,175.1 157.5,179.6 157.8,175.4 158,178.9 158.3,174.7 158.5,180.3 158.7,174.6 159,179.1 159.3,177.5 159.5,180.7 159.8,177.1 160.1,180.2 160.4,177.2 160.7,180.6 161,176.9 161.3,179.3 161.5,176.2 161.9,178.7 162.1,176.7 162.4,179 162.7,177.1 162.9,180.2 163.2,176.6 163.5,181.4 163.9,177.3 164.1,181.8 164.4,177.4 164.8,181.6 165.1,178.2 165.3,181.3 165.7,176.9 165.9,180.5 166.2,177.4 166.5,181.7 166.8,176.6 167.1,181.9 167.4,178 167.8,181.9 168,177.7 168.4,180.6 168.8,179 169,180.7 169.4,179.6 169.7,182.2 170,178.3 170.3,182.4 170.6,180 171,181.1 171.2,179.3 171.5,182.5 171.8,178.5 172.2,182.8 172.5,178.7 172.9,183 173.2,178.7 173.5,184.3 173.7,179.1 174,184.3 174.3,179.3 174.6,183.8 175,179.5 175.3,181.5 175.7,178.5 175.9,181.5 176.2,178.2 176.4,180.6 176.8,174.9 177.1,179.9 177.4,176.5 177.6,178.5 177.8,176.6 178.1,179.8 178.4,177.4 178.8,181.5 179,179.6 179.3,181.5 179.5,180.2 179.8,181.4 180.1,178.7 180.5,181.5 180.7,177.4 181,181.9 181.3,177.6 181.7,179.7 182,176 182.2,179.8 182.6,174.9 182.9,178.5 183.2,174.9 183.5,179.4 183.9,177.1 184.2,183.9 184.4,178.3 184.8,181.2 185.1,180.4 185.5,184.3 185.8,177.9 186.1,184.4 186.4,180.1 186.7,182.8 186.9,181.9 187.1,184.7 187.5,176.6 187.9,182.7 188.1,175.1 188.5,178.4 188.9,175 189.1,177.9 189.3,175.4 189.7,179 189.9,176.9 190.2,181.3 190.4,175.1 190.8,179.6 191.1,177 191.4,180.2 191.6,177.4 191.9,180.4 192.2,177.9 192.6,182.4 192.9,177.9 193.2,182.2 193.4,179.2 193.8,180.5 194.1,177.5 194.4,178.7 194.6,177.3 194.9,179.2 195.1,174.5 195.4,178.7 195.8,174.4 196.1,178.5 196.4,174.5 196.7,180 197.1,175.5 197.4,179.1 197.7,175.2 198,180.9 198.3,175.9 198.5,180.6 198.8,177.2 199.1,179.2 199.4,177.9 199.7,181.6 199.9,176.2 200.3,181.2 200.5,177.7 200.9,181.8 201.2,177.4 201.6,180.8 201.8,178 202.1,180.5 202.3,179.5 202.7,180.5 202.9,178.4 203.3,181.5 203.5,178.7 203.7,182.4 204,179.1 204.4,181.6 204.7,179.4 205,183.2 205.3,180.7 205.5,183.6 205.8,180.2 206,182.2 206.3,178.6 206.6,181.9 206.8,179.6 207.1,182.9 207.3,180.2 207.6,182.1 207.8,180 208.1,182.4 208.3,179.4 208.7,184.6 208.9,181.4 209.2,183.6 209.5,180.6 209.7,182.7 210.1,181.6 210.4,184.1 210.8,181.8 211.1,183.7 211.4,179.8 211.7,183.4 211.9,181.1 212.2,184.3 212.4,180.4 212.8,183.8 213.1,180.7 213.4,185.4 213.7,181.1 214.1,183.1 214.4,182.2 214.7,183.2 214.9,182.7 215.3,183.3 215.7,181.2 215.9,184.8 216.3,180.5 216.5,184 216.9,182.2 217.2,186 217.5,181.9 217.7,184.8 218,181.7 218.2,185.3 218.5,181.6 218.7,184.6 219,181.9 219.2,186.4 219.5,183.1 219.9,185.6 220.3,181.2 220.6,184.9 220.8,182.3 221.1,186.2 221.3,182.3 221.5,186.1 221.8,182.5 222.1,186.1 222.5,182.3 222.7,186.3 222.9,182.6 223.1,185.8 223.4,184.2 223.8,186.2 224.2,183.1 224.6,185.2 224.8,183.1 225,186.5 225.4,183.6 225.7,186.5 226,183 226.3,185.7 226.6,183.2 226.9,186.6 227.1,184.5 227.4,186.7 227.7,183.5 227.9,186.4 228.3,184.5 228.6,185.7 228.9,184.2 229.1,187.1 229.4,185.1 229.7,186.7 230,183.5 230.3,186.1 230.7,184.7 230.9,186.5 231.2,183 231.4,186.8 231.7,183.1 232,185.8 232.3,183.2 232.7,186 233,183 233.3,185.7 233.6,183.2 233.8,184.5 234.2,182.4 234.4,185.8 234.7,181.9 234.9,185.5 235.3,181.1 235.6,185.9 235.8,181.8 236.1,185.1 236.5,182.1 236.9,184.4 237.1,181.9 237.4,184.3 237.7,182 238,183.3 238.3,181.9 238.6,184.2 238.9,181 239.2,183.8 239.5,182.1 239.8,183.7 240.1,180.7 240.4,183.9 240.7,180.2 240.9,184 241.3,180.1 241.6,183.1 241.8,180.4 242.1,184.1 242.4,181.3 242.8,182.9 243,181.1 243.3,182.9 243.6,179.3 243.9,183 244.3,180.2 244.6,181.4 244.9,179 245.3,182.9 245.5,178.6 245.8,181.4 246.1,178.3 246.4,182.4 246.7,178.4 247,181.9 247.4,179.3 247.7,181.4 248.1,177.5 248.4,180.3 248.7,179.2 249,181.4 249.4,177.3 249.6,181.5 249.9,177 250.1,180.1 250.4,176.6 250.6,180.1 250.9,178.3 251.1,181.2 251.5,177.1 251.8,179.7 252.1,176.8 252.4,180.5 252.7,177 253.1,181.3 253.4,176.6 253.7,180.4 254.1,178 254.5,179.9 254.7,175.6 255,179.9 255.3,176.5 255.6,179.1 255.9,176.1 256.2,180.8 256.5,176.1 256.9,181.2 257.2,176.1 257.6,179.2 257.9,175.8 258.2,179.3 258.6,176.6 258.8,178.6 259.1,176.2 259.4,180.2 259.7,175.8 260,179.5 260.3,175.8 260.6,179.5 260.9,176.9 261.1,180.5 261.4,177 261.7,179.7 261.9,175.2 262.2,179.8 262.6,176.7 262.9,179.4 263.2,175.8 263.5,179.6 263.8,175.3 264,179.7 264.4,176 264.7,180.4 265,175.8 265.3,179.6 265.6,175.7 265.9,180.5 266.1,176.2 266.4,180.5 266.8,176.1 267.1,180.7 267.3,176.8 267.7,179.4 268.1,178 268.4,180.3 268.7,175.7 269,179.3 269.3,177.9 269.7,180.4 270,177.2 270.4,180.2 270.7,176.7 271,179 271.2,177.9 271.5,179.3 271.8,176.2 272.1,180.9 272.5,176.4 272.7,179.5 273,176.2 273.3,180.6 273.6,175.8 273.8,179.3 274,175.9 274.4,179.7 274.6,178.1 274.9,180.8 275.2,176.8 275.5,180.8 275.8,177.3 276.1,181.2 276.3,177 276.6,182 277,176.9 277.3,180.8 277.6,178.3 278,180.2 278.3,178.6 278.6,180.6 278.9,178.4 279.3,181 279.6,177.5 279.9,181.6 280.3,179.5 280.6,180.9 280.9,177.3 281.1,182.1 281.5,179.1 281.7,182.3 281.9,178.6 282.2,182.6 282.5,178.6 282.7,182.8 283,178.4 283.3,182.8 283.6,179.9 283.9,182.9 284.2,180.4 284.4,182.8 284.7,179.3 284.9,182.5 285.3,178.9 285.6,182.8 285.9,179.2 286.2,183.4 286.6,179.8 286.8,183.2 287.1,179.3 287.4,184 287.7,180.9 288,183.2 288.3,181.3 288.6,182.5 288.9,179.7 289.3,182.9 289.6,179.9 289.9,183.3 290.1,180.9 290.4,183.3 290.7,181.2 291.1,185 291.3,181.7 291.6,185 292,180.4 292.2,184.4 292.4,181.4 292.7,183.7 293,180.5 293.3,183.7 293.5,182 293.9,184.3 294.2,182.1 294.5,183.9 294.9,182.7 295.2,185.1 295.5,181.5 295.9,185.3 296.2,181.3 296.5,185.2 296.9,181.5 297.2,184.7 297.4,182.1 297.7,185.8 298.1,180.7 298.4,185.8 298.7,182.2 298.9,184.8 299.2,181.5 299.5,185.3 299.9,181.6 300.1,183.9 300.3,181.3 300.6,183.3 300.8,181 301,184.7 301.4,180.3 301.7,185.3 302,180.7 302.2,184.9 302.6,181.3 302.8,183.7 303,180.7 303.3,183.1 303.5,180.9 303.8,183.8 304.1,180.9 304.4,182.7 304.7,180.3 304.9,183.1 305.3,179.7 305.5,183.9 305.8,180.2 306,183.7 306.3,180.8 306.6,184.3 306.9,180.6 307.1,183 307.5,180.8 307.8,184.2 308.1,180 308.4,183.9 308.6,179.7 309,182.7 309.4,180.7 309.7,182.2 310,179.9 310.3,182.8 310.6,180.9 310.9,182 311.1,180.1 311.3,183.1 311.7,179.4 312,182 312.2,180.7 312.5,182.9 312.9,180.6 313.2,181.5 313.5,179.4 313.9,182.4 314.1,178.3 314.4,180.9 314.8,178.1 315.1,182.3 315.4,179.6 315.7,181.7 315.9,178.9 316.2,182.5 316.5,179.9 316.8,181.4 317.2,178 317.4,181.4 317.6,178.3 318,181.8 318.3,179.6 318.7,181.6 319,177.5 319.3,180.6 319.6,178.2 320,181.5 320.3,177 320.7,181.2 320.9,177.4 321.1,181.1 321.2,178.3 321.3,174.5 321.4,178.3 321.4,177.7 321.7,180.7 321.9,175.9 322.2,182.3 322.5,178.1 322.8,180.3 323,175.8 323.2,182.2 323.6,178.6 323.8,180.2 324.1,177.8 324.4,181.2 324.8,179.5 325.1,181.2 325.3,178.5 325.7,183.7 325.9,179 326.3,183.7 326.6,178.1 326.9,184.6 327.2,179.6 327.5,182.8 327.7,180.2 328.1,185.5 328.4,180.9 328.6,188.2 328.8,181.6 329.2,188.2 329.5,183.9 329.8,189.7 330.2,185.4 330.4,191.1 330.7,186.9 331.1,191.2 331.4,188.7 331.6,193.7 331.9,189.9 332.3,194.5 332.5,192.7 332.8,196 333.1,191.9 333.5,196.2 333.8,195.8 334,198.1 334.3,196.4 334.7,199.5 334.9,198 335.3,211" fill="none" stroke="#0080ff" stroke-width="0.8" stroke-linejoin="round"/>
<path d="M123,192.1 123.3,191.5 123.5,191.4 123.8,191.9 124.1,191.7 124.4,191.3 124.9,191.5 125.1,191.3 125.5,191.3 125.8,191.8 126.3,191.8 126.6,191.7 127,191.2 127.3,192 127.7,191.9 128.1,191.9 128.5,191.3 129,191.1 129.4,191 129.8,191.1 130.1,191 130.5,191.4 130.7,191.7 131,191.7 131.4,191 131.8,191.1 132.1,191.1 132.4,191.6 132.7,191.1 133.2,191.6 133.5,191.3 133.9,191.4 134.2,191.9 134.5,191.2 134.9,191.2 135.3,191.7 135.6,192 135.9,191.5 136.4,191.6 136.7,191.2 136.9,191.3 137.3,191.2 137.7,191.6 137.9,191.2 138.2,191.7 138.6,191.2 138.8,191.5 139.1,191.7 139.5,192.1 139.9,191.3 140.2,191.7 140.6,191.5 141.1,192 141.4,191.4 141.8,191.3 142.2,191.6 142.5,192 142.8,192.3 143.3,191.4 143.6,191.5 144.1,192.1 144.5,191.5 144.7,191.5 145.1,191.9 145.5,192.2 146,191.4 146.4,191.7 146.7,191.5 147,191.4 147.3,191.5 147.5,191.6 147.9,192 148.3,191.6 148.7,191.5 149,191.8 149.4,191.6 149.7,191.5 150.2,192.2 150.5,191.7 151,192.5 151.4,192.8 151.6,192.2 151.8,192.2 152.1,193.3 152.6,193.1 152.9,193 153.3,193.7 153.5,192.9 153.8,193.9 154,193.7 154.4,193.3 154.9,193.6 155.1,193.6 155.6,194.3 156,193.9 156.5,194.4 156.9,195.1 157.4,195.1 157.8,194.7 158.3,195 158.6,195 159,195.1 159.2,195.3 159.5,195.4 160,195.6 160.4,196.4 160.8,195.9 161,195.7 161.4,195.8 161.8,196.3 162.2,196.3 162.6,196.8 163,196.6 163.4,196.7 163.7,196.6 164.1,197 164.3,197.1 164.7,197.1 164.9,196.3 165.2,196.9 165.6,196.4 166,197.3 166.3,196.6 166.8,197.1 167.2,196.8 167.6,196.8 167.9,197.6 168.1,197.2 168.5,197.5 168.9,197.1 169.4,197.5 169.7,197.5 169.9,197.6 170.2,197.7 170.6,197.6 171,198 171.2,197.7 171.5,198.1 171.8,197.8 172.1,197.9 172.5,198 172.7,198.4 173.1,198.2 173.4,198.5 173.7,198.7 174,198.5 174.5,197.7 174.7,197.6 175,197.7 175.3,198 175.5,196.9 175.9,197.1 176.3,196.4 176.5,196.2 176.9,195.7 177.4,196.2 177.7,197.2 178.1,197.5 178.3,197.3 178.7,197.9 179,198.3 179.4,199.7 179.8,200.1 180.2,199.1 180.5,198.8 181,198.9 181.5,197.7 181.9,197.6 182.4,196.9 182.8,196.9 183.2,197.1 183.5,197.7 183.9,197.5 184.2,198.2 184.6,198.4 184.8,199.2 185.2,198.9 185.4,199.4 185.9,199.3 186.3,200 186.6,199.8 186.9,199.2 187.2,198.5 187.7,197.5 188.1,197.3 188.4,196.2 188.6,196.3 189.1,196.8 189.4,197.4 189.7,197.9 190,197.4 190.3,197.6 190.7,198.3 191,198.8 191.3,198.9 191.5,199.1 191.8,199.2 192.1,199.3 192.4,199.7 192.9,199.6 193.2,199.2 193.5,198.6 193.9,198.5 194.2,198.1 194.4,197.8 194.8,197.5 195.2,196.8 195.6,196.7 196.1,196.8 196.5,197.4 197,197.9 197.4,197.5 197.8,197.4 198.2,197.7 198.4,197.7 198.7,198 199,197.8 199.3,198.7 199.6,198.8 200.1,198.4 200.6,198.3 200.9,199 201.2,198.9 201.5,198.3 202,198.5 202.3,198.4 202.6,198.4 203.1,198.7 203.5,199.1 203.8,199.3 204,199.3 204.3,199 204.5,198.7 204.8,199.5 205.1,199.1 205.4,198.8 205.8,198.8 206,198.8 206.2,198.9 206.5,199.7 206.9,199 207.2,199 207.6,199 208,199 208.3,200 208.7,199.2 209.1,200 209.5,199.5 209.7,199.2 210.2,199.5 210.5,199.4 210.9,199.7 211.3,199.4 211.7,199.5 212,199.7 212.3,199.8 212.6,200.6 213,200.3 213.3,199.8 213.5,199.7 213.9,199.9 214.3,199.9 214.6,200.5 215.1,199.9 215.5,200.3 216,200.2 216.3,200 216.8,200.7 217,200.2 217.4,200.9 217.7,200.2 218.1,200.2 218.5,200.3 218.9,201.3 219.3,200.5 219.5,200.8 219.9,200.4 220.3,200.7 220.8,200.6 221.2,200.6 221.7,200.6 222.1,200.7 222.4,200.8 222.6,200.7 223.1,201 223.5,201 223.7,201.4 224.1,201.7 224.5,201.4 224.8,201.1 225.2,202 225.5,201.9 226,201.9 226.3,201.5 226.6,202.1 226.8,201.4 227.1,201.7 227.5,201.3 227.9,201.4 228.2,202.1 228.7,202.4 229,201.8 229.4,201.5 229.8,201.8 230.2,201.4 230.5,201.8 230.9,201.2 231.2,201.3 231.6,201 231.9,201.2 232.2,201.6 232.5,201.6 232.9,200.9 233.2,201.1 233.5,200.8 233.8,200.5 234.2,201.2 234.4,200.7 234.6,200.5 234.9,200.5 235.2,200.8 235.6,200 236,200.2 236.3,200.7 236.6,199.8 237,200.2 237.4,199.6 237.8,200 238.3,200.3 238.8,199.3 239.1,199.3 239.6,199.1 239.9,199 240.3,199.9 240.6,198.9 241,198.8 241.3,198.7 241.7,198.6 242.1,198.8 242.6,198.7 242.9,199 243.1,198.8 243.6,198.6 244,198.3 244.2,198.3 244.6,198.5 245,197.9 245.3,197.8 245.7,198.2 246,198 246.4,198.2 246.8,197.4 247.2,197.9 247.5,197.7 247.8,197.3 248.2,197.7 248.5,197.7 248.8,197.8 249.3,197.2 249.6,196.8 250,196.6 250.5,197.4 250.8,196.8 251.1,196.7 251.5,196.8 251.9,197.4 252.2,197.3 252.4,197 252.7,196.9 253,197.5 253.5,197.1 253.8,197.3 254.2,197.1 254.6,197.7 254.8,197.1 255.3,197.2 255.7,197.5 256,197.5 256.4,197.4 256.9,197.3 257.2,197.7 257.4,197.4 257.8,198.3 258.2,198 258.6,197.5 258.8,197.7 259.3,197.7 259.8,198.6 260.1,198.4 260.5,197.9 260.9,197.9 261.2,198 261.6,198.2 262.1,198.1 262.3,198.7 262.7,198.9 263.1,198.9 263.5,199 263.8,198.4 264.2,198.7 264.6,198.7 264.9,198.2 265.3,199 265.8,198.4 266.1,199.2 266.4,198.3 266.8,199.2 267.2,198.9 267.5,199.1 267.7,199.2 268,199 268.3,198.5 268.8,198.9 269.2,198.9 269.6,198.7 270,198.9 270.3,198.9 270.7,198.9 271,199.3 271.2,198.8 271.5,199.3 271.9,199.4 272.1,199.6 272.5,199.8 272.8,199.3 273.1,199.1 273.6,199.9 273.9,200.1 274.1,199.6 274.6,199.2 275,200 275.3,199.3 275.7,199.3 276,199.3 276.2,199.7 276.5,199.9 276.7,199.4 277.2,199.9 277.5,200 277.8,199.6 278,199.6 278.3,200 278.6,199.9 278.9,199.9 279.3,200.3 279.7,200.2 280.1,200.5 280.6,199.9 281,200.2 281.3,200.1 281.7,199.9 282,200.4 282.4,200 282.7,200.5 283.1,200.3 283.4,200.6 283.8,200.3 284.1,200.2 284.6,200.3 285.1,200.5 285.3,200.7 285.7,200.4 286,200.6 286.2,200.4 286.7,200.9 287.1,200.5 287.5,200.6 287.8,201.4 288.1,200.6 288.4,200.9 288.9,200.7 289.3,200.7 289.5,201.7 289.8,201 290.2,201.4 290.6,200.9 291,201.2 291.4,201.4 291.6,201.7 292,201.1 292.2,202 292.5,201.2 292.9,201.5 293.4,201.2 293.8,201.2 294.1,201.6 294.5,201.3 294.9,201.9 295.2,201.3 295.4,201.9 295.8,201.9 296.1,201.9 296.5,202.1 296.8,202 297.2,202.3 297.4,201.7 297.7,202.4 298.2,201.6 298.6,201.4 299.1,201.5 299.3,201.7 299.6,201.6 299.9,201.3 300.2,201.4 300.6,201.5 300.9,202.1 301.2,201.7 301.4,201.7 301.8,201.2 302,201.6 302.4,201.2 302.9,201.2 303.1,201.3 303.6,201.7 304,201.7 304.3,201.1 304.6,201.9 305,201 305.4,201.7 305.8,201.5 306.2,201.1 306.6,201.2 306.8,201.3 307.1,201.1 307.4,201.3 307.6,201 307.8,200.8 308.1,200.9 308.4,201.1 308.7,200.8 309.2,200.8 309.5,201.7 309.9,200.7 310.1,200.7 310.5,201.2 310.8,200.7 311.3,200.7 311.7,200.7 312.2,200.8 312.6,201.2 313,200.5 313.2,201.5 313.7,200.6 314.2,200.5 314.6,201.2 315,201.1 315.4,200.5 315.7,201.3 316.1,200.3 316.5,200.8 316.8,200.4 317.1,200.7 317.5,200.6 317.8,201.1 318,200.2 318.5,200.5 318.8,200.6 319.1,200.1 319.5,200.3 319.8,200.1 320.1,199.3 320.4,198.7 320.6,198.7 320.9,198 321.2,198 321.7,198.8 322.1,198.1 322.5,198.4 322.8,198.5 323.2,198.5 323.5,198.9 323.9,199.6 324.3,199.5 324.5,199.2 324.7,199.2 325,199.9 325.4,199.9 325.9,199.5 326.1,199.9 326.6,200.5 327,200.1 327.3,200.1 327.5,200.5 327.8,200.7 328.2,200.9 328.5,201.7 328.9,201.5 329.3,202.4 329.8,202.5 330,202.4 330.3,202.6 330.7,203.4 331.2,203.5 331.5,204.1 331.7,204.4 332.2,205.2 332.4,204.8 332.9,205 333.1,205.4 333.3,205.5 333.6,206.3 333.8,205.8 334.2,206.1 334.5,207.2 334.7,207 335.2,207.3 335.2,209.2 334.7,209 334.5,208.6 334.2,208.8 333.8,208.3 333.6,208.2 333.3,207.5 333.1,207.9 332.9,207.4 332.4,207.6 332.2,207.5 331.7,206.4 331.5,206.9 331.2,206.8 330.7,206.5 330.3,205.3 330,205.9 329.8,205.9 329.3,205.6 328.9,204.7 328.5,204.1 328.2,204.1 327.8,204.5 327.5,204.2 327.3,203.8 327,203.7 326.6,203.8 326.1,203.5 325.9,203.5 325.4,202.9 325,202.6 324.7,202.5 324.5,203 324.3,203.2 323.9,203 323.5,202.4 323.2,202.8 322.8,202.1 322.5,202.6 322.1,202.4 321.7,202 321.2,202 320.9,201.2 320.6,201.9 320.4,202.3 320.1,202.2 319.8,201.8 319.5,202.5 319.1,202.5 318.8,202.7 318.5,202.6 318,202.4 317.8,202.9 317.5,202.7 317.1,202.6 316.8,202.7 316.5,202.9 316.1,202.3 315.7,202.3 315.4,202.8 315,202.9 314.6,202.8 314.2,202.8 313.7,202.3 313.2,203 313,202.7 312.6,202.9 312.2,203.1 311.7,202.8 311.3,203.2 310.8,202.6 310.5,203.2 310.1,203.3 309.9,202.3 309.5,203.2 309.2,203.3 308.7,202.6 308.4,202.6 308.1,203.2 307.8,202.9 307.6,203.4 307.4,203 307.1,203.2 306.8,202.9 306.6,203.3 306.2,203.4 305.8,202.6 305.4,203 305,203.5 304.6,203 304.3,203.3 304,203.5 303.6,202.7 303.1,203.4 302.9,202.8 302.4,203.3 302,203.4 301.8,203.6 301.4,203.2 301.2,203.3 300.9,203.7 300.6,202.8 300.2,203.3 299.9,203.5 299.6,203.6 299.3,203.7 299.1,203.8 298.6,203.2 298.2,203.6 297.7,203.6 297.4,203.6 297.2,203.9 296.8,203.7 296.5,203.4 296.1,203.7 295.8,203.2 295.4,203.3 295.2,203.1 294.9,203.6 294.5,203.5 294.1,203.6 293.8,202.9 293.4,203 292.9,203.5 292.5,203.4 292.2,203.1 292,202.6 291.6,203.4 291.4,202.6 291,203.1 290.6,202.9 290.2,203.1 289.8,202.8 289.5,202.7 289.3,202.4 288.9,202.6 288.4,203.1 288.1,203 287.8,202.6 287.5,202.9 287.1,202.1 286.7,202.6 286.2,202.4 286,202.8 285.7,202.4 285.3,202.3 285.1,202.6 284.6,202.3 284.1,201.9 283.8,202.2 283.4,202.2 283.1,201.9 282.7,202.6 282.4,202.4 282,201.8 281.7,202.2 281.3,202.4 281,201.7 280.6,202.3 280.1,201.8 279.7,201.8 279.3,202.2 278.9,201.6 278.6,202.2 278.3,201.5 278,202.2 277.8,201.8 277.5,202 277.2,202.1 276.7,202 276.5,202 276.2,202 276,201.4 275.7,201.8 275.3,201.9 275,201.9 274.6,201.4 274.1,201.8 273.9,201.4 273.6,201.7 273.1,201 272.8,201.7 272.5,201.6 272.1,201.6 271.9,201 271.5,201.1 271.2,201 271,201.2 270.7,201.4 270.3,200.9 270,200.6 269.6,200.6 269.2,201 268.8,201.3 268.3,200.9 268,201.1 267.7,200.5 267.5,201 267.2,200.8 266.8,200.2 266.4,201 266.1,200.5 265.8,200.1 265.3,201 264.9,200.4 264.6,200.7 264.2,200.8 263.8,200.8 263.5,200 263.1,200.8 262.7,200.3 262.3,200.7 262.1,200.7 261.6,199.9 261.2,199.8 260.9,200.1 260.5,200.3 260.1,199.8 259.8,200.4 259.3,200.4 258.8,200.3 258.6,199.6 258.2,200.3 257.8,199.9 257.4,200.2 257.2,199.6 256.9,199.9 256.4,199.3 256,200.1 255.7,200 255.3,200.1 254.8,199.1 254.6,199.9 254.2,199.5 253.8,199.5 253.5,198.9 253,199.8 252.7,199 252.4,199.8 252.2,199.4 251.9,199.5 251.5,199.7 251.1,199.7 250.8,199.6 250.5,199.3 250,199.6 249.6,199.1 249.3,199.3 248.8,199.4 248.5,199.9 248.2,199.8 247.8,199.6 247.5,199.8 247.2,199.8 246.8,200 246.4,199.9 246,199.7 245.7,200.5 245.3,200.1 245,200.8 244.6,200.9 244.2,201 244,200.8 243.6,201.2 243.1,201.3 242.9,201.3 242.6,201 242.1,201.6 241.7,201.4 241.3,201.7 241,201.7 240.6,201.4 240.3,201.9 239.9,201.8 239.6,201.2 239.1,202 238.8,201.8 238.3,202.5 237.8,202.6 237.4,202.1 237,202.4 236.6,202.6 236.3,202 236,202.4 235.6,203.1 235.2,203.3 234.9,202.9 234.6,203.2 234.4,203.4 234.2,203.5 233.8,203.5 233.5,203.2 233.2,203 232.9,203.5 232.5,203.9 232.2,203.1 231.9,203.9 231.6,203.9 231.2,204.1 230.9,204.3 230.5,204.2 230.2,203.6 229.8,204.6 229.4,204.5 229,204.6 228.7,204.4 228.2,204.5 227.9,204.4 227.5,204.4 227.1,204 226.8,204.2 226.6,203.7 226.3,203.3 226,203.5 225.5,203.9 225.2,204 224.8,204 224.5,203.6 224.1,203.3 223.7,203.9 223.5,203.6 223.1,202.9 222.6,202.8 222.4,203.1 222.1,202.8 221.7,203.6 221.2,203.5 220.8,203.1 220.3,202.8 219.9,202.6 219.5,203.3 219.3,203 218.9,202.9 218.5,202.2 218.1,202.8 217.7,203 217.4,202.9 217,202.7 216.8,202.2 216.3,202.8 216,202.5 215.5,202.1 215.1,202.2 214.6,201.6 214.3,201.7 213.9,202.4 213.5,202 213.3,202.3 213,201.6 212.6,202 212.3,201.8 212,202 211.7,201.9 211.3,201.2 210.9,202 210.5,201.2 210.2,201.6 209.7,201.8 209.5,201.2 209.1,201.7 208.7,201.6 208.3,201.6 208,201.5 207.6,201.3 207.2,201.3 206.9,201 206.5,201.3 206.2,201.1 206,201.2 205.8,201 205.4,200.7 205.1,200.3 204.8,200.8 204.5,200.3 204.3,200.5 204,200.9 203.8,200.4 203.5,200.3 203.1,199.9 202.6,200.6 202.3,200 202,200.5 201.5,199.9 201.2,199.7 200.9,200.2 200.6,200.1 200.1,200 199.6,199.4 199.3,200.2 199,199.9 198.7,199.5 198.4,199.9 198.2,199.8 197.8,199.6 197.4,199 197,199.3 196.5,198.9 196.1,198.6 195.6,198.7 195.2,199.4 194.8,199.1 194.4,199.4 194.2,200.3 193.9,200.2 193.5,200.4 193.2,201.5 192.9,201.5 192.4,202.2 192.1,201.6 191.8,201.8 191.5,201.5 191.3,201 191,200.5 190.7,200.5 190.3,199.9 190,200.4 189.7,199.7 189.4,199.3 189.1,199.5 188.6,199.5 188.4,199.5 188.1,199.7 187.7,200.7 187.2,201.6 186.9,201.8 186.6,202.5 186.3,202.6 185.9,202.2 185.4,201.9 185.2,200.8 184.8,201 184.6,200.9 184.2,200.1 183.9,200.4 183.5,199.5 183.2,199.6 182.8,199.3 182.4,199.1 181.9,200 181.5,200.2 181,200.8 180.5,201 180.2,201 179.8,201.7 179.4,200.6 179,200.1 178.7,200.2 178.3,200 178.1,198.8 177.7,199.2 177.4,198 176.9,198.2 176.5,198.7 176.3,198.6 175.9,199.1 175.5,199.7 175.3,199.9 175,199.4 174.7,200.5 174.5,200.7 174,201 173.7,201.4 173.4,200.4 173.1,201.2 172.7,201 172.5,200.7 172.1,200.6 171.8,200.6 171.5,200.4 171.2,200.3 171,200 170.6,200 170.2,199.9 169.9,199.6 169.7,199 169.4,198.9 168.9,198.8 168.5,198.9 168.1,199.7 167.9,199.6 167.6,199 167.2,199.2 166.8,198.7 166.3,199.2 166,199.4 165.6,199.3 165.2,199.3 164.9,198.8 164.7,199.3 164.3,199.4 164.1,199.2 163.7,199.4 163.4,198.8 163,199.4 162.6,199.3 162.2,198.6 161.8,198.9 161.4,199.2 161,199.1 160.8,199 160.4,198.8 160,199.3 159.5,199.1 159.2,198.4 159,198.2 158.6,198.8 158.3,198.7 157.8,197.9 157.4,198.4 156.9,198.2 156.5,198.1 156,198 155.6,197.5 155.1,197.3 154.9,197.4 154.4,197.2 154,197.2 153.8,197.2 153.5,197 153.3,196.1 152.9,196.4 152.6,196.6 152.1,196.7 151.8,196.5 151.6,196.5 151.4,196.1 151,195.9 150.5,195.9 150.2,195.1 149.7,195.9 149.4,195.8 149,195.8 148.7,195.8 148.3,195.4 147.9,195.6 147.5,195.3 147.3,195 147,195.2 146.7,195.3 146.4,195.1 146,195.1 145.5,194.9 145.1,194.4 144.7,195.1 144.5,195 144.1,194.6 143.6,195.2 143.3,195 142.8,195.2 142.5,194.8 142.2,195.3 141.8,194.5 141.4,195.2 141.1,195.2 140.6,195.3 140.2,195.3 139.9,194.5 139.5,195.3 139.1,194.4 138.8,194.6 138.6,194.9 138.2,194.9 137.9,195 137.7,195.1 137.3,195.4 136.9,195.4 136.7,195.3 136.4,195.1 135.9,195.4 135.6,195.3 135.3,195 134.9,195.1 134.5,195.5 134.2,195.1 133.9,195.4 133.5,195.4 133.2,195.4 132.7,195.4 132.4,195.4 132.1,195.5 131.8,194.8 131.4,194.6 131,194.7 130.7,195.4 130.5,194.9 130.1,195.1 129.8,195.6 129.4,195.7 129,195.8 128.5,195.8 128.1,195.5 127.7,195.9 127.3,195.2 127,195.8 126.6,196.2 126.3,196.1 125.8,196.2 125.5,195.6 125.1,195.8 124.9,196.3 124.4,196.6 124.1,196.4 123.8,196.1 123.5,195.9 123.3,196.7 123,196.5Z" fill="#0000a0"/>
<path d="M118.3,211.2 119.5,204.8 121.5,198 123,193" fill="none" stroke="#0000a0" stroke-width="1.15" stroke-linejoin="round"/>
<path d="M123,193 123,195.2 123.3,191.5 123.6,197.2 123.9,191.4 124.3,196.3 124.6,192.8 124.9,195.8 125.3,192.4 125.5,195.3 125.9,191.4 126.2,195.2 126.5,192.2 126.8,194 127.2,192.3 127.4,195.5 127.7,191.8 127.9,195.5 128.2,192.8 128.5,194.8 128.8,191.6 129.1,195 129.4,192.3 129.7,194.2 129.9,192.3 130.3,195.8 130.6,193.1 130.8,195.3 131.1,191.2 131.4,194.2 131.8,191.4 132.1,194 132.4,191.7 132.7,193.9 133.1,191.5 133.3,195.2 133.6,190.8 133.8,195.6 134.2,192 134.4,193.6 134.7,191.7 135.1,195.7 135.3,191.8 135.7,195.1 136,192.1 136.4,194.1 136.6,191.2 136.9,194.9 137.2,191.9 137.4,194.1 137.7,192.3 138,194.8 138.4,191.7 138.6,194.2 139,190.6 139.3,195.3 139.5,191.3 139.9,194.3 140.2,190.6 140.5,194.5 140.7,192.5 141,194.4 141.3,191.5 141.7,194.1 142.1,191.3 142.3,195.2 142.7,192.2 143,194.4 143.3,190.9 143.6,194 143.9,191.2 144.3,193.8 144.7,192.2 144.9,193.7 145.2,191.6 145.5,196 145.9,191.4 146.2,194.5 146.6,192.3 146.9,194.8 147.2,191.7 147.4,193.8 147.7,192.9 148,194.5 148.2,191.5 148.6,196.1 148.9,190.9 149.2,196.4 149.5,191.7 149.7,195.8 150.1,191.5 150.3,194.6 150.6,192.2 150.9,196.2 151.2,192.2 151.6,194.9 151.9,192.7 152.1,195.3 152.4,194.1 152.7,195.1 153,192.1 153.4,197.1 153.6,192.6 154,197.1 154.2,193.5 154.5,197.8 154.9,193.6 155.2,196.8 155.6,194.8 155.9,197.9 156.2,194.6 156.4,197.2 156.7,193.6 157.1,197.2 157.3,195.5 157.6,197.3 157.8,195.4 158.1,197.9 158.4,194.9 158.7,198.7 159.1,194.8 159.4,199 159.8,195.4 160.1,198.8 160.4,195.8 160.7,197.9 161,196 161.2,197.9 161.5,196.5 161.8,199 162,196.1 162.3,198.5 162.6,196.1 162.9,198.3 163.1,195.2 163.4,199.8 163.7,197.3 163.9,199.8 164.2,196.6 164.5,199.5 164.8,196.8 165.2,199.8 165.5,196.5 165.7,198.3 166.1,196.6 166.4,199.4 166.7,197.6 167,198.6 167.3,197.3 167.5,198.6 167.8,197 168,199.6 168.3,196.6 168.5,199.1 168.7,196.3 169,199.7 169.3,197.7 169.5,198.6 169.9,196.8 170.2,198.9 170.4,196.9 170.8,199.9 171.1,198.3 171.3,200.3 171.5,198.6 171.8,200.4 172.2,198.7 172.4,200.3 172.7,198.1 173.1,200.7 173.3,199 173.6,201.4 173.9,198.2 174.3,200.1 174.5,198 174.8,200.4 175.2,198.4 175.5,199.7 175.8,196.9 176.2,199.9 176.5,197 176.8,199 177.1,195.7 177.4,198.8 177.7,197.6 177.9,199.1 178.2,198 178.6,200.1 178.8,198.2 179.1,200.9 179.4,199.4 179.8,201.1 180.1,199.4 180.4,201.1 180.7,198.5 181.1,200.8 181.4,198.8 181.7,200.9 182.1,197.3 182.4,198.8 182.7,196.9 182.9,198.8 183.3,196.8 183.6,198.8 183.9,197 184.2,201.3 184.4,197.7 184.7,200.1 184.9,198.6 185.2,200.8 185.6,199.9 185.9,202.2 186.2,200.7 186.4,202.7 186.8,199.4 187.2,201.2 187.5,198.2 187.7,201.2 188,196.6 188.3,198.8 188.2,197.8 188.3,195.3 188.5,197.8 188.6,196.3 188.9,198.9 189.2,196.8 189.5,199.4 189.8,197.4 190,200.4 190.3,198.1 190.5,201 190.8,198.2 191.1,201.3 191.4,198.8 191.8,201.7 192.1,198.9 192.5,202.9 192.8,199.3 193.1,201.1 193.5,199.1 193.7,201.6 194,198.5 194.2,201.1 194.6,197.5 194.8,199.1 195.1,197.2 195.4,199 195.7,197 196,199.9 196.2,197.3 196.5,198.5 196.8,197.4 197.2,199.5 197.5,196.8 197.7,200.4 198.1,197 198.3,199.6 198.6,198.6 199,199.3 199.3,197.3 199.6,200.1 199.9,198.3 200.2,200.6 200.5,198.3 200.9,199.9 201.2,198.4 201.5,199.9 201.8,198.3 202.1,200.4 202.3,198.7 202.7,200.8 203,198.6 203.4,200.7 203.7,199.2 203.9,201 204.2,198.9 204.6,201 204.9,198.9 205.2,200.7 205.5,199.1 205.8,201 206.1,199.5 206.3,202 206.6,198.9 206.9,201.3 207.2,198.3 207.5,200.7 207.7,199.2 208.1,201.4 208.3,199.5 208.6,201.2 208.9,200.3 209.2,201.5 209.5,199.2 209.8,202 210.1,199.5 210.4,201.8 210.7,198.8 211,201.8 211.3,199.6 211.6,202.8 211.9,200.5 212.2,203 212.5,200.3 212.7,201.4 213.1,199.7 213.5,201.3 213.7,199.7 214,201.7 214.2,200.3 214.6,202.4 214.9,200.7 215.3,202.6 215.5,199.2 215.8,202.1 216.2,199.7 216.5,202.2 216.8,199.4 217.2,203 217.5,201.4 217.8,202.1 218.1,200.4 218.5,202.7 218.8,200.3 219.1,202.3 219.5,201.3 219.8,202.4 220,200.7 220.4,202.1 220.7,200.5 220.9,202.8 221.2,200.8 221.5,202.4 221.8,200.6 222.2,203.5 222.4,201.3 222.6,202.6 223,201.2 223.2,204.1 223.6,200.5 223.9,202.5 224.2,201.9 224.6,204.5 225,201.6 225.2,202.8 225.5,202.2 225.8,204.2 226.1,201.4 226.4,204.3 226.8,201.4 227.1,203 227.4,201.1 227.7,204.2 228,202.2 228.3,204.5 228.7,201 229,204.4 229.3,202.3 229.6,204.7 229.9,200.9 230.2,204 230.4,200.7 230.7,203.8 231,201.8 231.2,203.6 231.6,202 231.9,203.9 232.2,200.8 232.5,203.5 232.8,201.4 233.1,203.7 233.4,200 233.8,203.5 234.1,200.4 234.4,203.2 234.6,200.5 234.8,202.8 235.2,199.7 235.4,203 235.7,201 235.9,202.2 236.2,200.1 236.4,203.7 236.7,200.6 236.9,202.1 237.1,200 237.4,202.1 237.8,200.4 238,201.5 238.4,199.4 238.7,201.8 239,200 239.2,202.1 239.5,200 239.8,202.1 240,198.3 240.4,201 240.7,199.1 241.1,201.6 241.3,199.1 241.6,201.8 241.9,198.6 242.3,201.4 242.7,198.1 243.1,200.5 243.4,198.3 243.7,200.8 244.1,198.1 244.4,200.4 244.7,198.9 244.9,200.4 245.1,198.3 245.4,200.2 245.7,198 246.1,200.4 246.3,198.6 246.6,199.7 246.9,197.9 247.2,199.8 247.5,198.2 247.9,199.8 248.2,197.2 248.6,199.9 248.8,197.4 249.1,199.6 249.4,197.6 249.7,200.2 250,196.9 250.4,198.4 250.6,196.5 250.8,199.6 251,197.9 251.3,198.9 251.6,196.2 251.8,198.5 252.1,196.5 252.4,199.8 252.7,197.2 253,199 253.4,197.2 253.8,200.7 254.1,197.2 254.5,200 254.7,197 255.1,200.2 255.4,197.6 255.8,199.5 256.1,197.9 256.4,200.2 256.7,197.3 256.9,199.8 257.2,196.6 257.4,200.1 257.7,198 258,199.7 258.3,197.5 258.6,199.7 259,197.8 259.4,200.1 259.6,198.5 259.8,200.7 260,198.9 260.3,200.7 260.7,198 261,199.7 261.4,198.4 261.6,200.6 262,199 262.3,200.6 262.7,198.1 262.9,200.8 263.3,198.1 263.6,201.3 263.9,198.8 264.2,200.7 264.5,199.2 264.8,200.3 265.1,198.2 265.5,200.8 265.8,199 266.1,200.5 266.5,198.5 266.9,201.1 267.2,198.8 267.5,201.1 267.9,198.5 268.2,201.3 268.6,199.6 268.8,200.9 269.1,199.3 269.4,200.6 269.8,198.8 270,200.3 270.3,199.2 270.6,200.3 270.9,199.1 271.1,201.2 271.3,199 271.6,201.3 272,199.8 272.2,202 272.4,200 272.7,201.1 272.9,199.1 273.2,201.5 273.5,199.4 273.7,201.9 274,199.3 274.3,201.7 274.6,199.8 275,201.7 275.2,199.7 275.5,201.5 275.7,199.7 276.1,202.7 276.3,200.4 276.6,202 277,199.4 277.3,201.2 277.6,200.3 278,202 278.3,199.1 278.5,202.2 278.8,200.1 279.2,202.6 279.4,200 279.8,202.2 280.1,199.2 280.3,203 280.6,199.8 280.8,202.3 281.1,199.6 281.4,203 281.7,200.5 282,202.3 282.3,200.7 282.6,202.5 283,199.7 283.3,201.6 283.5,200.2 283.8,202.5 284.2,201.1 284.5,202.6 284.8,200.7 285.1,202.6 285.5,201 285.7,201.9 285.9,200.7 286.2,202.4 286.6,201.2 286.9,202.9 287.2,200.7 287.6,202.4 288,201.6 288.3,203.4 288.6,201 288.9,202.3 289.1,200.9 289.4,202.4 289.8,200.8 290,204 290.3,200.9 290.6,203.2 290.9,200.8 291.3,202.8 291.6,200.3 291.8,202.5 292.2,202.1 292.4,203.4 292.8,202.2 293,203.2 293.4,200.6 293.8,202.8 294,200.8 294.4,202.9 294.6,202.3 294.9,204.3 295.2,202.1 295.5,203.7 295.8,201.5 296.1,203.7 296.5,201.3 296.8,203.9 297.1,202.2 297.4,203.6 297.7,201.2 298,203.8 298.2,201.8 298.4,204 298.7,202 299,203.3 299.4,202.2 299.7,203.3 300.1,201.4 300.4,204.2 300.8,201.5 301.1,202.7 301.3,201.5 301.6,203.6 301.9,202 302.3,203.6 302.6,201.7 302.9,203.5 303.3,201.1 303.6,203.6 303.9,201.1 304.2,203.5 304.6,201.4 304.8,203.4 305.1,201.2 305.4,202.9 305.7,202 306,204 306.3,201.7 306.5,203.4 306.8,200.8 307.1,204 307.4,201.4 307.7,202.4 308,201.9 308.4,203.3 308.6,201 308.8,202.6 309.2,200.7 309.5,202.3 309.8,200.1 310,203.1 310.3,200.5 310.5,203.1 310.9,201.1 311.2,202.5 311.5,200.7 311.9,203.5 312.1,199.9 312.4,203.6 312.7,201.1 312.9,203.5 313.1,200.6 313.4,203.1 313.7,200.9 314,202.7 314.3,200.4 314.7,201.9 314.9,200.6 315.2,203 315.4,199.6 315.7,202.4 315.9,200.1 316.3,202.4 316.6,200.4 316.8,202.6 317.2,200.4 317.4,203.6 317.7,200.6 318,202.9 318.2,200.6 318.6,202.1 318.9,200.7 319.3,202.8 319.6,200 320,202.5 320.3,198.8 320.5,200.9 320.9,198.7 321.3,200.4 321.2,200 321.3,197 321.4,200 321.5,199.6 321.8,203.1 322,199.7 322.3,201 322.6,198.8 322.9,201.4 323.2,199.8 323.5,202.9 323.7,198.3 324,202.8 324.3,199.7 324.6,203 324.8,198.7 325.1,203.5 325.4,201 325.6,203.5 326,200.6 326.3,203.3 326.6,200.2 327,204 327.3,200.9 327.5,204.4 327.8,200.5 328.1,204.1 328.4,202.5 328.7,205 329,201.7 329.3,204.4 329.6,202.9 329.8,205.6 330.1,202.9 330.5,205.6 330.7,203.3 331.1,206.5 331.4,203.8 331.7,207.2 332,203.5 332.3,207.7 332.7,205.2 333.1,206.8 333.4,205.6 333.7,207.7 334,206.4 334.3,208.5 334.5,206.5 334.7,208.5 335.1,207 335.3,211" fill="none" stroke="#0000a0" stroke-width="0.8" stroke-linejoin="round"/>
<path d="M24,263.5 122.1,263.5" fill="none" stroke="#8282d4" stroke-width="1.0" />
<path d="M333.6,263.6 531.6,263.6" fill="none" stroke="#8282d4" stroke-width="1.0" />
<path d="M122.5,228.3 122.8,227.8 123.2,227.9 123.6,227.7 124.1,227.6 124.5,227.9 124.9,228.5 125.2,227.9 125.6,227.7 125.9,228.3 126.2,227.8 126.5,227.8 127,228.6 127.4,227.7 127.7,227.7 128.1,227.8 128.4,227.7 128.6,228.5 128.8,227.9 129.1,227.7 129.5,228.3 129.8,227.7 130.1,227.8 130.4,227.9 130.8,227.9 131.1,227.7 131.5,227.8 132,228.3 132.4,227.9 132.7,227.8 133.2,228.4 133.7,228.1 134.2,227.8 134.4,228.1 134.6,228.3 134.9,227.9 135.3,228.8 135.7,228 136,228.2 136.3,227.9 136.7,228.2 137,228.1 137.4,228.6 137.6,228.7 137.9,228 138.2,228.5 138.5,228 138.8,228.9 139.1,228.1 139.5,228.7 139.9,228.3 140.3,228.8 140.8,228.1 141.2,228.2 141.5,228.7 141.8,228.9 142.2,229 142.5,228.2 143,228.3 143.4,229 143.7,228.2 144,228.5 144.2,228.8 144.4,228.3 144.9,229.1 145.2,228.3 145.5,228.9 145.8,228.9 146.1,229 146.5,228.8 146.9,229 147.1,229.1 147.5,228.4 147.9,228.5 148.3,228.9 148.7,228.5 148.9,228.5 149.3,228.5 149.6,228.8 150.1,228.5 150.4,228.7 150.9,229.2 151.2,228.6 151.6,229.2 152,228.9 152.4,229.3 152.8,228.8 153.1,228.7 153.5,229.4 153.8,228.7 154.2,229.1 154.6,228.9 154.9,229.5 155.3,229.5 155.8,228.8 156,229.3 156.5,229.5 156.9,229.6 157.2,229.1 157.5,229.1 158,228.9 158.3,229 158.7,229.1 159.2,229.9 159.4,230 159.7,229.2 160,229.9 160.4,229.9 160.7,229.8 161.1,228.9 161.6,229.4 162.1,228.8 162.4,228.7 162.7,229 163.1,229.1 163.5,229 163.8,228.5 164.3,228.4 164.7,228.4 165.1,229.2 165.4,229 165.8,228.9 166.1,228.3 166.6,228.9 166.8,228.9 167,228.7 167.2,228.1 167.7,228.6 168.1,228.3 168.3,227.8 168.8,227.7 169,227.7 169.4,228.5 169.9,227.5 170.3,227.5 170.8,228.2 171,227.4 171.2,227.3 171.7,227.3 172.1,228 172.4,227.7 172.6,227.3 173.1,227.5 173.6,227 174,227.7 174.3,226.9 174.7,227.2 175.1,227.6 175.5,227.4 175.9,227.4 176.3,226.9 176.5,227.2 177,227.1 177.4,226.4 177.8,226.5 178,226.4 178.4,227.1 178.9,227.1 179.3,226.3 179.5,226.9 179.8,226.4 180.2,227.1 180.6,226.6 180.8,226.4 181.2,226.8 181.5,226.4 181.8,226.7 182.1,226.9 182.5,226.5 182.7,226.8 183.1,227.1 183.5,226.7 183.8,227.3 184.1,227.3 184.4,226.7 184.7,226.7 184.9,226.7 185.3,226.8 185.6,226.9 185.9,226.8 186.4,227 186.7,227 186.9,227.7 187.3,227.3 187.6,227 188.1,227 188.4,227 188.7,227 189,227 189.3,227 189.8,227.8 190.2,227.3 190.6,226.9 191,226.8 191.3,227.1 191.7,227.2 192,226.8 192.3,227.4 192.7,227.3 193.2,226.7 193.6,227.3 193.9,226.6 194.1,226.6 194.5,226.8 194.8,227.1 195.3,227.1 195.7,226.7 196,227.4 196.4,226.5 196.7,226.5 197.1,227 197.4,227.2 197.7,227.2 198,226.4 198.4,227 198.7,227.1 199.1,226.4 199.4,227.1 199.6,226.3 200.1,226.6 200.4,226.3 200.6,226.2 200.9,226.7 201.3,226.7 201.7,226.2 202,227 202.2,226.6 202.5,226.9 202.7,226.3 203,226.7 203.4,227.3 203.7,226.8 204.1,226.4 204.6,226.9 205,226.6 205.4,227.3 205.9,226.7 206.3,226.6 206.5,227.5 207,226.8 207.3,227.1 207.8,227.5 208.2,226.8 208.5,226.8 208.8,227.6 209.1,227.7 209.5,227.3 210,227.8 210.4,227.2 210.9,227.6 211.2,227 211.7,227.6 211.9,227.1 212.3,227.3 212.7,227.4 213,227.8 213.5,227.5 213.8,227.4 214.3,227.9 214.7,228.3 215.2,227.5 215.4,227.6 215.8,227.4 216.2,227.5 216.5,227.8 217,228 217.3,227.8 217.8,227.8 218.2,227.7 218.6,228.4 218.8,227.7 219.1,227.7 219.4,228.1 219.9,227.8 220.2,228.1 220.7,228.1 221,228.5 221.3,228.6 221.7,228.1 222.2,228.4 222.4,228.7 222.7,228 223.1,229 223.5,228.1 223.9,228.2 224.3,228.1 224.6,228.2 224.9,228.3 225.3,228.5 225.5,228.3 225.9,228.5 226.1,228.3 226.5,228.9 227,228.7 227.2,229.1 227.7,228.4 228,228.4 228.5,228.5 228.9,228.8 229.1,228.9 229.5,228.6 230,228.7 230.3,229 230.7,228.6 231.1,229.1 231.3,229.7 231.8,228.9 232.2,228.8 232.6,228.9 232.9,228.8 233.1,228.9 233.5,229 234,229 234.2,229.5 234.4,229.1 234.7,229.5 235.2,229.6 235.5,229 235.8,228.9 236.1,229 236.4,229.7 236.8,229.6 237,229 237.4,228.9 237.7,229 238,229.1 238.4,229.1 238.7,229 239.2,229.3 239.5,228.8 239.9,228.7 240.2,228.9 240.7,229.5 240.9,228.8 241.3,228.9 241.6,229.1 241.8,228.6 242.2,229.1 242.4,229.1 242.9,228.5 243.4,228.4 243.8,229.2 244.1,228.5 244.3,229 244.6,228.4 244.9,228.5 245.2,229 245.6,229.1 245.8,228.5 246.2,229.2 246.7,228.3 246.9,228.4 247.4,228.5 247.6,228.4 247.8,228.6 248.2,228.1 248.4,228.1 248.7,228.9 249.2,228.8 249.5,228.2 249.8,228.3 250.1,228.4 250.5,228 251,228.2 251.4,227.8 251.8,228.6 252.2,227.7 252.6,228.3 253,227.9 253.5,228.3 253.7,227.6 254,227.8 254.3,227.5 254.6,227.6 255.1,227.8 255.3,227.8 255.7,227.3 256.2,228.2 256.5,227.3 257,228 257.2,227.1 257.7,227.5 258.1,227.2 258.3,227.3 258.6,227.1 258.9,227.2 259.4,226.9 259.6,227.7 260.1,226.8 260.5,227 260.8,226.8 261.2,226.8 261.6,226.9 261.8,226.6 262.1,226.8 262.4,226.5 262.7,227 262.9,227 263.2,226.9 263.7,226.5 264.1,226.3 264.4,226.3 264.7,226.8 265.1,227 265.5,226.7 265.9,226.4 266.3,226.4 266.8,227.3 267.1,226.5 267.4,226.8 267.8,227.2 268,227.3 268.3,226.6 268.6,227.3 269.1,226.8 269.3,226.7 269.5,227.5 269.9,226.8 270.2,226.8 270.7,227.1 271.1,227.6 271.3,227.5 271.8,227 272.1,227 272.5,227.9 272.9,227.1 273.2,227.2 273.5,227.3 274,227.2 274.3,227.3 274.7,227.4 275,228.2 275.3,227.3 275.7,227.6 276.1,227.5 276.6,228.4 276.9,228 277.2,227.8 277.6,228.4 278.1,228.1 278.6,228.3 278.8,227.8 279.2,227.7 279.5,227.8 279.9,227.8 280.4,228.4 280.6,228.7 281,227.9 281.5,228.2 281.7,228 282.1,228.9 282.4,229 282.7,228.1 283.2,228.6 283.6,228.2 284,228.8 284.5,229 284.9,228.6 285.3,228.4 285.5,229 285.9,228.8 286.2,228.9 286.7,228.9 287,229.4 287.5,228.6 287.9,228.6 288.2,229.2 288.5,228.7 288.8,229.3 289.2,228.4 289.6,228.8 289.8,228.4 290.1,228.6 290.5,228.6 290.9,228.6 291.1,228.8 291.5,228.2 291.8,228.6 292.2,228.1 292.5,228.7 292.8,228.9 293.2,228.2 293.6,228.6 293.9,228.7 294.3,228.6 294.7,227.8 295,227.8 295.2,228.6 295.6,227.8 296.1,228.3 296.3,227.7 296.6,228.2 296.9,227.9 297.2,227.7 297.6,227.7 297.9,227.8 298.1,227.6 298.4,227.3 298.8,228.1 299.2,227.3 299.5,227.6 299.8,227.4 300.2,227.5 300.5,227.4 300.8,227.1 301.2,227.5 301.6,227.2 302,227.1 302.4,227.6 302.7,226.9 303,227.7 303.4,227 303.8,227 304,226.7 304.2,226.7 304.7,226.6 305,226.6 305.5,226.8 305.8,226.8 306.2,226.4 306.5,227.3 306.8,226.4 307.2,227.1 307.7,226.3 307.9,226.4 308.3,226.9 308.7,226.4 308.9,226.1 309.3,226.1 309.8,226.6 310.1,226 310.6,226.9 310.8,226.8 311.2,225.9 311.4,226.1 311.6,226.2 312,225.8 312.4,226.1 312.8,225.6 313.2,226.4 313.5,226.4 313.8,225.5 314.1,226.4 314.4,226 314.7,225.7 315.2,225.6 315.6,225.9 315.8,225.6 316.1,225.8 316.5,225.9 316.8,225.3 317,225.4 317.3,225.2 317.5,225.8 317.8,225.3 318.1,225.3 318.4,225.3 318.9,225.2 319.2,225.1 319.5,225.9 319.8,224.9 320.3,225.6 320.6,225 320.9,224.8 321.1,225.7 321.4,225.4 321.8,225 322,225.2 322.2,224.9 322.7,225.4 323.1,224.6 323.5,225.2 323.9,225 324.3,225.4 324.6,224.9 325,225.3 325.2,225.5 325.5,225.8 325.9,226.1 326.2,226.2 326.5,226.5 326.9,227.6 327.3,227.8 327.6,227.4 327.9,227.6 328.2,227.9 328.4,228.7 328.8,229 329.1,229.6 329.4,229 329.7,229.1 330,229.4 330.2,230.1 330.6,230.6 331,231.6 331.3,231.9 331.7,233.9 332.1,234.4 332.6,235.6 332.9,236.3 333.3,237.4 333.5,238.3 333.5,242.7 333.3,241.6 332.9,241.8 332.6,240.6 332.1,240.3 331.7,239.5 331.3,238.7 331,238.1 330.6,237.4 330.2,236.6 330,236.1 329.7,236.1 329.4,236.2 329.1,235.4 328.8,235.5 328.4,234.8 328.2,235 327.9,234.5 327.6,234.2 327.3,233.3 326.9,233.6 326.5,233 326.2,233 325.9,232.4 325.5,232.1 325.2,231.1 325,231.7 324.6,231.5 324.3,231.2 323.9,231 323.5,230.9 323.1,231 322.7,230.8 322.2,231.1 322,230.8 321.8,231 321.4,231 321.1,231.2 320.9,230.8 320.6,230.4 320.3,231.4 319.8,230.5 319.5,231.4 319.2,230.7 318.9,230.8 318.4,231.5 318.1,231.6 317.8,230.8 317.5,231.5 317.3,231.6 317,231.3 316.8,231.6 316.5,231.7 316.1,231.6 315.8,231.8 315.6,230.8 315.2,231.4 314.7,231.1 314.4,231.1 314.1,231.8 313.8,232 313.5,232 313.2,232 312.8,232 312.4,232.1 312,231.3 311.6,232.1 311.4,231.5 311.2,231.9 310.8,231.9 310.6,232.4 310.1,232.4 309.8,231.6 309.3,232.4 308.9,232.4 308.7,232.4 308.3,232 307.9,232.6 307.7,232.1 307.2,232.6 306.8,232.6 306.5,232.5 306.2,232.7 305.8,232.9 305.5,232.9 305,232.8 304.7,233 304.2,232.7 304,232.9 303.8,232.4 303.4,233 303,233.2 302.7,233.2 302.4,233.1 302,233.4 301.6,233.2 301.2,233.3 300.8,232.9 300.5,232.8 300.2,232.7 299.8,232.7 299.5,233 299.2,233.6 298.8,233.7 298.4,233.6 298.1,233.4 297.9,233.5 297.6,233.6 297.2,233.7 296.9,233.3 296.6,233.8 296.3,234 296.1,233.7 295.6,233.8 295.2,233.9 295,233.8 294.7,233.6 294.3,233.8 293.9,234.1 293.6,234.3 293.2,234.3 292.8,234.4 292.5,233.6 292.2,234 291.8,234.5 291.5,234.5 291.1,234.2 290.9,234.5 290.5,234.7 290.1,234.4 289.8,234.7 289.6,234.7 289.2,234.7 288.8,234.3 288.5,234.5 288.2,234.6 287.9,234.9 287.5,235 287,234.5 286.7,234.9 286.2,234.2 285.9,234.1 285.5,234.8 285.3,234.2 284.9,234.7 284.5,234.3 284,233.8 283.6,234.5 283.2,234 282.7,234.3 282.4,234.4 282.1,233.8 281.7,234.3 281.5,233.8 281,234.2 280.6,234.2 280.4,234.2 279.9,234.2 279.5,233.3 279.2,233.4 278.8,234 278.6,233.2 278.1,234.1 277.6,233.6 277.2,233.7 276.9,234 276.6,233.9 276.1,233.9 275.7,233.4 275.3,233.1 275,233.6 274.7,232.8 274.3,233.4 274,233.5 273.5,233.6 273.2,233.5 272.9,233.6 272.5,233 272.1,233.5 271.8,232.7 271.3,232.5 271.1,233.4 270.7,233.3 270.2,233.1 269.9,232.7 269.5,233.2 269.3,232.8 269.1,232.5 268.6,232.7 268.3,233 268,233.1 267.8,232.9 267.4,232.9 267.1,232.2 266.8,232.3 266.3,232.6 265.9,232.9 265.5,232.8 265.1,231.9 264.7,232.8 264.4,231.9 264.1,232.9 263.7,232.9 263.2,232.4 262.9,233 262.7,233 262.4,232.5 262.1,232.4 261.8,233 261.6,232.8 261.2,232.7 260.8,233 260.5,232.5 260.1,232.3 259.6,233.3 259.4,233.3 258.9,233.4 258.6,233.3 258.3,233 258.1,233.4 257.7,233.5 257.2,232.9 257,233.2 256.5,233.6 256.2,233.1 255.7,233.4 255.3,232.9 255.1,233 254.6,233.1 254.3,233.5 254,233.4 253.7,233.2 253.5,233.9 253,233.9 252.6,233.9 252.2,234.1 251.8,233.4 251.4,234 251,233.3 250.5,234.2 250.1,233.9 249.8,233.3 249.5,233.9 249.2,234.3 248.7,234.3 248.4,234.3 248.2,234.5 247.8,234.4 247.6,234.1 247.4,234.1 246.9,233.9 246.7,234.5 246.2,234.3 245.8,234.6 245.6,234.3 245.2,234.6 244.9,234.7 244.6,234.5 244.3,234.8 244.1,234.8 243.8,234.8 243.4,234.9 242.9,234.8 242.4,234.8 242.2,234 241.8,235 241.6,234.6 241.3,234.4 240.9,234.4 240.7,235.1 240.2,235.1 239.9,234.9 239.5,235.1 239.2,235.1 238.7,234.6 238.4,234.6 238,235.3 237.7,235.4 237.4,234.9 237,234.9 236.8,235.2 236.4,235.1 236.1,235.4 235.8,235.3 235.5,234.7 235.2,235.6 234.7,235.6 234.4,235.5 234.2,234.8 234,235 233.5,235.3 233.1,235.2 232.9,234.6 232.6,235.3 232.2,235.3 231.8,234.5 231.3,235.2 231.1,235.2 230.7,234.9 230.3,234.6 230,234.7 229.5,234.7 229.1,234.3 228.9,234.9 228.5,234.9 228,234.7 227.7,234.3 227.2,233.9 227,234.5 226.5,234.3 226.1,234.4 225.9,234.2 225.5,234.1 225.3,234.3 224.9,234.3 224.6,234.4 224.3,233.9 223.9,234.3 223.5,233.7 223.1,233.4 222.7,234 222.4,234 222.2,234.2 221.7,233.4 221.3,233.6 221,233.1 220.7,233.8 220.2,233.7 219.9,233.3 219.4,233 219.1,233.8 218.8,233.8 218.6,233.7 218.2,233.4 217.8,233.1 217.3,232.9 217,233.6 216.5,233.2 216.2,232.6 215.8,233 215.4,233.4 215.2,233.2 214.7,232.8 214.3,233.2 213.8,232.7 213.5,232.5 213,233.1 212.7,232.7 212.3,233 211.9,232.8 211.7,232.9 211.2,232.4 210.9,232.8 210.4,232.5 210,232.4 209.5,232.3 209.1,232.6 208.8,232.5 208.5,231.6 208.2,232 207.8,232.3 207.3,232.4 207,232.3 206.5,232.3 206.3,232 205.9,231.8 205.4,232.3 205,232.1 204.6,231.9 204.1,232 203.7,231.8 203.4,231.2 203,231.3 202.7,232 202.5,231.1 202.2,231.1 202,231.9 201.7,231.7 201.3,231.7 200.9,231.7 200.6,231.6 200.4,231.6 200.1,232 199.6,231.3 199.4,231.1 199.1,231.3 198.7,231.8 198.4,232 198,231.6 197.7,232.3 197.4,231.5 197.1,232 196.7,232.3 196.4,232.4 196,232.7 195.7,232.6 195.3,232.7 194.8,232.5 194.5,232.5 194.1,233 193.9,232.9 193.6,233.1 193.2,232.3 192.7,232.9 192.3,232.5 192,232.4 191.7,232.6 191.3,232.9 191,233.4 190.6,232.9 190.2,233.6 189.8,233 189.3,233.5 189,233.6 188.7,233.7 188.4,233.2 188.1,234 187.6,234 187.3,233.3 186.9,233.6 186.7,233.2 186.4,233.2 185.9,233.7 185.6,233.3 185.3,233.1 184.9,233.8 184.7,233 184.4,233.3 184.1,233.7 183.8,233.6 183.5,233.3 183.1,233.8 182.7,233.3 182.5,233.7 182.1,233.8 181.8,233.7 181.5,233.8 181.2,233.7 180.8,233.6 180.6,233.3 180.2,233.3 179.8,233.3 179.5,233.5 179.3,233.6 178.9,233 178.4,233.3 178,233.4 177.8,233.8 177.4,233.1 177,233.8 176.5,233.5 176.3,233.7 175.9,233.1 175.5,233.8 175.1,233.3 174.7,233.5 174.3,233.4 174,233.5 173.6,234.2 173.1,233.3 172.6,234.3 172.4,234.1 172.1,234.3 171.7,234.4 171.2,233.6 171,234.1 170.8,234 170.3,234.3 169.9,234.3 169.4,234.6 169,233.9 168.8,234.5 168.3,234.8 168.1,234 167.7,234.1 167.2,234.6 167,234.2 166.8,234.2 166.6,234.6 166.1,234.9 165.8,234.2 165.4,234.5 165.1,234.7 164.7,234.6 164.3,235.2 163.8,234.3 163.5,235.2 163.1,235.1 162.7,234.4 162.4,235.1 162.1,235.1 161.6,235 161.1,234.8 160.7,235.2 160.4,235 160,234.9 159.7,235.5 159.4,234.8 159.2,234.5 158.7,234.8 158.3,235.4 158,235.1 157.5,234.7 157.2,234.8 156.9,235.2 156.5,235.2 156,235.1 155.8,234.6 155.3,234.9 154.9,235 154.6,234.1 154.2,234.9 153.8,234.8 153.5,234.2 153.1,234.3 152.8,234.4 152.4,234.6 152,234.4 151.6,234.1 151.2,234 150.9,233.7 150.4,234.4 150.1,233.9 149.6,234.3 149.3,234.3 148.9,233.6 148.7,234.3 148.3,234.2 147.9,234.2 147.5,234.2 147.1,234.1 146.9,233.7 146.5,233.7 146.1,234.2 145.8,234.2 145.5,233.8 145.2,234.2 144.9,234.1 144.4,233.6 144.2,234 144,234.1 143.7,233.5 143.4,233.6 143,233.2 142.5,234.1 142.2,233.9 141.8,233.3 141.5,234.1 141.2,233.4 140.8,233.3 140.3,234 139.9,233.8 139.5,234.1 139.1,234.1 138.8,234 138.5,233.7 138.2,234 137.9,233.4 137.6,233.6 137.4,233.4 137,233.4 136.7,233.9 136.3,233.4 136,234 135.7,234 135.3,233.6 134.9,233 134.6,233.6 134.4,233.8 134.2,233.4 133.7,233.9 133.2,234 132.7,233.8 132.4,233.7 132,233.8 131.5,233.8 131.1,233.9 130.8,233.1 130.4,233.4 130.1,233.3 129.8,233.8 129.5,233.4 129.1,233.9 128.8,233.4 128.6,233.1 128.4,233.2 128.1,233.5 127.7,233.8 127.4,233.7 127,233.9 126.5,233 126.2,233.8 125.9,233.3 125.6,233.7 125.2,233.7 124.9,233.8 124.5,233.8 124.1,233 123.6,233.5 123.2,233.7 122.8,233 122.5,232.8Z" fill="#ff0000"/>
<path d="M122.2,263.5 122.2,240 122.5,230" fill="none" stroke="#ff0000" stroke-width="1.15" stroke-linejoin="round"/>
<path d="M122.5,230 122.5,233.7 122.7,228 123.1,232 123.2,230.7 123.4,242.2 123.6,230.7 123.5,228.5 123.8,233.6 124.1,230.1 124.5,233.7 124.8,227.6 125.2,234.2 125.4,227.8 125.8,233.2 125.8,230.8 125.9,240 126.1,230.8 126.2,228.2 126.1,230.8 126.3,223.4 126.5,230.8 126.6,231.3 126.8,230.1 127.1,231.8 127,230.8 127.2,243.8 127.4,230.8 127.3,230.1 127.7,231.9 128.1,230 128.3,231.9 128.2,230.8 128.4,240.5 128.6,230.8 128.6,228.8 128.9,235.8 129.1,227.9 129.5,232.8 129.8,228.8 130.1,234.4 130.3,230.8 130.5,240.5 130.7,230.8 130.5,228.4 130.8,232.3 131.1,229.1 131.4,236.1 131.8,228.5 132,232.3 132.4,226.9 132.7,233.4 133.1,230.1 133.4,233 133.8,229.4 134.1,233.3 134.1,230.9 134.2,240.5 134.4,230.9 134.4,228.7 134.7,233.4 134.9,228.5 135.2,234.1 135.5,227.4 135.7,236 136,227.9 136.3,233.7 136.5,228.6 136.9,232.8 137.2,229.4 137.4,232.9 137.7,228.1 138,233.8 138.4,229.2 138.7,234.2 139.1,228 139.4,234.9 139.7,228.3 140,233.7 140.3,228.4 140.6,233.5 141,229.6 141.3,235.1 141.7,228.1 142.1,234.8 142.4,228.3 142.7,234.5 143,228.2 143.3,234.7 143.6,228.7 144,234.1 144.2,228.5 144.5,235.6 144.8,229.4 145,234.6 145.4,228.4 145.7,232.7 146,229.5 146.3,231.9 146.7,229 146.9,236 147.2,226.7 147.5,235 147.7,230.8 148.1,234.2 148.4,228.1 148.7,232.8 149.1,228.6 149.4,232.7 149.7,227.4 149.9,235.8 150.1,227.6 150.5,232.4 150.8,226.7 151,234.3 151.3,228.9 151.6,234 152,229 152.3,234.5 152.6,227.6 152.9,234.6 153.2,229.9 153.5,235.9 153.8,228.9 154,232.8 154.3,230.5 154.6,236.5 154.9,229.6 155.2,233.4 155.4,228.6 155.7,234.2 156,231.1 156.4,237.1 156.6,229.6 156.9,234.5 157.3,228.9 157.5,234.7 157.9,229.5 158.2,234.6 158.5,228.9 158.8,234.7 159.2,228.5 159.4,236.2 159.8,228.9 160,234.4 160.3,227.8 160.7,235.6 161,229.5 161.3,234.2 161.6,231.7 161.9,235.7 162.1,230.1 162.4,233.4 162.7,228.7 163,234.3 163.3,229.7 163.7,236.4 163.9,228 164.2,232.9 164.5,229.4 164.8,235.1 165.1,227.4 165.4,235.6 165.7,228.2 165.9,235.7 166.2,229.3 166.4,232.5 166.7,228.8 166.9,235.3 167.3,226 167.7,233.4 167.9,226.2 168.2,234.7 168.5,228.1 168.7,234.6 169.1,227.5 169.4,233.4 169.7,230 169.9,232.7 170.3,226.9 170.5,234.8 170.9,227.9 171.1,235.7 171.4,226 171.7,231.7 172,227.4 172.2,235.3 172.5,227.6 172.7,234.3 172.9,227 173.1,232.5 173.4,227 173.7,236 174,229.4 174.3,232.9 174.6,229.4 174.9,234.5 175.2,227 175.4,233.8 175.7,224.9 176.1,232.3 176.3,226.2 176.6,233 176.9,224.3 177.3,234.2 177.5,226.8 177.8,234.5 178.1,225.7 178.5,234.2 178.8,225.1 179.1,235.9 179.4,226.6 179.7,231.9 180,226 180.3,233.7 180.6,228.3 180.9,231.1 181.3,227.6 181.6,235.7 181.9,228.3 182.3,232.7 182.5,227.3 182.9,233.8 183.3,228.5 183.5,233.1 183.9,228.2 184.2,232.8 184.6,227.9 184.9,233.3 185.2,226.1 185.5,232.6 185.8,225.1 186.1,233.5 186.5,229.5 186.3,230.4 186.5,239 186.7,230.4 186.8,233.4 187.1,229.8 187.4,233.7 187.8,224.9 188.1,232.2 187.9,230.5 188.1,240.3 188.2,230.5 188.4,227 188.7,231.8 188.8,230.4 189,238 189.2,230.4 189.1,226.4 189.4,231 189.6,224.9 189.9,232.2 190.2,227.5 190.5,235.7 190.7,224.7 191,230.6 191.4,228.5 191.7,235.3 192,224.9 192.4,231.6 192.7,225.5 193,233.1 193.4,229.3 193.7,231.3 193.9,228 194.2,234.2 194.4,224.5 194.8,232.6 195.1,226.6 195.4,230.3 195.7,226.8 196,230.8 196.3,226.7 196.5,232.5 196.8,229 197.1,233.2 197.4,227.7 197.6,230.1 197.9,225.2 198.2,231.9 198.4,227.7 198.8,231.7 199,224.6 199.3,230.9 199.6,226.5 199.8,230.4 200.1,228.5 200.4,229.9 200.7,228 200.9,231.3 201.2,227.6 201.2,229 201.3,222.4 201.5,229 201.5,230.4 201.9,226.9 202.2,229.4 202.4,226.5 202.7,230.3 203,226.1 203.4,231.7 203.7,228.4 203.9,233.1 204.2,226.6 204.6,233.9 205,226.4 205.3,233.4 205.7,226.1 206,233.3 206.3,228.2 206.7,229.9 207,226 207.3,231.5 207.6,228.2 207.9,231.9 208.2,228 208.5,230.2 208.8,227.5 209.1,231 209.4,227.9 209.7,234 209.9,227.3 210.2,232.7 210.5,228.1 210.8,231.7 211.1,228.5 211.4,234.9 211.7,227.1 212,232.9 212.2,228.6 212.6,234.8 212.9,228.9 213.2,233.7 213.6,228.3 213.9,232.3 214.2,225.5 214.6,231.5 214.9,229.1 215.3,231.2 215.6,225.4 215.8,233.2 216.2,229.4 216.5,231 216.7,226 217,233.5 217.2,230 217.5,231.1 217.8,228.7 218,235.1 218.3,227.6 218.6,235.4 218.9,226.4 219.1,234.2 219.5,227.4 219.7,231.8 220,228 220.3,233.5 220.5,228.1 220.8,234.7 221.2,229.2 221.6,233.8 221.8,225.8 222.1,234.7 222.4,228.9 222.6,236 222.9,229.1 223.2,231.5 223.5,228.8 223.8,234.3 224,228.6 224.4,233.5 224.7,228.3 225.1,234.1 225.4,228.4 225.7,235.4 225.9,228.8 226.3,232.2 226.6,230.9 226.9,232.4 227.2,229.3 227.5,232.8 227.8,230.3 228,234.2 228.4,230.8 228.7,233.3 229,228.6 229.4,234.3 229.7,231.2 230,233.3 230.3,228.8 230.7,233.3 231,230.3 231.4,235.1 231.6,230.9 231.9,233.9 232.1,228.2 232.4,235.5 232.7,228.9 233,233.4 233.4,228.3 233.7,233.6 233.9,226.8 234.1,233.1 234.4,229.4 234.7,237.3 235,229.7 235.2,235 235.5,229.7 235.8,235.6 236.1,230.7 236.4,234.6 236.7,229.1 237,234.6 237.2,228.9 237.5,235.5 237.7,229.9 237.9,233.5 238.2,227.8 238.5,235.4 238.8,229.6 239.1,234.5 239.4,227.6 239.7,237.1 239.9,228.8 240.2,234.6 240.6,228.7 240.9,236.9 241.2,227.5 241.6,234.7 241.8,230.2 242.1,236.7 242.4,228.9 242.6,232.9 242.9,226.7 243.3,234.6 243.6,228.6 243.9,235.3 244.2,230 244.4,234.3 244.6,229.4 244.9,236.8 245.2,229.3 245.6,233.7 245.8,230.7 246.1,235.1 246.4,228.7 246.7,234.7 247,227.3 247.4,234.6 247.7,230.5 248.1,234.4 248.4,225.9 248.7,234.3 248.9,228.7 249.2,233 249.5,230.3 249.7,234.9 250,227.7 250.3,233.2 250.6,228.8 251,233.5 251.3,228 251.7,236.2 252,229.1 252.3,233.8 252.6,229 253,233.9 253.2,227.7 253.5,234.7 253.9,230.2 254.1,232.4 254.4,227.9 254.6,231.7 255,229.5 255.3,235.4 255.7,228.2 255.9,231 256.2,229.9 256.6,230.9 256.8,225.3 257,231.9 257.2,227.2 257.5,231 257.8,228.9 258.2,231.9 258.4,227.4 258.8,230.7 259.1,226.4 259.4,231.7 259.7,227.5 260,232.3 260.4,225.5 260.7,232.7 261,227.1 261.3,233.5 261.5,224.6 261.8,232.6 262.1,225.3 262.4,231.6 262.7,227.4 263,231.9 263.4,229 263.7,231.3 264,226.3 264.4,234 264.8,227 265.1,230.9 265.3,224.6 265.6,234.5 265.9,225.8 266.3,234.4 266.5,227.8 266.8,234 267,226.3 267.3,234.9 267.5,229.2 267.9,235.2 268.1,226.6 268.5,234.7 268.8,224.6 269.1,232.1 269.4,229.4 269.6,235.1 269.8,227.4 270.1,233.9 270.4,226.7 270.6,233.9 271,226.9 271.3,231 271.5,228.7 271.8,233.4 272.1,227.3 272.3,233.6 272.5,229.6 272.9,233.8 273.1,226.7 273.5,232.6 273.7,229.7 274.1,231.2 274.3,226.9 274.6,231.7 274.8,227.5 275.2,234.8 275.6,229.3 275.9,235.9 276.2,227.9 276.6,234.5 276.8,229.9 277.1,233 277.3,228.3 277.6,235.2 278,227.2 278.3,233.8 278.6,226.2 278.8,233.3 279.1,228.7 279.4,234.2 279.7,225.9 280.1,232.5 280.4,228 280.8,231.5 281.2,228 281.4,232.4 281.8,228.2 282,234.8 282.3,226.9 282.5,232.9 282.8,230.2 283.1,232.9 283.4,226.9 283.6,234.5 283.9,227.8 284.2,235.6 284.4,229.4 284.8,236 285.1,228.5 285.5,234 285.8,230.3 286,234.8 286.2,231.3 286.6,233.5 286.9,230.5 287.3,234.9 287.6,230.9 287.9,236.6 288.2,226.9 288.4,233.6 288.7,227.2 288.9,236.1 289.2,229.2 289.5,232 289.8,226.4 290.2,234.7 290.5,228.4 290.9,232.7 291.3,229.7 291.5,235.1 291.9,227.3 292.2,234.1 292.5,228.8 292.9,236.1 293.2,228.2 293.6,236 293.8,230.2 294.1,234.2 294.4,228.3 294.7,233.3 295,229.9 295.3,233.6 295.5,227.9 295.9,234 296.2,229.7 296.5,235.3 296.8,228.7 297.2,231.1 297.4,226.1 297.8,232.4 298.1,226.8 298.3,232.4 298.6,227.7 298.9,231.3 299.1,227.1 299.5,233.6 299.8,228.1 300.2,233.5 300.5,227.9 300.7,232.9 301,227.7 301.3,234.8 301.5,228.3 301.8,231.6 302.1,228.4 302.4,230.8 302.6,228.6 303,233 303.2,225.8 303.5,234 303.8,226.9 304.2,231.4 304.5,229 304.7,233.1 305,227.3 305.3,234.2 305.5,227.2 305.8,230.8 306,226.4 306.4,232.7 306.7,226.1 307,232.5 307.4,226.6 307.6,233.5 307.8,226.5 308.1,232.1 308.4,226.2 308.6,234.2 308.9,226.5 309.1,231.2 309.5,226.4 309.8,232.4 310,225.8 310.3,233.4 310.6,226.5 310.9,233.5 311.2,227.7 311.5,233.4 311.8,226.4 312.1,231.3 312.5,227.9 312.8,232.3 313.1,226.3 313.4,230.5 313.7,223.6 314.1,233.5 314.4,224.7 314.6,233.3 314.9,226.6 315.2,231.5 315.6,225.6 315.9,231.3 316.1,225.8 316.4,231.1 316.6,225.2 316.8,229.6 317,227 317.3,230.7 317.5,226.2 317.8,230.1 318.1,225.1 318.5,231.3 318.7,227.2 319,230.6 319.4,225.9 319.7,232.8 320,226 320.3,231.1 320.6,225 320.9,229.1 321.3,226.9 321.6,228.5 321.9,224.6 322.1,230.1 322.4,226.3 322.7,230.9 323,223.2 323.3,228.2 323.6,225.3 323.9,232.9 324,227.8 324.1,223.4 324.2,227.8 324.3,225 324.6,230.6 324.9,225.7 325.1,233.3 325.3,225.5 325.7,233.5 326.1,225.5 326.3,234.1 326.7,226.7 327.1,233.4 327.3,229.1 327.6,231.9 327.9,227.9 328.2,235 328.6,229.6 328.9,234.8 329.3,226.6 329.5,233.4 329.9,229.2 330.1,237.4 330.4,231 330.8,239.7 331,231 331.3,238.6 331.6,231.3 331.8,237.2 332.1,234.9 332.3,239.6 332.5,235 332.9,239.3 333.2,238.6 333.5,244.3 333.6,258" fill="none" stroke="#ff0000" stroke-width="0.7" stroke-linejoin="round"/>
<path d="M122.5,249.8 123,250.1 123.3,249.8 123.6,249.1 124.1,249.9 124.4,249.8 124.6,249.3 125.1,249.4 125.5,249.6 125.9,249.1 126.3,249.3 126.7,250 127.1,249.2 127.4,249.2 127.7,249.2 128.1,249.3 128.4,249.4 128.7,249.3 129.1,249.4 129.3,249.2 129.7,249.9 129.9,249.9 130.3,249.1 130.6,249.8 130.9,249.1 131.3,249.1 131.7,249.4 132.2,249.1 132.6,249.5 133.1,249.4 133.5,249.1 133.7,250 134,249.2 134.2,249.4 134.5,249.2 134.9,249.7 135.1,249.3 135.4,249.6 135.8,249.3 136.1,249.3 136.4,250 136.9,249.7 137.2,249.8 137.5,250 137.8,249.8 138,249.7 138.3,249.8 138.8,249.9 139.2,249.8 139.5,250.5 139.8,249.9 140.3,250.6 140.7,250.7 141,250.3 141.3,250.2 141.7,250.5 141.9,250.3 142.2,251.1 142.5,250.4 142.9,250.7 143.3,250.8 143.6,250.8 144,251 144.4,250.7 144.8,250.8 145,251.3 145.5,251.7 146,251 146.4,251.2 146.7,251.1 147,251.5 147.4,251.3 147.8,251.4 148.2,251.3 148.6,252.2 148.8,251.8 149.2,252.1 149.5,252 149.8,251.3 150.1,251.8 150.4,251.4 150.8,252 151.2,251.8 151.7,251.6 152.1,251.6 152.4,251.3 152.7,251.5 152.9,251.4 153.4,251.8 153.7,251.6 154,252 154.4,251.2 154.8,251.4 155,251.8 155.4,251.7 155.9,251.2 156.1,252.1 156.5,251.3 156.9,251.4 157.1,252 157.6,251.2 157.9,251.1 158.4,251.2 158.9,251.9 159.2,251.5 159.6,251.3 160,251.3 160.3,251.3 160.7,251.9 161,251.2 161.4,250.9 161.9,251 162.2,250.9 162.5,251 163,250.7 163.4,250.7 163.7,250.9 164.2,251.5 164.6,250.9 165,251 165.4,251.1 165.7,250.7 166.1,251.3 166.6,250.5 166.8,250.2 167.2,250.4 167.6,250.5 167.9,250.2 168.3,250.4 168.6,250 169,250 169.2,250 169.4,250.8 169.8,250 170.1,250.6 170.6,250.5 171.1,249.8 171.5,249.8 172,249.6 172.4,249.5 172.8,249.9 173.3,249.4 173.6,250.4 174,249.3 174.3,250.2 174.5,249.2 174.8,249.5 175.2,249.2 175.7,250 176.1,249.1 176.4,249.2 176.6,249.6 176.9,249.1 177.3,249 177.7,249.4 178,249.7 178.3,249.2 178.7,249.1 179,249.3 179.4,248.7 179.7,248.7 180,248.9 180.4,248.7 180.7,248.6 181.2,248.9 181.6,249.4 181.9,248.8 182.2,249.1 182.7,248.8 183.2,249.2 183.5,248.8 183.7,248.5 184.2,248.6 184.5,248.6 185,248.5 185.4,248.8 185.6,248.6 185.8,248.4 186.2,248.4 186.5,248.4 186.9,248.5 187.3,248.4 187.6,248.6 188.1,248.3 188.3,248.7 188.8,248.9 189,248.3 189.3,248.7 189.7,248.4 190.1,249.2 190.6,248.3 191,248.2 191.5,248.2 191.8,248.2 192.2,248.6 192.7,248.3 193.1,248.2 193.4,248.1 193.6,249 194.1,248.1 194.5,248.8 195,249 195.3,249 195.7,248.9 196.1,248.8 196.6,248 196.9,248.6 197.3,248 197.8,248.3 198,248.1 198.5,248.2 198.7,248.6 199.1,248.7 199.3,248 199.7,248.7 200,248 200.3,248.6 200.7,247.8 200.9,248.4 201.2,248.1 201.5,248.4 201.8,248.9 202.2,248.2 202.5,248.4 202.7,248.4 203,248.2 203.4,248.4 203.9,248.3 204.1,249.1 204.5,249.1 204.9,248.3 205.1,248.7 205.5,248.8 205.8,248.5 206.2,248.8 206.5,249 206.7,249.3 207,249.2 207.3,249.3 207.8,248.7 208.1,248.8 208.5,249.7 208.9,248.9 209.4,249.2 209.7,249.2 210.1,249.1 210.3,249.6 210.5,249.1 211,250 211.2,249.8 211.5,249.4 211.8,249.3 212.1,249.7 212.5,250.3 213,249.7 213.4,249.5 213.6,249.5 213.9,249.6 214.2,249.7 214.6,250.4 214.8,250.3 215.2,250.3 215.7,250.2 215.9,250.4 216.1,250.1 216.5,250.2 216.9,250.1 217.3,251 217.5,250.5 217.9,250.6 218.3,250.8 218.6,250.3 219,251 219.4,251 219.8,250.4 220,250.5 220.3,250.5 220.5,251.4 221,250.6 221.2,250.9 221.5,251.5 222,251.2 222.3,250.9 222.7,250.8 223.1,251 223.4,250.9 223.8,251.7 224.1,251 224.5,251.2 224.9,251.9 225.3,251.6 225.6,251.3 226,251.3 226.4,251.8 226.7,251.4 227.1,251.6 227.4,251.8 227.7,251.5 228.1,251.5 228.4,252.4 228.6,252 229.1,252.5 229.3,252.1 229.7,252.4 230.1,252.5 230.4,251.9 230.8,252 231.2,252 231.6,252 231.8,252.2 232.1,252.7 232.4,252.5 232.7,252.8 233,252.6 233.4,252.8 233.7,252.5 234.1,252.5 234.4,252.5 234.7,252.5 235.2,252.6 235.5,253.4 235.9,252.9 236.2,252.5 236.5,252.4 236.9,253 237.4,252.4 237.9,253 238.2,252.5 238.5,252.3 239,252.5 239.3,252.4 239.6,252.7 240,252.5 240.3,252.4 240.5,252.8 241,252.3 241.3,252.4 241.7,253 242.1,252 242.6,252 243,252.2 243.3,252 243.7,252 244.1,252.1 244.3,251.9 244.8,252.3 245,252.5 245.3,252.3 245.7,252.4 245.9,252.7 246.2,252.4 246.6,251.7 247,251.7 247.4,252.1 247.8,252.1 248.1,252.4 248.6,251.7 248.9,251.7 249.2,252.2 249.6,251.8 250,251.5 250.3,252.2 250.6,251.5 250.9,251.4 251.2,251.4 251.7,251.4 251.9,251.5 252.1,251.5 252.4,251.4 252.8,252.2 253.2,251.6 253.6,251.5 254,251.4 254.2,251.9 254.6,252 255,251.3 255.2,252 255.6,251.5 256,251.1 256.4,251.1 256.8,250.9 257.2,251.5 257.7,250.9 258,251.3 258.3,251.6 258.5,250.8 259,251.5 259.2,250.7 259.4,250.8 259.9,251.2 260.3,250.6 260.8,250.9 261.3,250.7 261.7,250.8 262.1,250.4 262.5,250.8 263,250.1 263.4,250.3 263.8,249.9 264.3,250.7 264.7,250.4 264.9,250.1 265.2,250.4 265.5,249.8 265.9,250.7 266.3,249.8 266.8,249.9 267.1,250.5 267.3,250.2 267.5,249.9 267.9,250.3 268.2,250 268.6,250.9 269,250.2 269.4,250.5 269.8,250.2 270.2,250.4 270.5,250.4 270.8,250.6 271.1,250.4 271.3,250.8 271.6,250.5 271.9,250.7 272.2,250.5 272.5,250.9 272.8,250.6 273.2,250.7 273.4,250.8 273.8,251 274.2,251.4 274.6,251 275,251 275.4,251.9 275.7,251.2 276.1,251.2 276.5,251.7 276.8,251.8 277.1,252 277.6,251.6 277.8,251.3 278.1,251.6 278.5,251.6 279,251.8 279.4,252.4 279.8,252.3 280.2,252.4 280.5,251.8 280.9,252.3 281.3,252.3 281.7,252.3 282,252.1 282.5,252.6 282.8,252.3 283.2,252.6 283.7,252.7 283.9,252.7 284.3,252.4 284.6,252.3 285.1,252.2 285.6,252.6 286,252.4 286.4,253 286.7,252.4 287.1,252.6 287.4,253.1 287.7,253.2 288.1,252.4 288.5,253 288.9,252.7 289.3,252.9 289.6,253.2 290,252.2 290.4,252.5 290.8,252.1 291.2,252.3 291.5,252.7 291.9,252.3 292.2,252.2 292.6,251.8 293,252.3 293.2,251.9 293.5,251.7 293.8,251.9 294.3,252.4 294.7,252.4 295.1,251.5 295.6,252 295.8,252.1 296.2,251.3 296.4,251.4 296.9,251.7 297.2,252 297.5,251.7 297.9,251.1 298.1,251.6 298.5,251.1 298.8,251.7 299.1,251 299.4,250.9 299.9,251 300.2,250.8 300.4,250.9 300.8,250.8 301,251.3 301.4,251.5 301.9,250.9 302.3,250.5 302.7,250.8 302.9,251.1 303.1,250.4 303.6,250.9 303.9,250.4 304.4,250.2 304.8,250.2 305,251 305.5,250.3 305.7,250 306,250 306.4,250 306.7,250.5 307,250.2 307.3,250.3 307.8,250.3 308.1,250 308.4,249.7 308.6,249.7 308.9,250 309.1,249.6 309.4,250.4 309.8,249.5 310,250 310.4,249.6 310.8,249.6 311.2,250.1 311.6,249.4 312,249.3 312.4,249.2 312.7,249.3 313.1,249.1 313.5,249.3 313.8,249.3 314.2,248.9 314.5,249.2 314.8,249.2 315,248.9 315.5,248.9 315.7,249 316.2,249.4 316.7,248.5 317,248.6 317.2,248.6 317.7,248.3 318,248.4 318.4,248.2 318.8,248.1 319.1,248.2 319.5,248.6 319.8,248 320.1,247.9 320.4,248.2 320.9,247.6 321.1,247.6 321.4,247.9 321.7,247.7 322.1,247.4 322.4,247.5 322.7,247.5 323,247.2 323.3,247.3 323.6,247.2 323.8,247.8 324.3,247.3 324.6,247.9 325,248.1 325.3,247.9 325.6,249 325.9,248.4 326.3,248.7 326.7,248.8 327.1,249.5 327.5,249.5 327.9,250.1 328.3,250.3 328.6,250.8 328.9,250.9 329.4,250.7 329.8,251.1 330.2,251.8 330.5,251.5 330.9,251.7 331.3,252.1 331.6,252.2 331.9,252.9 332.1,252.6 332.6,253.6 333,253.4 333.4,254.1 333.5,253.8 333.5,256.7 333.4,256.5 333,256.4 332.6,256.4 332.1,256.3 331.9,255.2 331.6,255.4 331.3,255.6 330.9,255.2 330.5,255.3 330.2,254.3 329.8,254.8 329.4,254.6 328.9,253.6 328.6,254 328.3,253.9 327.9,253.9 327.5,253.1 327.1,253 326.7,253.1 326.3,252.5 325.9,252.3 325.6,252.5 325.3,252.7 325,252 324.6,252 324.3,251.7 323.8,252 323.6,251.3 323.3,251.3 323,252.1 322.7,251.9 322.4,251.9 322.1,252.2 321.7,252.1 321.4,252 321.1,252.5 320.9,252 320.4,252.5 320.1,252.7 319.8,252.7 319.5,252.7 319.1,252 318.8,252.8 318.4,252.6 318,252.9 317.7,252.9 317.2,253.1 317,252.9 316.7,252.7 316.2,252.9 315.7,252.8 315.5,252.5 315,253.1 314.8,252.6 314.5,253.5 314.2,253.5 313.8,253.3 313.5,253.6 313.1,253.5 312.7,252.9 312.4,253.7 312,253.4 311.6,253.2 311.2,253.4 310.8,253.2 310.4,253.3 310,253.8 309.8,253 309.4,253.9 309.1,253.4 308.9,254 308.6,253.8 308.4,253.8 308.1,253.9 307.8,254 307.3,253.8 307,253.8 306.7,253.5 306.4,253.8 306,253.2 305.7,254.1 305.5,254.2 305,254.1 304.8,253.4 304.4,253.5 303.9,254.2 303.6,253.7 303.1,254 302.9,253.8 302.7,253.8 302.3,254.5 301.9,254 301.4,253.7 301,254.3 300.8,254.6 300.4,254.5 300.2,254.6 299.9,254.6 299.4,254.6 299.1,254.5 298.8,254.7 298.5,254.8 298.1,254.2 297.9,254.2 297.5,254.6 297.2,254.1 296.9,254.9 296.4,255 296.2,254.5 295.8,254.5 295.6,254.3 295.1,254.6 294.7,255 294.3,255.1 293.8,255.2 293.5,254.9 293.2,254.9 293,254.8 292.6,255.3 292.2,255.2 291.9,255.3 291.5,255.2 291.2,255.3 290.8,254.4 290.4,255.1 290,255.4 289.6,255.5 289.3,255.5 288.9,255 288.5,255.6 288.1,254.7 287.7,255.6 287.4,255.4 287.1,255.7 286.7,254.8 286.4,255.6 286,255.1 285.6,255.5 285.1,255.4 284.6,255.5 284.3,254.7 283.9,254.9 283.7,255.3 283.2,255.4 282.8,255.2 282.5,255.2 282,255.1 281.7,255.3 281.3,254.6 280.9,254.8 280.5,254.9 280.2,254.8 279.8,254.7 279.4,255.2 279,254.5 278.5,255 278.1,254.8 277.8,255.1 277.6,254.3 277.1,254.8 276.8,254.3 276.5,254.1 276.1,254 275.7,254.3 275.4,254.9 275,254.8 274.6,254 274.2,254.9 273.8,254 273.4,254.6 273.2,254.7 272.8,254.5 272.5,254.6 272.2,253.9 271.9,254.1 271.6,254.7 271.3,254.2 271.1,254.5 270.8,254.5 270.5,254.3 270.2,254.6 269.8,254.6 269.4,254.1 269,254.5 268.6,254 268.2,253.8 267.9,254.4 267.5,253.8 267.3,254.4 267.1,253.9 266.8,254.3 266.3,254.2 265.9,253.5 265.5,253.6 265.2,253.8 264.9,254.3 264.7,254.2 264.3,253.6 263.8,254.2 263.4,253.3 263,253.7 262.5,253.4 262.1,254.2 261.7,254.2 261.3,254.3 260.8,254.3 260.3,253.4 259.9,253.9 259.4,254.2 259.2,254 259,254.2 258.5,254.4 258.3,253.9 258,254.1 257.7,254.2 257.2,254.3 256.8,254.3 256.4,254.8 256,254.4 255.6,254.8 255.2,254.9 255,254.5 254.6,254.7 254.2,255.1 254,254.8 253.6,254.4 253.2,255.3 252.8,255.3 252.4,254.7 252.1,255.4 251.9,254.4 251.7,255.3 251.2,255.2 250.9,255.2 250.6,255.5 250.3,255 250,254.8 249.6,255.2 249.2,255.2 248.9,255.6 248.6,255.7 248.1,255.4 247.8,255.3 247.4,255.5 247,255.1 246.6,255.7 246.2,254.8 245.9,255.1 245.7,255.6 245.3,255.5 245,255.8 244.8,255.9 244.3,255.2 244.1,255.8 243.7,255.8 243.3,255.9 243,255.1 242.6,255.4 242.1,256 241.7,255.9 241.3,255.6 241,255.5 240.5,255.6 240.3,255.5 240,255.5 239.6,255.3 239.3,255.8 239,256.1 238.5,256 238.2,256.1 237.9,255.1 237.4,256.1 236.9,256.1 236.5,256 236.2,255.2 235.9,255.7 235.5,256.2 235.2,256 234.7,256.2 234.4,255.9 234.1,255.8 233.7,256 233.4,255.7 233,255.4 232.7,255.1 232.4,255.4 232.1,255.9 231.8,255.1 231.6,255.2 231.2,255.1 230.8,255.3 230.4,255.4 230.1,255.4 229.7,254.9 229.3,255.5 229.1,255.4 228.6,255.5 228.4,255.2 228.1,255.4 227.7,255.4 227.4,255 227.1,255 226.7,254.9 226.4,254.9 226,255 225.6,254.8 225.3,254.8 224.9,254.8 224.5,255 224.1,255 223.8,254 223.4,254.9 223.1,254.8 222.7,254.4 222.3,254 222,254.3 221.5,254.6 221.2,253.7 221,254.1 220.5,254.1 220.3,254.1 220,254.4 219.8,254.5 219.4,254.4 219,254 218.6,253.5 218.3,253.6 217.9,254.3 217.5,253.5 217.3,254.1 216.9,253.5 216.5,253.7 216.1,253.4 215.9,254.1 215.7,253.7 215.2,253.8 214.8,253.8 214.6,254 214.2,253.1 213.9,253.9 213.6,253.8 213.4,253 213,253.4 212.5,253.3 212.1,253.5 211.8,253.6 211.5,253.5 211.2,253.1 211,253.6 210.5,253.5 210.3,252.7 210.1,253 209.7,253.4 209.4,253.3 208.9,253.3 208.5,253.3 208.1,253.1 207.8,252.9 207.3,253 207,252.6 206.7,252.7 206.5,253 206.2,252.4 205.8,252.2 205.5,252.4 205.1,252.9 204.9,252.9 204.5,252.9 204.1,252.8 203.9,252.4 203.4,252.6 203,252.7 202.7,252.6 202.5,252.5 202.2,252.3 201.8,251.7 201.5,251.9 201.2,252.5 200.9,252.4 200.7,252.4 200.3,252.1 200,251.9 199.7,252.1 199.3,252.6 199.1,251.9 198.7,251.7 198.5,252.2 198,252.5 197.8,252.5 197.3,252.6 196.9,252 196.6,252.4 196.1,252.2 195.7,252.7 195.3,251.9 195,252.6 194.5,252.4 194.1,251.9 193.6,252.8 193.4,252.1 193.1,252.5 192.7,252.6 192.2,252.8 191.8,252.5 191.5,252 191,252.8 190.6,252.6 190.1,252.8 189.7,252.8 189.3,252.6 189,253 188.8,252.8 188.3,252.6 188.1,253 187.6,252.6 187.3,253.1 186.9,252.2 186.5,252.7 186.2,252.4 185.8,252.9 185.6,252.9 185.4,253 185,252.4 184.5,253 184.2,253 183.7,253 183.5,253.2 183.2,253 182.7,253.2 182.2,252.4 181.9,252.3 181.6,252.9 181.2,253.3 180.7,253.2 180.4,253.3 180,253.1 179.7,252.6 179.4,252.8 179,253.3 178.7,253.3 178.3,253.1 178,253.2 177.7,252.9 177.3,252.5 176.9,253.6 176.6,253.2 176.4,253.3 176.1,253.3 175.7,253.6 175.2,253.6 174.8,253.2 174.5,253.5 174.3,253.7 174,253.2 173.6,253.9 173.3,253.6 172.8,253.1 172.4,253.8 172,253.3 171.5,253.2 171.1,253.8 170.6,254 170.1,253.4 169.8,253.7 169.4,253.8 169.2,253.7 169,253.9 168.6,254.3 168.3,253.7 167.9,254.4 167.6,254.5 167.2,254 166.8,253.7 166.6,254.2 166.1,254.3 165.7,254.4 165.4,254.6 165,254.7 164.6,254.6 164.2,254.7 163.7,254.2 163.4,254.9 163,254.8 162.5,254.3 162.2,254.9 161.9,254.1 161.4,254.6 161,254.6 160.7,255.1 160.3,255.1 160,255 159.6,254.7 159.2,254.7 158.9,254.9 158.4,254.8 157.9,254.4 157.6,254.8 157.1,254.8 156.9,254.9 156.5,254.4 156.1,254.5 155.9,254.8 155.4,254.3 155,254.6 154.8,254.7 154.4,254.7 154,253.9 153.7,254.6 153.4,253.9 152.9,254.4 152.7,254.5 152.4,254.5 152.1,254.3 151.7,254.3 151.2,254 150.8,254.1 150.4,254.1 150.1,254.1 149.8,254 149.5,254.1 149.2,254 148.8,254.1 148.6,254.1 148.2,253.8 147.8,253.1 147.4,253.7 147,253.7 146.7,253.7 146.4,253.8 146,253.7 145.5,253.6 145,253.7 144.8,252.9 144.4,253.7 144,253.4 143.6,253.6 143.3,252.8 142.9,253.5 142.5,253.3 142.2,253.2 141.9,253.4 141.7,253.1 141.3,253.4 141,253.3 140.7,253.2 140.3,252.7 139.8,253.2 139.5,252.2 139.2,252.8 138.8,252.5 138.3,252.7 138,253 137.8,252.9 137.5,252.3 137.2,252.1 136.9,252.1 136.4,252.7 136.1,252.6 135.8,252.7 135.4,252.5 135.1,252.7 134.9,252.6 134.5,252.3 134.2,252.1 134,252.7 133.7,252.5 133.5,252.2 133.1,252.7 132.6,252.6 132.2,252.7 131.7,252.4 131.3,252.4 130.9,251.9 130.6,252.6 130.3,252.2 129.9,252.1 129.7,252.5 129.3,252.4 129.1,252.3 128.7,252 128.4,252.2 128.1,252 127.7,252.7 127.4,252.5 127.1,252.7 126.7,251.9 126.3,252.6 125.9,252.7 125.5,252.4 125.1,252.6 124.6,252.3 124.4,251.9 124.1,252.2 123.6,251.8 123.3,252.6 123,252.7 122.5,251.8Z" fill="#0000a0"/>
<path d="M122.4,263.5 122.4,251" fill="none" stroke="#0000a0" stroke-width="1.15" stroke-linejoin="round"/>
<path d="M122.4,251 122.5,253.5 122.8,248.6 123.1,251.9 123.5,249.8 123.8,251.6 124.1,248.1 124.3,252.5 124.6,250.6 125,252 125.2,248 125.5,252.4 125.8,250.5 126,250.9 126.2,247.4 126.4,250.9 126.2,252 126.6,249.2 126.9,252.3 127.2,250 127.5,253.1 127.4,250.9 127.6,257.4 127.8,250.9 127.8,249.5 128.2,252.6 128.5,249.4 128.7,251.9 129,248 129.3,253.6 129.7,249.2 129.9,252.5 129.9,250.9 130.1,256.6 130.2,250.9 130.2,250.1 130.5,252.6 130.8,249.3 131.2,252.6 131.5,250.7 131.8,251.7 132.2,249.5 132.4,251.6 132.7,248.3 132.9,252.5 133.2,250.6 133.4,251.6 133.6,250 134,251.8 134.3,248.4 134.2,250.9 134.4,257 134.6,250.9 134.6,252.4 134.8,250.2 135,253.8 135.3,249.7 135.7,252.7 136.1,249.4 136.5,252.9 136.8,249.6 137.1,252.4 137.4,250.9 137.6,253.8 138,249.6 138.4,253.8 138.7,250.3 139.1,251.9 139.4,248.6 139.7,251.8 140,251.2 140.3,252.8 140.5,250.3 140.8,254 141,251.4 141.3,252.2 141.7,249.6 142.1,253.4 142.5,250.6 142.8,252.4 143.1,251.5 143.4,254.6 143.8,251.1 144.1,254.9 144.5,251.7 144.8,252.9 145.1,251.5 145.3,254.1 145.6,250.5 146,253.4 146.3,251.2 146.6,253 146.8,251.9 147.1,253.7 147.4,251.3 147.7,254 148.1,251.4 148.4,254.9 148.7,251.5 149,254.7 149.3,251.3 149.5,253.8 149.8,251.3 150.1,254.3 150.5,251.2 150.8,253.7 151.1,252.3 151.4,253.3 151.6,251.9 151.9,254.4 152.3,251.8 152.6,254.7 152.9,251.8 153.1,254.9 153.3,250.3 153.6,254.4 154,251.9 154.3,255.3 154.7,250.3 154.9,255.8 155.3,251.4 155.6,253.9 155.9,251.9 156.3,254 156.6,251.2 156.9,255.4 157.2,251.4 157.5,254.8 157.8,251.6 158.2,255.9 158.4,251.5 158.7,253.7 159,252 159.3,253.5 159.7,250.3 160,254.1 160.3,251 160.6,254.5 160.9,252.2 161.2,254.9 161.6,252.7 161.9,256 162.3,250.8 162.5,254 162.9,251.2 163.2,254.8 163.5,252.5 163.8,256 164,249.4 164.3,254.4 164.5,249.5 164.9,255.3 165.2,252 165.6,255.6 165.9,250.4 166.3,255.4 166.5,251.8 166.8,252.9 167.1,250.2 167.3,253.6 167.7,249.5 168,253.1 168.4,250.9 168.7,252.6 168.9,250.7 169.2,253.1 169.6,251.8 169.8,253.3 170.1,250.2 170.4,254.5 170.7,250.2 171.1,253.7 171.4,249.2 171.8,253.9 172,249.3 172.3,252.3 172.6,249.9 172.9,252.1 173.2,249.8 173.5,252.3 173.7,250.7 174.1,254.2 174.3,250 174.6,252.7 174.9,249.4 175.3,253.7 175.5,250.1 175.8,253.3 176.1,251.1 176.3,254.9 176.6,249.3 176.9,253.7 177.1,248.1 177.4,254.3 177.7,248.9 178.1,253.5 178.4,248.8 178.6,251.9 178.9,250.6 179.2,252 179.4,248.4 179.7,253 180.1,249.3 180.5,253.4 180.7,248.4 180.9,253.2 181.1,249.5 181.5,252.4 181.8,248.5 182.1,251.8 182.3,248.1 182.6,251.7 182.9,250.5 183.1,253.7 183.5,249 183.8,253 184,247.9 184.4,253.2 184.7,248.5 185.1,252.6 185.3,247.4 185.7,252.3 185.9,247.9 186.3,252.4 186.6,248.1 186.9,251.5 187.1,248.2 187.4,253.7 187.7,249.1 188,252.6 187.9,250.7 188.1,256.5 188.2,250.7 188.3,248.1 188.6,253.2 188.9,247.7 189.2,252 189.5,248.8 189.8,252.7 190.1,248 190.4,251 190.7,247.7 190.9,252.9 191.2,248.3 191.6,252.5 192,249 192.2,253.1 192.6,248.3 192.8,252.1 193,250 193.4,252.6 193.6,248.2 194,251.2 194.3,248.4 194.6,253 194.9,249.4 195.2,252.1 195.5,250.1 195.9,252.9 196.1,249 196.5,251.3 196.8,248 197.1,251.9 197.4,249.5 197.7,250.9 198.1,248.5 198.4,253.4 198.7,248.9 199.1,251.5 199.4,246.6 199.6,252.2 199.9,248.2 200.2,250.9 200.5,247.4 200.9,250.7 201.3,248.2 201.5,252.9 201.9,249.6 202.2,252.4 202.6,248.6 203,252.1 203.2,247.2 203.5,253.4 203.8,248.6 204.2,251.2 204.4,249.8 204.8,253.4 205,247.1 205.4,252.8 205.7,249.5 206,251.7 206.3,248.4 206.6,254.1 206.9,250.6 207.1,252.8 207.5,249.1 207.7,253 208,249.2 208.3,253.3 208.7,250 208.9,253 209.2,249.2 209.6,251.8 209.8,249.1 210.1,253.5 210.3,250.3 210.7,253.4 211,249.2 211.2,252.3 211.5,249.3 211.7,252.6 212.1,250.1 212.4,253.7 212.8,251.3 213.1,254.6 213.4,249.9 213.8,252.9 214.1,250 214.3,253.5 214.6,251.2 214.9,253.5 215.1,251.3 215.4,253.8 215.7,249.5 216,253.5 216.4,249.9 216.7,253.7 216.9,251.3 217.2,253.5 217.5,250.5 217.8,252.9 218,251.3 218.3,255.4 218.6,250.6 219,254.2 219.3,249.9 219.7,254.3 219.9,249.4 220.2,254.5 220.6,249.3 220.9,255.1 221.2,250.1 221.5,254.4 221.8,249.9 222,253.8 222.3,251.6 222.6,253.6 222.9,252.2 223.2,253.5 223.5,251 223.7,254.4 224.1,252.8 224.4,255.2 224.6,251.9 224.9,254.4 225.1,250.9 225.4,254.5 225.6,251.2 226,255.1 226.3,252 226.5,254.6 226.8,251.7 227.2,255.2 227.5,251.5 227.8,255.4 228.1,251.7 228.4,256.4 228.8,253.1 229.1,254.6 229.4,251.2 229.8,256.3 230.1,253.2 230.3,255.7 230.7,252.6 231,255.4 231.4,252.1 231.6,254.2 231.9,253.3 232.2,255.3 232.5,253.5 232.8,254.4 233,253.5 233.4,256.5 233.8,253.1 234.1,255 234.4,251.6 234.7,255.1 235,253.2 235.3,255.8 235.5,253.6 235.8,255.8 236.2,252.3 236.5,256.2 236.7,251.8 237,257.2 237.3,252.7 237.6,257.3 237.8,251.8 238,254.7 238.4,253.2 238.8,256.9 239,253.5 239.4,255.7 239.6,252.2 239.9,255.4 240.3,253.5 240.6,256.5 240.9,252.6 241.2,254.7 241.5,251.5 241.8,256.7 242.1,252.3 242.3,255.5 242.5,250.9 242.9,255.7 243.3,253.2 243.6,254.2 243.9,253.5 244.2,255.1 244.5,252 244.8,256.3 245.2,252.5 245.6,255.8 245.9,251.9 246.2,254.3 246.4,251.5 246.7,254.6 247,252.7 247.3,254.8 247.5,252 247.8,255.8 248,252 248.3,255.4 248.5,252.2 248.8,254.7 249,250.8 249.2,254.7 249.6,250.2 250,254.2 250.3,251.7 250.6,255.3 250.8,252.4 251.1,254.4 251.3,252.6 251.7,256.8 252,252.5 252.3,255.3 252.6,250.9 252.9,254.5 253.3,251.2 253.6,254.6 253.9,251.3 254.1,256.3 254.5,251.4 254.9,253.6 255.2,250.4 255.4,254 255.7,250.6 255.9,254.7 256.2,251.3 256.5,255.4 256.8,252.1 257.1,254.8 257.3,252 257.6,254.9 257.9,251.5 258.1,254.2 258.4,249.7 258.8,254.1 259.1,250.8 259.4,253.9 259.8,249.8 260.1,254.3 260.5,250.1 260.9,252.8 261.1,251.4 261.4,255 261.7,250.9 262,253.1 262.3,251.7 262.6,252.4 263,251.7 263.2,253.9 263.6,249.9 263.8,252.9 264.2,251.1 264.6,254.1 264.8,251.7 265,253.4 265.4,249.7 265.7,252.3 266.1,250.9 266.3,254.3 266.7,251.4 266.9,254.9 267.1,250 267.5,254.6 267.8,250.6 268.1,253.4 268.4,252 268.7,254.3 268.9,249.9 269.3,252.8 269.6,249.1 269.9,254.1 270.3,250.5 270.5,254.5 270.8,251.5 271,254.6 271.3,251.8 271.5,254 271.8,252.1 272,254.7 272.3,251.5 272.6,254.2 272.9,251.7 273.2,254.2 273.6,250.5 273.9,254.8 274.1,250 274.4,253.3 274.6,251.9 275,254.9 275.3,252.6 275.6,255.5 275.9,249.7 276.2,254.3 276.5,252.3 276.8,253.6 277.1,251.2 277.4,255.6 277.6,251.9 278,254.6 278.3,251.9 278.7,253.6 279,252.4 279.2,254.2 279.6,251.8 279.9,254.9 280.2,252.1 280.5,255.3 280.7,253.1 280.9,256.3 281.3,253 281.7,255.3 282.1,251 282.3,255.2 282.6,252.7 282.9,254.7 283.1,252.6 283.4,254.5 283.7,252.7 284.1,254.1 284.4,252.6 284.7,255.2 284.9,251.5 285.1,256.1 285.5,253.1 285.8,254.7 286.1,252.4 286.4,255.6 286.7,253.1 287,255.6 287.3,252.7 287.5,256 287.8,253.8 288.2,255.8 288.5,253.5 288.8,255.6 289,253 289.4,255.7 289.6,252.3 289.9,254.2 290.2,253.1 290.5,254.1 290.7,252.9 290.9,254.9 291.3,252.1 291.6,255 292,251.9 292.3,254.9 292.5,252.9 292.8,255.3 293.1,251.9 293.5,254.8 293.8,251.3 294.1,254.5 294.4,252.4 294.8,255 295.1,252.2 295.4,253.7 295.7,251.1 296,253.9 296.2,252.5 296.5,255.4 296.8,251.9 297,255.5 297.3,251.2 297.7,254.4 297.9,251.5 298.3,255.1 298.6,251.6 298.9,255.8 299.2,251.3 299.5,254.7 299.8,252.2 300.1,254.5 300.4,251.4 300.8,254.4 301,252.1 301.3,253.7 301.6,251.2 301.9,254.1 302.2,250.6 302.5,254.1 302.8,250 303.2,255.7 303.4,250 303.8,253 304.1,251.6 304.4,252.5 304.8,251.8 305.1,254.7 305.4,251 305.7,254.5 306.1,250.3 306.4,254.1 306.6,250.9 306.9,253.7 307.2,251.2 307.5,253.1 307.8,250.2 308.2,253 308.4,251.4 308.7,253.9 309,248.3 309.3,252.8 309.6,249.7 310,253.2 310.3,250.5 310.5,253 310.9,249.5 311.2,253.6 311.5,248.9 311.9,255 312.2,248.2 312.5,252.7 312.8,249.2 313.1,254.1 313.3,249.7 313.6,253.5 313.8,249.6 314.1,253.5 314.4,250 314.7,254.6 315.1,248.5 315.3,251.8 315.6,248.8 316,251.3 316.2,250.2 316.5,251.7 316.8,250.1 317.2,251.1 317.4,250.3 317.7,252.9 317.9,249.3 318.2,251 318.5,250 318.7,252.9 318.9,246.9 319.3,250.8 319.6,248.9 319.9,251.6 320.2,247 320.6,251.8 320.8,249.2 321.1,251.1 321.4,248.6 321.7,252.8 322.1,247.9 322.3,252.1 322.5,247.7 322.9,251.1 323.1,247.9 323.5,251.3 323.9,247.1 324.1,252.6 324.5,247.5 324.8,251.4 325.2,249.5 325.5,252.6 325.7,249.1 325.9,252.5 326.2,247.3 326.5,254.5 326.8,250.8 327.1,254.6 327.5,248.8 327.8,254 328.2,250.9 328.6,254.7 328.9,249.5 329.2,254.4 329.5,250.9 329.7,254.5 330,251.3 330.2,255.9 330.5,251.5 330.9,255.6 331.2,251.6 331.5,255.6 331.8,252.4 332.1,255.4 332.4,251.6 332.8,255.1 333.1,252.7 333.4,255.7 333.6,263.6" fill="none" stroke="#0000a0" stroke-width="0.7" stroke-linejoin="round"/>
<path d="M24,297.1 61.8,297.1" fill="none" stroke="#3a3ac0" stroke-width="1.0" />
<rect x="62.1" y="285.9" width="56.6" height="22.5" fill="#0000a0"/>
<path d="M61.8,309.6 62.2,280.3 62.4,312 62.7,282.5 62.9,312.1 63.2,283 63.5,313.5 63.8,280.5 64.1,310.7 64.4,281 64.8,312.8 65,284.4 65.4,312.9 65.8,287.6 66.2,313 66.6,289.2 66.9,308.6 67.2,280.4 67.6,308.6 67.9,281 68.2,308.4 68.6,284.7 68.8,313.5 69,280.2 69.2,311.8 69.4,284.8 69.7,314 69.9,286.4 70.1,310.1 70.6,282.1 70.8,313.7 71.1,280.3 71.5,304.8 71.8,287.4 72.1,305.2 72.4,284.2 72.6,314.3 72.8,283.3 73.1,313 73.3,280.3 73.6,312.6 73.9,283.4 74,312.6 74.4,282 74.8,314 75,282 75.4,313.8 75.7,280.1 76.1,310.2 76.3,279.9 76.7,311 77.1,289.5 77.5,310.6 77.7,280.6 78.1,312.6 78.3,280 78.6,307.9 78.9,280.9 79.1,303.7 79.6,282.8 79.9,310.1 80.2,281.5 80.4,313.5 80.7,285.4 81.1,313.8 81.3,281 81.6,313.9 81.9,280.5 82.2,312.3 82.5,282.4 82.9,311.3 83.4,285.6 83.7,310.3 84.1,281.1 84.4,312.4 84.6,280.9 85,311.8 85.3,284.4 85.7,309.4 86.1,282.3 86.4,313.3 86.8,283.9 87.1,308.4 87.4,281.5 87.7,309 87.9,281.8 88.2,312.8 88.5,280.4 88.8,309.5 89.1,282.5 89.4,311.6 89.8,280.5 90.1,312.8 90.4,283.8 90.7,313.2 90.9,282.7 91.1,314.2 91.4,282.1 91.6,309.4 92,280.7 92.3,312.5 92.7,282.5 92.9,312.6 93.2,281.7 93.4,306.5 93.8,282 94.1,308.6 94.4,282.5 94.6,313.9 94.9,281.4 95.3,311.1 95.7,281.9 96,311.7 96.4,284.8 96.6,311.8 96.8,281.1 97.1,311 97.4,290.1 97.6,306.9 97.9,280.3 98.2,312.1 98.5,285.3 98.9,308.6 99.1,281.9 99.5,308.6 99.9,283.8 100.3,313.7 100.6,283.5 101,310.4 101.4,281.9 101.8,303.4 102.2,282 102.5,312.2 102.7,281.1 103.1,312.2 103.4,281.3 103.7,309.8 104,284.4 104.4,311.9 104.6,284.6 104.8,311.2 105.2,280.6 105.5,312.1 105.7,280.7 105.9,310 106.2,282.6 106.6,312.9 107,283.8 107.3,311.8 107.6,281.8 107.8,314.1 108.2,280.5 108.4,312.3 108.6,282.1 109,309.3 109.3,285 109.7,309.3 110.1,281.8 110.3,311.4 110.5,280.5 110.8,313.5 111.2,284.4 111.4,310.8 111.7,280.9 111.9,311.1 112.3,282.4 112.6,313 112.8,281.6 113.2,313.9 113.6,283.4 114,304.4 114.2,281.6 114.4,309 114.6,282.4 114.8,311.4 115.1,290.7 115.3,308.5 115.6,287.8 116,311.9 116.3,282.4 116.7,313.2 117.1,280.2 117.3,312.2 117.5,282.4 117.8,309.8 118.1,282.6 118.3,311.1 118.6,281.9 118.8,309.5" fill="none" stroke="#0000a0" stroke-width="0.55"/>
<path d="M119,300.5 120.6,302.6 122.3,310.8 128,312.7 134.5,312.4 141,313.7 141.9,313.7 141.9,283.3 175,297.5 178,298.6 195,306.5 198,308.6 202,310.3 266.1,282.5 310,303.5 322.3,308.9 326.4,311.7 333,311.4 333.8,298.6 335.4,300" fill="none" stroke="#1414aa" stroke-width="1.1" stroke-linejoin="round"/>
<rect x="335.7" y="286.2" width="106.7" height="22.2" fill="#0000a0"/>
<path d="M335.4,310.6 335.7,281.4 336.1,312.2 336.5,281.9 336.7,311.2 337,284.9 337.2,308.3 337.4,285.7 337.8,309.4 338.2,282.1 338.6,310.2 339,284.1 339.4,311.9 339.7,284.7 340.1,310.6 340.3,286.8 340.5,311.7 340.9,281.2 341.3,305.3 341.6,280.8 341.8,312.1 342.2,284.9 342.6,311 342.8,280.4 343.1,308.8 343.3,285.1 343.5,313.9 343.7,284.9 343.9,307.2 344.1,282.9 344.4,311 344.7,283 345.1,313.1 345.3,290 345.6,311.7 345.8,283.4 346.2,311.6 346.4,286.2 346.8,311.1 347,283.9 347.1,310 347.5,280.5 347.7,314.4 348,282.1 348.3,313.2 348.6,280.6 349,308.6 349.2,284.5 349.4,310.2 349.7,281.9 349.9,311.4 350.1,281.6 350.4,309.7 350.7,280.9 351,310.3 351.4,284.8 351.8,312.8 352.1,288.9 352.4,306.2 352.8,286 353,311 353.2,281.6 353.4,314.3 353.8,281.9 354.2,311.1 354.5,286.6 354.7,312.1 355.1,281.7 355.5,310.1 355.8,281.4 356.1,312.8 356.3,286.2 356.7,311.2 357.1,282.9 357.5,313 357.8,282.3 358.1,313.3 358.5,281.9 358.8,313.9 359,282.9 359.3,309.7 359.7,283.3 360.1,309.5 360.4,283.4 360.6,312.4 360.9,282.3 361.2,310 361.4,280.5 361.7,312.3 362,285.7 362.4,311.7 362.8,280.9 363.1,310 363.4,284.5 363.7,312.6 364.1,281.6 364.4,311.1 364.7,283.1 365.1,313.7 365.5,288 365.7,313.7 366,289.7 366.3,313.7 366.5,280.4 366.8,312.2 367,283.1 367.3,314.3 367.5,285.9 367.7,313.8 368.1,285.4 368.5,312 368.6,285.5 369.1,308.3 369.4,285.1 369.6,312.3 369.9,282.5 370.3,313.6 370.5,281.2 370.8,306.2 371,283.3 371.3,312.8 371.5,282.4 371.8,312.1 372,281.3 372.2,311.7 372.6,290.1 373,314.2 373.2,280.9 373.6,313.1 373.9,282.4 374.2,312.7 374.6,282 374.9,312.3 375.3,287.8 375.7,310.6 375.9,281 376.3,313.4 376.6,284.3 376.8,311.7 377.1,284.3 377.5,313.2 377.8,280.6 378.1,312.8 378.5,283.3 378.9,309.4 379.1,282 379.4,309 379.6,280.5 379.8,310.1 380,282.1 380.2,310.9 380.5,281.3 380.8,309 381,286.3 381.4,309.9 381.6,282.4 382,312.5 382.4,280.7 382.6,314.1 383.1,281.7 383.3,312.3 383.6,281.5 384,311.1 384.3,282 384.7,312.9 385,290.5 385.4,308.7 385.6,282.3 386.1,311.5 386.3,286.1 386.6,311.8 387,282.3 387.4,314.4 387.6,282.5 388,309.7 388.3,283.3 388.5,309.9 388.9,280.3 389.3,308.6 389.7,283.3 390,310.9 390.3,285.6 390.5,311.8 390.7,282.8 390.9,309.9 391.2,282.7 391.5,313.6 391.9,284.4 392.2,308.8 392.6,289.5 392.8,307.5 393,281.7 393.4,313.5 393.8,280.2 394.1,314.3 394.5,281.4 394.7,313.2 395,284.6 395.3,305.9 395.6,282.4 396,314.3 396.4,282.9 396.7,313.3 397.1,284.1 397.5,312.5 397.9,282.6 398.3,313.2 398.7,282.7 399.1,308.8 399.4,281.3 399.7,309.5 400.1,280.7 400.5,313 400.7,282.7 400.9,309.7 401.1,281.3 401.4,312.5 401.6,282.6 401.9,313.8 402.3,281.9 402.7,309.8 402.9,282.2 403.1,309.8 403.5,283.4 403.8,312.8 404.1,280.9 404.5,313.8 404.8,285.7 405,303.5 405.3,281.5 405.7,314 405.9,285.4 406.2,312.2 406.4,281.9 406.7,312.7 406.9,282.4 407.3,312.3 407.6,280.7 407.8,309.6 408.2,281.4 408.5,313.1 408.9,283.3 409.2,309.7 409.6,281 410,312.5 410.2,280.8 410.5,308.7 410.8,282.8 411.1,313.1 411.3,285.5 411.7,312.9 411.9,282.1 412.2,308.4 412.6,284.1 412.9,313.6 413.3,280.5 413.5,310.1 413.8,284.5 414,312.9 414.4,281.2 414.7,309.2 415.1,280.3 415.4,312.9 415.8,280.9 416.1,312.8 416.4,281.6 416.6,313.1 416.9,280.3 417.1,310.6 417.4,284 417.6,303.5 417.8,280.5 418.2,313.6 418.5,281.8 418.9,313.2 419.4,284.6 419.8,310.4 420.1,281.9 420.4,309.7 420.8,289.3 421.1,308.4 421.3,280.5 421.5,312.2 421.9,285.2 422.2,309.9 422.4,282.1 422.7,309.3 423,285.8 423.3,311 423.7,285.5 424,308.6 424.4,283.2 424.6,313.2 424.9,285.9 425.2,314.1 425.5,285.5 425.7,313.9 426,286.3 426.2,305.7 426.6,282.4 426.8,303.7 427.1,281.1 427.4,305.7 427.8,283.5 428.1,306.8 428.5,281 428.8,310.5 429,282.6 429.2,311.5 429.5,280.9 429.7,311.1 429.9,289.7 430.2,313.7 430.6,289.9 430.8,313.6 431,280.3 431.4,304.3 431.8,281.9 432,312.6 432.4,281.4 432.7,313.7 433.1,284.8 433.3,309 433.6,280.4 433.7,309.4 434.2,285.4 434.4,303.8 434.8,286 435.2,309.6 435.6,280.3 436,311.9 436.4,285.9 436.7,309.1 436.9,284.1 437,308.9 437.4,281.7 437.6,312.7 437.9,284.9 438.1,311.6 438.5,282.3 439,313.8 439.2,281 439.6,311 439.9,290.8 440.2,312.7 440.6,281.8 441,312.1 441.3,284.2 441.5,307.4 441.8,280.3 442,312.2 442.4,282.8 442.6,313.6" fill="none" stroke="#0000a0" stroke-width="0.55"/>
<path d="M442.7,297.4 531.6,297.4" fill="none" stroke="#3a3ac0" stroke-width="1.0" />
<line x1="24" y1="62.2" x2="24" y2="59.2" stroke="#111" stroke-width="1.2"/>
<line x1="87.5" y1="62.2" x2="87.5" y2="60.6" stroke="#111" stroke-width="1.2"/>
<line x1="150.9" y1="62.2" x2="150.9" y2="59.2" stroke="#111" stroke-width="1.2"/>
<line x1="214.4" y1="62.2" x2="214.4" y2="60.6" stroke="#111" stroke-width="1.2"/>
<line x1="277.8" y1="62.2" x2="277.8" y2="59.2" stroke="#111" stroke-width="1.2"/>
<line x1="341.2" y1="62.2" x2="341.2" y2="60.6" stroke="#111" stroke-width="1.2"/>
<line x1="404.7" y1="62.2" x2="404.7" y2="59.2" stroke="#111" stroke-width="1.2"/>
<line x1="468.2" y1="62.2" x2="468.2" y2="60.6" stroke="#111" stroke-width="1.2"/>
<line x1="531.6" y1="62.2" x2="531.6" y2="59.2" stroke="#111" stroke-width="1.2"/>
<line x1="24" y1="113.5" x2="24" y2="110.5" stroke="#111" stroke-width="1.2"/>
<line x1="87.5" y1="113.5" x2="87.5" y2="111.9" stroke="#111" stroke-width="1.2"/>
<line x1="150.9" y1="113.5" x2="150.9" y2="110.5" stroke="#111" stroke-width="1.2"/>
<line x1="214.4" y1="113.5" x2="214.4" y2="111.9" stroke="#111" stroke-width="1.2"/>
<line x1="277.8" y1="113.5" x2="277.8" y2="110.5" stroke="#111" stroke-width="1.2"/>
<line x1="341.2" y1="113.5" x2="341.2" y2="111.9" stroke="#111" stroke-width="1.2"/>
<line x1="404.7" y1="113.5" x2="404.7" y2="110.5" stroke="#111" stroke-width="1.2"/>
<line x1="468.2" y1="113.5" x2="468.2" y2="111.9" stroke="#111" stroke-width="1.2"/>
<line x1="531.6" y1="113.5" x2="531.6" y2="110.5" stroke="#111" stroke-width="1.2"/>
<line x1="24" y1="164.7" x2="24" y2="161.7" stroke="#111" stroke-width="1.2"/>
<line x1="87.5" y1="164.7" x2="87.5" y2="163.1" stroke="#111" stroke-width="1.2"/>
<line x1="150.9" y1="164.7" x2="150.9" y2="161.7" stroke="#111" stroke-width="1.2"/>
<line x1="214.4" y1="164.7" x2="214.4" y2="163.1" stroke="#111" stroke-width="1.2"/>
<line x1="277.8" y1="164.7" x2="277.8" y2="161.7" stroke="#111" stroke-width="1.2"/>
<line x1="341.2" y1="164.7" x2="341.2" y2="163.1" stroke="#111" stroke-width="1.2"/>
<line x1="404.7" y1="164.7" x2="404.7" y2="161.7" stroke="#111" stroke-width="1.2"/>
<line x1="468.2" y1="164.7" x2="468.2" y2="163.1" stroke="#111" stroke-width="1.2"/>
<line x1="531.6" y1="164.7" x2="531.6" y2="161.7" stroke="#111" stroke-width="1.2"/>
<line x1="24" y1="215.9" x2="24" y2="212.9" stroke="#111" stroke-width="1.2"/>
<line x1="87.5" y1="215.9" x2="87.5" y2="214.3" stroke="#111" stroke-width="1.2"/>
<line x1="150.9" y1="215.9" x2="150.9" y2="212.9" stroke="#111" stroke-width="1.2"/>
<line x1="214.4" y1="215.9" x2="214.4" y2="214.3" stroke="#111" stroke-width="1.2"/>
<line x1="277.8" y1="215.9" x2="277.8" y2="212.9" stroke="#111" stroke-width="1.2"/>
<line x1="341.2" y1="215.9" x2="341.2" y2="214.3" stroke="#111" stroke-width="1.2"/>
<line x1="404.7" y1="215.9" x2="404.7" y2="212.9" stroke="#111" stroke-width="1.2"/>
<line x1="468.2" y1="215.9" x2="468.2" y2="214.3" stroke="#111" stroke-width="1.2"/>
<line x1="531.6" y1="215.9" x2="531.6" y2="212.9" stroke="#111" stroke-width="1.2"/>
<line x1="24" y1="267.1" x2="24" y2="264.1" stroke="#111" stroke-width="1.2"/>
<line x1="87.5" y1="267.1" x2="87.5" y2="265.5" stroke="#111" stroke-width="1.2"/>
<line x1="150.9" y1="267.1" x2="150.9" y2="264.1" stroke="#111" stroke-width="1.2"/>
<line x1="214.4" y1="267.1" x2="214.4" y2="265.5" stroke="#111" stroke-width="1.2"/>
<line x1="277.8" y1="267.1" x2="277.8" y2="264.1" stroke="#111" stroke-width="1.2"/>
<line x1="341.2" y1="267.1" x2="341.2" y2="265.5" stroke="#111" stroke-width="1.2"/>
<line x1="404.7" y1="267.1" x2="404.7" y2="264.1" stroke="#111" stroke-width="1.2"/>
<line x1="468.2" y1="267.1" x2="468.2" y2="265.5" stroke="#111" stroke-width="1.2"/>
<line x1="531.6" y1="267.1" x2="531.6" y2="264.1" stroke="#111" stroke-width="1.2"/>
<line x1="24" y1="318.4" x2="24" y2="315.4" stroke="#111" stroke-width="1.2"/>
<line x1="87.5" y1="318.4" x2="87.5" y2="316.8" stroke="#111" stroke-width="1.2"/>
<line x1="150.9" y1="318.4" x2="150.9" y2="315.4" stroke="#111" stroke-width="1.2"/>
<line x1="214.4" y1="318.4" x2="214.4" y2="316.8" stroke="#111" stroke-width="1.2"/>
<line x1="277.8" y1="318.4" x2="277.8" y2="315.4" stroke="#111" stroke-width="1.2"/>
<line x1="341.2" y1="318.4" x2="341.2" y2="316.8" stroke="#111" stroke-width="1.2"/>
<line x1="404.7" y1="318.4" x2="404.7" y2="315.4" stroke="#111" stroke-width="1.2"/>
<line x1="468.2" y1="318.4" x2="468.2" y2="316.8" stroke="#111" stroke-width="1.2"/>
<line x1="531.6" y1="318.4" x2="531.6" y2="315.4" stroke="#111" stroke-width="1.2"/>
<rect x="24" y="11" width="507.6" height="307.4" fill="none" stroke="#111" stroke-width="1.5"/>
<line x1="24" y1="62.2" x2="531.6" y2="62.2" stroke="#111" stroke-width="1.5"/>
<line x1="24" y1="113.5" x2="531.6" y2="113.5" stroke="#111" stroke-width="1.5"/>
<line x1="24" y1="164.7" x2="531.6" y2="164.7" stroke="#111" stroke-width="1.5"/>
<line x1="24" y1="215.9" x2="531.6" y2="215.9" stroke="#111" stroke-width="1.5"/>
<line x1="24" y1="267.1" x2="531.6" y2="267.1" stroke="#111" stroke-width="1.5"/>
<line x1="24" y1="57.4" x2="27.9" y2="57.4" stroke="#111" stroke-width="1.25"/>
<text x="13.2" y="59" font-size="6.0" textLength="7.5" lengthAdjust="spacingAndGlyphs">0.0</text>
<line x1="24" y1="48.1" x2="27.9" y2="48.1" stroke="#111" stroke-width="1.25"/>
<text x="13.2" y="49.7" font-size="6.0" textLength="7.5" lengthAdjust="spacingAndGlyphs">0.1</text>
<line x1="24" y1="38.8" x2="27.9" y2="38.8" stroke="#111" stroke-width="1.25"/>
<text x="13.2" y="40.5" font-size="6.0" textLength="7.5" lengthAdjust="spacingAndGlyphs">0.2</text>
<line x1="24" y1="29.5" x2="27.9" y2="29.5" stroke="#111" stroke-width="1.25"/>
<text x="13.2" y="31.2" font-size="6.0" textLength="7.5" lengthAdjust="spacingAndGlyphs">0.3</text>
<line x1="24" y1="20.3" x2="27.9" y2="20.3" stroke="#111" stroke-width="1.25"/>
<text x="13.2" y="21.9" font-size="6.0" textLength="7.5" lengthAdjust="spacingAndGlyphs">0.4</text>
<line x1="24" y1="11" x2="27.9" y2="11" stroke="#111" stroke-width="1.25"/>
<text x="13.2" y="12.7" font-size="6.0" textLength="7.5" lengthAdjust="spacingAndGlyphs">0.5</text>
<line x1="24" y1="109.5" x2="27.9" y2="109.5" stroke="#111" stroke-width="1.25"/>
<text x="13.2" y="111.2" font-size="6.0" textLength="7.5" lengthAdjust="spacingAndGlyphs">0.0</text>
<line x1="24" y1="102.2" x2="27.9" y2="102.2" stroke="#111" stroke-width="1.25"/>
<text x="13.2" y="103.8" font-size="6.0" textLength="7.5" lengthAdjust="spacingAndGlyphs">0.1</text>
<line x1="24" y1="94.9" x2="27.9" y2="94.9" stroke="#111" stroke-width="1.25"/>
<text x="13.2" y="96.5" font-size="6.0" textLength="7.5" lengthAdjust="spacingAndGlyphs">0.2</text>
<line x1="24" y1="87.6" x2="27.9" y2="87.6" stroke="#111" stroke-width="1.25"/>
<text x="13.2" y="89.2" font-size="6.0" textLength="7.5" lengthAdjust="spacingAndGlyphs">0.3</text>
<line x1="24" y1="80.3" x2="27.9" y2="80.3" stroke="#111" stroke-width="1.25"/>
<text x="13.2" y="81.9" font-size="6.0" textLength="7.5" lengthAdjust="spacingAndGlyphs">0.4</text>
<line x1="24" y1="73" x2="27.9" y2="73" stroke="#111" stroke-width="1.25"/>
<text x="13.2" y="74.6" font-size="6.0" textLength="7.5" lengthAdjust="spacingAndGlyphs">0.5</text>
<line x1="24" y1="65.6" x2="27.9" y2="65.6" stroke="#111" stroke-width="1.25"/>
<text x="13.2" y="67.3" font-size="6.0" textLength="7.5" lengthAdjust="spacingAndGlyphs">0.6</text>
<line x1="24" y1="160.2" x2="27.9" y2="160.2" stroke="#111" stroke-width="1.25"/>
<text x="9.9" y="161.8" font-size="6.0" textLength="10.8" lengthAdjust="spacingAndGlyphs">-200</text>
<line x1="24" y1="151.7" x2="27.9" y2="151.7" stroke="#111" stroke-width="1.25"/>
<text x="9.9" y="153.3" font-size="6.0" textLength="10.8" lengthAdjust="spacingAndGlyphs">-100</text>
<line x1="24" y1="143.1" x2="27.9" y2="143.1" stroke="#111" stroke-width="1.25"/>
<text x="17.7" y="144.8" font-size="6.0" textLength="3" lengthAdjust="spacingAndGlyphs">0</text>
<line x1="24" y1="134.5" x2="27.9" y2="134.5" stroke="#111" stroke-width="1.25"/>
<text x="11.7" y="136.2" font-size="6.0" textLength="9" lengthAdjust="spacingAndGlyphs">100</text>
<line x1="24" y1="126" x2="27.9" y2="126" stroke="#111" stroke-width="1.25"/>
<text x="11.7" y="127.7" font-size="6.0" textLength="9" lengthAdjust="spacingAndGlyphs">200</text>
<line x1="24" y1="117.4" x2="27.9" y2="117.4" stroke="#111" stroke-width="1.25"/>
<text x="11.7" y="119.1" font-size="6.0" textLength="9" lengthAdjust="spacingAndGlyphs">300</text>
<line x1="24" y1="211.5" x2="27.9" y2="211.5" stroke="#111" stroke-width="1.25"/>
<text x="10.2" y="213.2" font-size="6.0" textLength="10.5" lengthAdjust="spacingAndGlyphs">0.00</text>
<line x1="24" y1="202.9" x2="27.9" y2="202.9" stroke="#111" stroke-width="1.25"/>
<text x="10.2" y="204.6" font-size="6.0" textLength="10.5" lengthAdjust="spacingAndGlyphs">0.05</text>
<line x1="24" y1="194.4" x2="27.9" y2="194.4" stroke="#111" stroke-width="1.25"/>
<text x="10.2" y="196.1" font-size="6.0" textLength="10.5" lengthAdjust="spacingAndGlyphs">0.10</text>
<line x1="24" y1="185.8" x2="27.9" y2="185.8" stroke="#111" stroke-width="1.25"/>
<text x="10.2" y="187.5" font-size="6.0" textLength="10.5" lengthAdjust="spacingAndGlyphs">0.15</text>
<line x1="24" y1="177.3" x2="27.9" y2="177.3" stroke="#111" stroke-width="1.25"/>
<text x="10.2" y="179" font-size="6.0" textLength="10.5" lengthAdjust="spacingAndGlyphs">0.20</text>
<line x1="24" y1="168.8" x2="27.9" y2="168.8" stroke="#111" stroke-width="1.25"/>
<text x="10.2" y="170.4" font-size="6.0" textLength="10.5" lengthAdjust="spacingAndGlyphs">0.25</text>
<line x1="24" y1="263.4" x2="27.9" y2="263.4" stroke="#111" stroke-width="1.25"/>
<text x="10.2" y="265" font-size="6.0" textLength="10.5" lengthAdjust="spacingAndGlyphs">0.00</text>
<line x1="24" y1="256.1" x2="27.9" y2="256.1" stroke="#111" stroke-width="1.25"/>
<text x="10.2" y="257.7" font-size="6.0" textLength="10.5" lengthAdjust="spacingAndGlyphs">0.05</text>
<line x1="24" y1="248.7" x2="27.9" y2="248.7" stroke="#111" stroke-width="1.25"/>
<text x="10.2" y="250.4" font-size="6.0" textLength="10.5" lengthAdjust="spacingAndGlyphs">0.10</text>
<line x1="24" y1="241.4" x2="27.9" y2="241.4" stroke="#111" stroke-width="1.25"/>
<text x="10.2" y="243.1" font-size="6.0" textLength="10.5" lengthAdjust="spacingAndGlyphs">0.15</text>
<line x1="24" y1="234.1" x2="27.9" y2="234.1" stroke="#111" stroke-width="1.25"/>
<text x="10.2" y="235.7" font-size="6.0" textLength="10.5" lengthAdjust="spacingAndGlyphs">0.20</text>
<line x1="24" y1="226.7" x2="27.9" y2="226.7" stroke="#111" stroke-width="1.25"/>
<text x="10.2" y="228.4" font-size="6.0" textLength="10.5" lengthAdjust="spacingAndGlyphs">0.25</text>
<line x1="24" y1="219.4" x2="27.9" y2="219.4" stroke="#111" stroke-width="1.25"/>
<text x="10.2" y="221.1" font-size="6.0" textLength="10.5" lengthAdjust="spacingAndGlyphs">0.30</text>
<line x1="24" y1="314.1" x2="27.9" y2="314.1" stroke="#111" stroke-width="1.25"/>
<text x="9.9" y="315.8" font-size="6.0" textLength="10.8" lengthAdjust="spacingAndGlyphs">-200</text>
<line x1="24" y1="305.6" x2="27.9" y2="305.6" stroke="#111" stroke-width="1.25"/>
<text x="9.9" y="307.2" font-size="6.0" textLength="10.8" lengthAdjust="spacingAndGlyphs">-100</text>
<line x1="24" y1="297" x2="27.9" y2="297" stroke="#111" stroke-width="1.25"/>
<text x="17.7" y="298.6" font-size="6.0" textLength="3" lengthAdjust="spacingAndGlyphs">0</text>
<line x1="24" y1="288.4" x2="27.9" y2="288.4" stroke="#111" stroke-width="1.25"/>
<text x="11.7" y="290.1" font-size="6.0" textLength="9" lengthAdjust="spacingAndGlyphs">100</text>
<line x1="24" y1="279.9" x2="27.9" y2="279.9" stroke="#111" stroke-width="1.25"/>
<text x="11.7" y="281.5" font-size="6.0" textLength="9" lengthAdjust="spacingAndGlyphs">200</text>
<line x1="24" y1="271.4" x2="27.9" y2="271.4" stroke="#111" stroke-width="1.25"/>
<text x="11.7" y="273" font-size="6.0" textLength="9" lengthAdjust="spacingAndGlyphs">300</text>
<text transform="translate(7.3,35.9) rotate(-90)" font-size="6.7" text-anchor="middle" textLength="37.1" lengthAdjust="spacingAndGlyphs">Power (MW)</text>
<text transform="translate(7.3,88.2) rotate(-90)" font-size="6.7" text-anchor="middle" textLength="35.5" lengthAdjust="spacingAndGlyphs" font-style="italic">Power (MW)</text>
<text transform="translate(7.3,139.9) rotate(-90)" font-size="6.7" text-anchor="middle" textLength="34.7" lengthAdjust="spacingAndGlyphs">Phase (deg)</text>
<text transform="translate(7.3,185.8) rotate(-90)" font-size="7.2" text-anchor="middle" textLength="40.3" lengthAdjust="spacingAndGlyphs" font-style="italic">Power (MW)</text>
<text transform="translate(7.3,237.4) rotate(-90)" font-size="7.0" text-anchor="middle" textLength="38.7" lengthAdjust="spacingAndGlyphs">Power (MW)</text>
<text transform="translate(7.3,292.7) rotate(-90)" font-size="6.9" text-anchor="middle" textLength="37.7" lengthAdjust="spacingAndGlyphs">Phase (deg)</text>
<text x="24" y="326.1" font-size="5.8" text-anchor="middle">3</text>
<text x="150.9" y="326.1" font-size="5.8" text-anchor="middle">4</text>
<text x="277.8" y="326.1" font-size="5.8" text-anchor="middle">5</text>
<text x="404.7" y="326.1" font-size="5.8" text-anchor="middle">6</text>
<text x="531.6" y="326.1" font-size="5.8" text-anchor="middle">7</text>
<text x="247.5" y="334.4" font-size="7" textLength="20.1" lengthAdjust="spacingAndGlyphs">t (sec)</text>
<text x="25.6" y="6.1" font-size="8.4" textLength="88.2" lengthAdjust="spacingAndGlyphs">LHD Pulse No: 180322</text>
<line x1="488" y1="16.1" x2="504" y2="16.1" stroke="#ff9933" stroke-width="1.2"/>
<text x="505.8" y="18.5" font-size="7.4">P</text>
<text class="s" x="510.4" y="21.7" font-size="4.4" textLength="16.9" lengthAdjust="spacingAndGlyphs">f_HAS_U</text>
<line x1="488" y1="26.8" x2="504" y2="26.8" stroke="#6666cc" stroke-width="1.4"/>
<text x="505.8" y="29.2" font-size="7.4">P</text>
<text class="s" x="510.4" y="32.4" font-size="4.4" textLength="16.9" lengthAdjust="spacingAndGlyphs">r_HAS_U</text>
<line x1="488" y1="68.1" x2="503.7" y2="68.1" stroke="#33ee33" stroke-width="1.0"/>
<text x="505.8" y="70.6" font-size="7.4">P</text>
<text class="s" x="510.4" y="73.8" font-size="4.4" textLength="16.3" lengthAdjust="spacingAndGlyphs">f_HAS_L</text>
<line x1="488" y1="79.1" x2="503.7" y2="79.1" stroke="#8888dd" stroke-width="1.4"/>
<text x="505.8" y="81.3" font-size="7.4">P</text>
<text class="s" x="510.4" y="84.5" font-size="4.4" textLength="16.3" lengthAdjust="spacingAndGlyphs">r_HAS_L</text>
<line x1="487.1" y1="172.2" x2="503.1" y2="172.2" stroke="#3399ff" stroke-width="1.0"/>
<text x="504.6" y="174.5" font-size="7.4">P</text>
<text class="s" x="509.2" y="177.7" font-size="4.4" textLength="18.1" lengthAdjust="spacingAndGlyphs">f_FAIT_U</text>
<line x1="487.1" y1="183.1" x2="503.1" y2="183.1" stroke="#8888dd" stroke-width="1.4"/>
<text x="504.6" y="185.3" font-size="7.4">P</text>
<text class="s" x="509.2" y="188.5" font-size="4.4" textLength="18.1" lengthAdjust="spacingAndGlyphs">r_FAIT_U</text>
<line x1="486" y1="222.6" x2="501.7" y2="222.6" stroke="#ff9999" stroke-width="1.2"/>
<text x="503.7" y="224.9" font-size="7.4">P</text>
<text class="s" x="508.3" y="228.1" font-size="4.4" textLength="16.7" lengthAdjust="spacingAndGlyphs">f_FAIT_L</text>
<line x1="486" y1="233.3" x2="501.7" y2="233.3" stroke="#5555cc" stroke-width="1.0"/>
<text x="503.7" y="235.6" font-size="7.4">P</text>
<text class="s" x="508.3" y="238.8" font-size="4.4" textLength="16.7" lengthAdjust="spacingAndGlyphs">r_FAIT_L</text>
<line x1="427.2" y1="119.5" x2="442.7" y2="119.5" stroke="#4848c4" stroke-width="1.1"/>
<text x="444.9" y="122.3" font-size="6.2" textLength="83.2" lengthAdjust="spacingAndGlyphs">phase (I_HAS_L/I_HAS_U)</text>
<line x1="422.5" y1="274.5" x2="437.4" y2="274.5" stroke="#4848c4" stroke-width="1.1"/>
<text x="439.7" y="277.2" font-size="6.2" textLength="85.2" lengthAdjust="spacingAndGlyphs">phase (I_FAIT_L/I_FAIT_U)</text>
<text x="160.9" y="17.5" font-size="6.8">P</text>
<text x="164.5" y="19.6" font-size="4.5">f</text>
<text x="165.5" y="17.5" font-size="6.8" textLength="7.9" lengthAdjust="spacingAndGlyphs">(l),</text>
<text x="177.2" y="17.5" font-size="6.8">P</text>
<text x="181" y="19.6" font-size="4.5">r</text>
<text x="182.8" y="17.5" font-size="6.8" textLength="7.0" lengthAdjust="spacingAndGlyphs">(l)</text>
<line x1="191.2" y1="12.6" x2="191.2" y2="22" stroke="#ff6a6a" stroke-width="0.9"/>
<path d="M190.2,21 L192.2,21 L191.2,23.2 Z" fill="#ff2020"/>
<text x="235.1" y="17.6" font-size="6.6">P</text>
<text x="238.5" y="19.7" font-size="4.3">f</text>
<text x="239.8" y="17.6" font-size="6.6" textLength="16.5" lengthAdjust="spacingAndGlyphs">(l+1),</text>
<text x="258.5" y="17.6" font-size="6.6">P</text>
<text x="261.9" y="19.7" font-size="4.3">r</text>
<text x="263.3" y="17.6" font-size="6.6" textLength="16.4" lengthAdjust="spacingAndGlyphs">(l+1)</text>
<line x1="230.3" y1="12.8" x2="230.3" y2="21.4" stroke="#ff6a6a" stroke-width="0.9"/>
<path d="M229.3,20.4 L231.3,20.4 L230.3,22.6 Z" fill="#ff2020"/>
<text x="156.2" y="69.6" font-size="6.8">P'</text>
<text x="161.8" y="71.6" font-size="4.3">f</text>
<text x="165.2" y="69.6" font-size="6.8" textLength="7.2" lengthAdjust="spacingAndGlyphs">(l),</text>
<text x="173.8" y="69.6" font-size="6.8">P'</text>
<text x="179.8" y="71.6" font-size="4.3">r</text>
<text x="182.1" y="69.6" font-size="6.8" textLength="6.5" lengthAdjust="spacingAndGlyphs">(l)</text>
<line x1="190" y1="64.3" x2="190" y2="68.6" stroke="#ff7070" stroke-width="1.2"/>
<path d="M189,67.6 L191,67.6 L190,69.8 Z" fill="#ff2020"/>
<text x="233.5" y="70.7" font-size="6.8">P'</text>
<text x="238.4" y="72.7" font-size="4.3">f</text>
<text x="240.6" y="70.7" font-size="6.8" textLength="17" lengthAdjust="spacingAndGlyphs">(l+1),</text>
<text x="258.5" y="70.7" font-size="6.8">P'</text>
<text x="263.8" y="72.7" font-size="4.3">r</text>
<text x="265.8" y="70.7" font-size="6.8" textLength="15.1" lengthAdjust="spacingAndGlyphs">(l+1)</text>
<line x1="229.8" y1="65.3" x2="229.8" y2="73.6" stroke="#ffb0b0" stroke-width="1.4"/>
<path d="M228.8,72.6 L230.8,72.6 L229.8,74.8 Z" fill="#ff2020"/>
<text x="33" y="21.3" font-size="7.0">(a)</text>
<text x="34" y="72.4" font-size="7.0">(b)</text>
<text x="33.8" y="123.4" font-size="7.0">(c)</text>
<text x="33.8" y="174.7" font-size="7.0">(d)</text>
<text x="34" y="225.4" font-size="7.0">(e)</text>
<text x="33" y="276.3" font-size="7.0">(f)</text>
</svg></body></html>
